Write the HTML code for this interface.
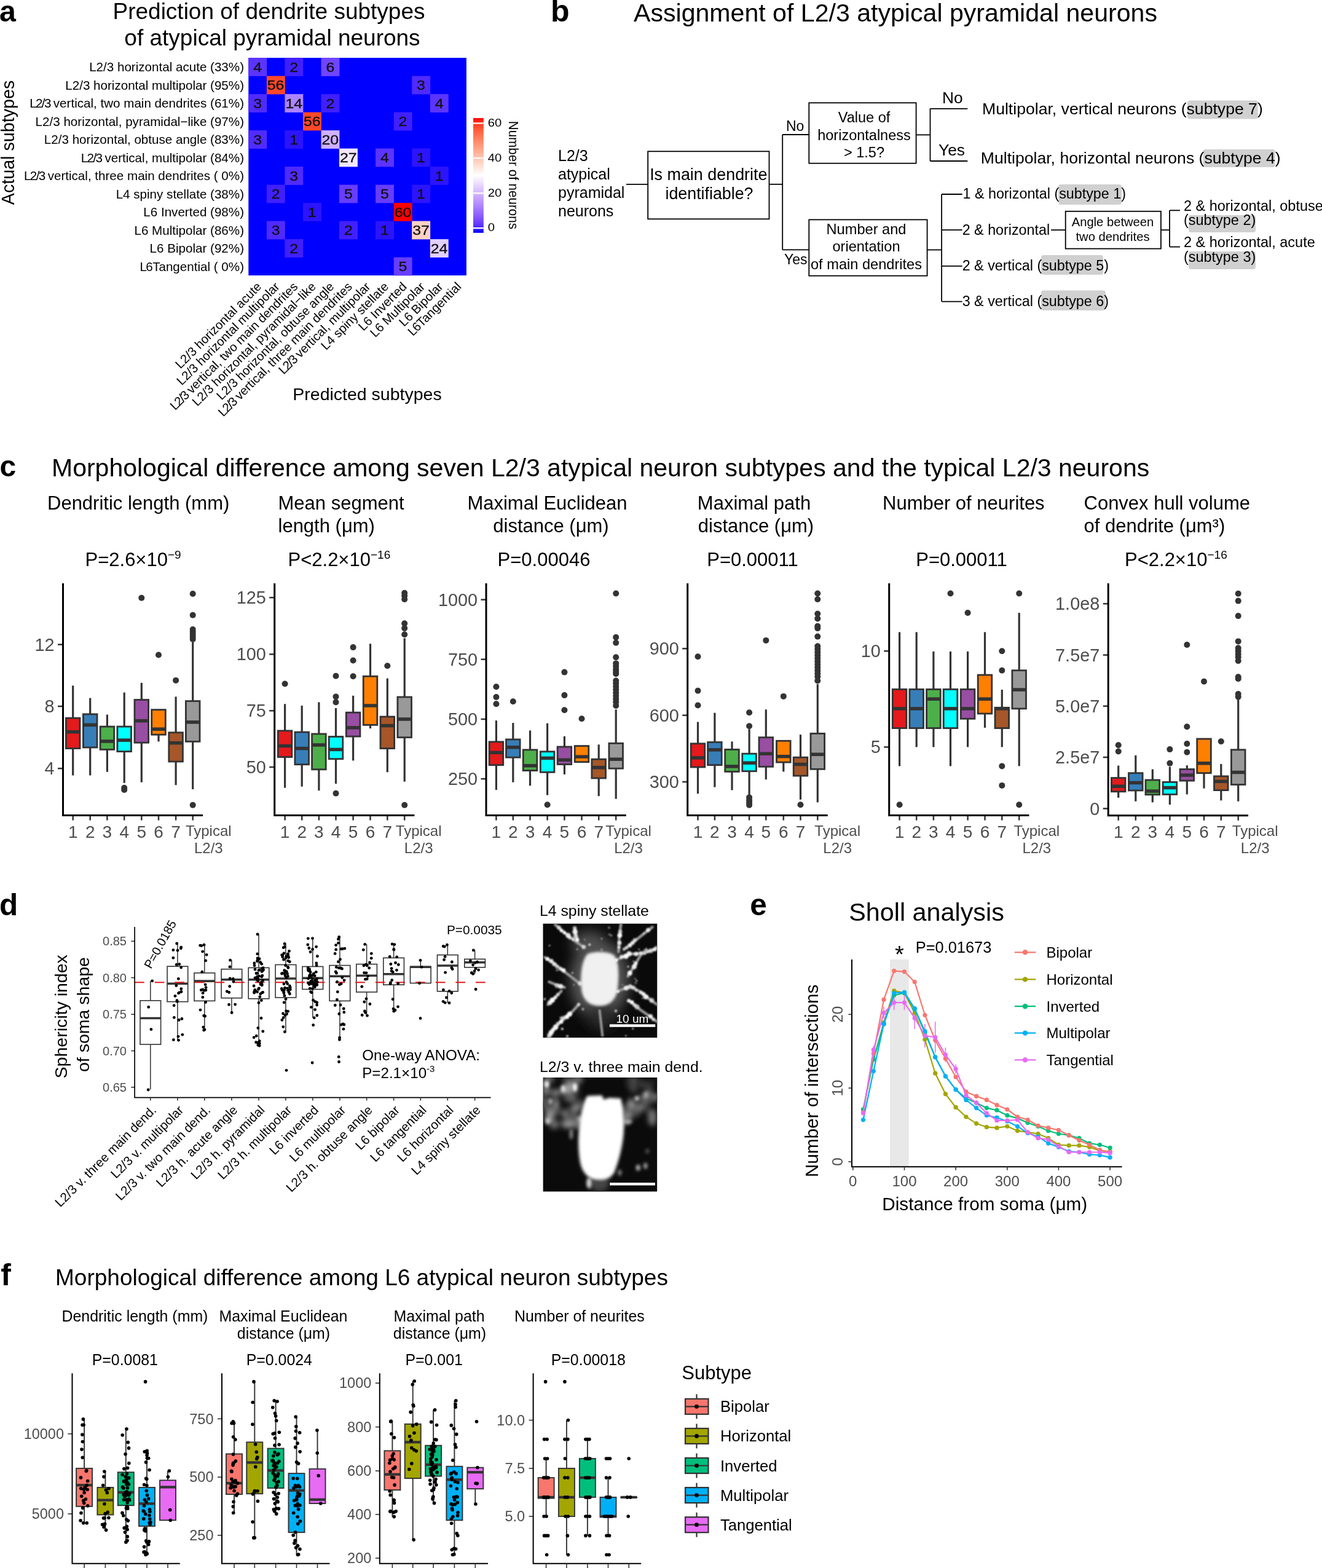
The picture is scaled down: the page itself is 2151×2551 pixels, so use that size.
<!DOCTYPE html>
<html><head><meta charset="utf-8"><title>Figure</title>
<style>html,body{margin:0;padding:0;background:#fff;} svg{display:block;}</style></head>
<body><svg width="2151" height="2551" viewBox="0 0 2151 2551" font-family="&quot;Liberation Sans&quot;, Arial, sans-serif">
<rect width="2151" height="2551" fill="#fff"/>
<text x="-0.9" y="35.0" font-size="48.3" font-weight="bold">a</text>
<text x="437.5" y="30.5" font-size="37" text-anchor="middle">Prediction of dendrite subtypes</text>
<text x="443.0" y="74.3" font-size="37" text-anchor="middle">of atypical pyramidal neurons</text>
<rect x="404.3" y="94.1" width="354.6" height="354.0" fill="#0000ff"/>
<rect x="404.3" y="94.1" width="29.9" height="29.8" fill="#5c34ff"/>
<rect x="463.4" y="94.1" width="29.9" height="29.8" fill="#4120ff"/>
<rect x="522.5" y="94.1" width="29.9" height="29.8" fill="#7145ff"/>
<rect x="433.9" y="123.6" width="29.9" height="29.8" fill="#ff482a"/>
<rect x="670.2" y="123.6" width="29.9" height="29.8" fill="#502bff"/>
<rect x="404.3" y="153.1" width="29.9" height="29.8" fill="#502bff"/>
<rect x="463.4" y="153.1" width="29.9" height="29.8" fill="#ad84ff"/>
<rect x="522.5" y="153.1" width="29.9" height="29.8" fill="#4120ff"/>
<rect x="699.8" y="153.1" width="29.9" height="29.8" fill="#5c34ff"/>
<rect x="493.0" y="182.6" width="29.9" height="29.8" fill="#ff482a"/>
<rect x="640.7" y="182.6" width="29.9" height="29.8" fill="#4120ff"/>
<rect x="404.3" y="212.1" width="29.9" height="29.8" fill="#502bff"/>
<rect x="463.4" y="212.1" width="29.9" height="29.8" fill="#2d14ff"/>
<rect x="522.5" y="212.1" width="29.9" height="29.8" fill="#cfb1ff"/>
<rect x="552.0" y="241.6" width="29.9" height="29.8" fill="#f2e7ff"/>
<rect x="611.1" y="241.6" width="29.9" height="29.8" fill="#5c34ff"/>
<rect x="670.2" y="241.6" width="29.9" height="29.8" fill="#2d14ff"/>
<rect x="463.4" y="271.1" width="29.9" height="29.8" fill="#502bff"/>
<rect x="699.8" y="271.1" width="29.9" height="29.8" fill="#2d14ff"/>
<rect x="433.9" y="300.6" width="29.9" height="29.8" fill="#4120ff"/>
<rect x="552.0" y="300.6" width="29.9" height="29.8" fill="#673dff"/>
<rect x="611.1" y="300.6" width="29.9" height="29.8" fill="#673dff"/>
<rect x="670.2" y="300.6" width="29.9" height="29.8" fill="#2d14ff"/>
<rect x="493.0" y="330.1" width="29.9" height="29.8" fill="#2d14ff"/>
<rect x="640.7" y="330.1" width="29.9" height="29.8" fill="#ff0000"/>
<rect x="433.9" y="359.6" width="29.9" height="29.8" fill="#502bff"/>
<rect x="552.0" y="359.6" width="29.9" height="29.8" fill="#4120ff"/>
<rect x="611.1" y="359.6" width="29.9" height="29.8" fill="#2d14ff"/>
<rect x="670.2" y="359.6" width="29.9" height="29.8" fill="#ffd2c3"/>
<rect x="463.4" y="389.1" width="29.9" height="29.8" fill="#4120ff"/>
<rect x="699.8" y="389.1" width="29.9" height="29.8" fill="#e3d0ff"/>
<rect x="640.7" y="418.6" width="29.9" height="29.8" fill="#673dff"/>
<text transform="translate(419.1 116.8) scale(1.1 1)" font-size="22.6" text-anchor="middle" fill="#111" stroke="#111" stroke-width="0.35">4</text>
<text transform="translate(478.2 116.8) scale(1.1 1)" font-size="22.6" text-anchor="middle" fill="#111" stroke="#111" stroke-width="0.35">2</text>
<text transform="translate(537.3 116.8) scale(1.1 1)" font-size="22.6" text-anchor="middle" fill="#111" stroke="#111" stroke-width="0.35">6</text>
<text transform="translate(448.6 146.2) scale(1.1 1)" font-size="22.6" text-anchor="middle" fill="#111" stroke="#111" stroke-width="0.35">56</text>
<text transform="translate(685.0 146.2) scale(1.1 1)" font-size="22.6" text-anchor="middle" fill="#111" stroke="#111" stroke-width="0.35">3</text>
<text transform="translate(419.1 175.8) scale(1.1 1)" font-size="22.6" text-anchor="middle" fill="#111" stroke="#111" stroke-width="0.35">3</text>
<text transform="translate(478.2 175.8) scale(1.1 1)" font-size="22.6" text-anchor="middle" fill="#111" stroke="#111" stroke-width="0.35">14</text>
<text transform="translate(537.3 175.8) scale(1.1 1)" font-size="22.6" text-anchor="middle" fill="#111" stroke="#111" stroke-width="0.35">2</text>
<text transform="translate(714.6 175.8) scale(1.1 1)" font-size="22.6" text-anchor="middle" fill="#111" stroke="#111" stroke-width="0.35">4</text>
<text transform="translate(507.7 205.2) scale(1.1 1)" font-size="22.6" text-anchor="middle" fill="#111" stroke="#111" stroke-width="0.35">56</text>
<text transform="translate(655.5 205.2) scale(1.1 1)" font-size="22.6" text-anchor="middle" fill="#111" stroke="#111" stroke-width="0.35">2</text>
<text transform="translate(419.1 234.8) scale(1.1 1)" font-size="22.6" text-anchor="middle" fill="#111" stroke="#111" stroke-width="0.35">3</text>
<text transform="translate(478.2 234.8) scale(1.1 1)" font-size="22.6" text-anchor="middle" fill="#111" stroke="#111" stroke-width="0.35">1</text>
<text transform="translate(537.3 234.8) scale(1.1 1)" font-size="22.6" text-anchor="middle" fill="#111" stroke="#111" stroke-width="0.35">20</text>
<text transform="translate(566.8 264.2) scale(1.1 1)" font-size="22.6" text-anchor="middle" fill="#111" stroke="#111" stroke-width="0.35">27</text>
<text transform="translate(625.9 264.2) scale(1.1 1)" font-size="22.6" text-anchor="middle" fill="#111" stroke="#111" stroke-width="0.35">4</text>
<text transform="translate(685.0 264.2) scale(1.1 1)" font-size="22.6" text-anchor="middle" fill="#111" stroke="#111" stroke-width="0.35">1</text>
<text transform="translate(478.2 293.8) scale(1.1 1)" font-size="22.6" text-anchor="middle" fill="#111" stroke="#111" stroke-width="0.35">3</text>
<text transform="translate(714.6 293.8) scale(1.1 1)" font-size="22.6" text-anchor="middle" fill="#111" stroke="#111" stroke-width="0.35">1</text>
<text transform="translate(448.6 323.2) scale(1.1 1)" font-size="22.6" text-anchor="middle" fill="#111" stroke="#111" stroke-width="0.35">2</text>
<text transform="translate(566.8 323.2) scale(1.1 1)" font-size="22.6" text-anchor="middle" fill="#111" stroke="#111" stroke-width="0.35">5</text>
<text transform="translate(625.9 323.2) scale(1.1 1)" font-size="22.6" text-anchor="middle" fill="#111" stroke="#111" stroke-width="0.35">5</text>
<text transform="translate(685.0 323.2) scale(1.1 1)" font-size="22.6" text-anchor="middle" fill="#111" stroke="#111" stroke-width="0.35">1</text>
<text transform="translate(507.7 352.8) scale(1.1 1)" font-size="22.6" text-anchor="middle" fill="#111" stroke="#111" stroke-width="0.35">1</text>
<text transform="translate(655.5 352.8) scale(1.1 1)" font-size="22.6" text-anchor="middle" fill="#111" stroke="#111" stroke-width="0.35">60</text>
<text transform="translate(448.6 382.2) scale(1.1 1)" font-size="22.6" text-anchor="middle" fill="#111" stroke="#111" stroke-width="0.35">3</text>
<text transform="translate(566.8 382.2) scale(1.1 1)" font-size="22.6" text-anchor="middle" fill="#111" stroke="#111" stroke-width="0.35">2</text>
<text transform="translate(625.9 382.2) scale(1.1 1)" font-size="22.6" text-anchor="middle" fill="#111" stroke="#111" stroke-width="0.35">1</text>
<text transform="translate(685.0 382.2) scale(1.1 1)" font-size="22.6" text-anchor="middle" fill="#111" stroke="#111" stroke-width="0.35">37</text>
<text transform="translate(478.2 411.8) scale(1.1 1)" font-size="22.6" text-anchor="middle" fill="#111" stroke="#111" stroke-width="0.35">2</text>
<text transform="translate(714.6 411.8) scale(1.1 1)" font-size="22.6" text-anchor="middle" fill="#111" stroke="#111" stroke-width="0.35">24</text>
<text transform="translate(655.5 441.2) scale(1.1 1)" font-size="22.6" text-anchor="middle" fill="#111" stroke="#111" stroke-width="0.35">5</text>
<text x="397.0" y="116.1" font-size="20.6" text-anchor="end">L2/3 horizontal acute (33%)</text>
<text x="397.0" y="145.7" font-size="20.6" text-anchor="end">L2/3 horizontal multipolar (95%)</text>
<text x="397.0" y="175.2" font-size="20.6" text-anchor="end"><tspan letter-spacing="-1.6">L2/3</tspan><tspan dx="5">vertical</tspan>, two main dendrites (61%)</text>
<text x="397.0" y="204.7" font-size="20.6" text-anchor="end">L2/3 horizontal, pyramidal−like (97%)</text>
<text x="397.0" y="234.2" font-size="20.6" text-anchor="end">L2/3 horizontal, obtuse angle (83%)</text>
<text x="397.0" y="263.7" font-size="20.6" text-anchor="end"><tspan letter-spacing="-1.6">L2/3</tspan><tspan dx="5">vertical</tspan>, multipolar (84%)</text>
<text x="397.0" y="293.2" font-size="20.6" text-anchor="end"><tspan letter-spacing="-1.6">L2/3</tspan><tspan dx="5">vertical</tspan>, three main dendrites ( 0%)</text>
<text x="397.0" y="322.7" font-size="20.6" text-anchor="end">L4 spiny stellate (38%)</text>
<text x="397.0" y="352.2" font-size="20.6" text-anchor="end">L6 Inverted (98%)</text>
<text x="397.0" y="381.7" font-size="20.6" text-anchor="end">L6 Multipolar (86%)</text>
<text x="397.0" y="411.2" font-size="20.6" text-anchor="end">L6 Bipolar (92%)</text>
<text x="397.0" y="440.7" font-size="20.6" text-anchor="end"><tspan letter-spacing="-1.6">L6</tspan><tspan dx="1">Tangential</tspan> ( 0%)</text>
<text x="426.6" y="467.6" font-size="20.3" text-anchor="end" transform="rotate(-45 426.6 467.6)">L2/3 horizontal acute</text>
<text x="456.1" y="467.6" font-size="20.3" text-anchor="end" transform="rotate(-45 456.1 467.6)">L2/3 horizontal multipolar</text>
<text x="485.7" y="467.6" font-size="20.3" text-anchor="end" transform="rotate(-45 485.7 467.6)"><tspan letter-spacing="-1.6">L2/3</tspan><tspan dx="5">vertical</tspan>, two main dendrites</text>
<text x="515.2" y="467.6" font-size="20.3" text-anchor="end" transform="rotate(-45 515.2 467.6)">L2/3 horizontal, pyramidal−like</text>
<text x="544.8" y="467.6" font-size="20.3" text-anchor="end" transform="rotate(-45 544.8 467.6)">L2/3 horizontal, obtuse angle</text>
<text x="574.3" y="467.6" font-size="20.3" text-anchor="end" transform="rotate(-45 574.3 467.6)"><tspan letter-spacing="-1.6">L2/3</tspan><tspan dx="5">vertical</tspan>, three main dendrites</text>
<text x="603.9" y="467.6" font-size="20.3" text-anchor="end" transform="rotate(-45 603.9 467.6)"><tspan letter-spacing="-1.6">L2/3</tspan><tspan dx="5">vertical</tspan>, multipolar</text>
<text x="633.4" y="467.6" font-size="20.3" text-anchor="end" transform="rotate(-45 633.4 467.6)">L4 spiny stellate</text>
<text x="663.0" y="467.6" font-size="20.3" text-anchor="end" transform="rotate(-45 663.0 467.6)">L6 Inverted</text>
<text x="692.5" y="467.6" font-size="20.3" text-anchor="end" transform="rotate(-45 692.5 467.6)">L6 Multipolar</text>
<text x="722.1" y="467.6" font-size="20.3" text-anchor="end" transform="rotate(-45 722.1 467.6)">L6 Bipolar</text>
<text x="751.6" y="467.6" font-size="20.3" text-anchor="end" transform="rotate(-45 751.6 467.6)"><tspan letter-spacing="-1.6">L6</tspan><tspan dx="1">Tangential</tspan></text>
<text x="597.5" y="651.4" font-size="28.5" text-anchor="middle">Predicted subtypes</text>
<text x="22.6" y="232.0" font-size="28.7" text-anchor="middle" transform="rotate(-90 22.6 232.0)">Actual subtypes</text>
<defs><linearGradient id="cb" x1="0" y1="1" x2="0" y2="0"><stop offset="0.000" stop-color="#0000ff"/><stop offset="0.050" stop-color="#502bff"/><stop offset="0.100" stop-color="#7145ff"/><stop offset="0.150" stop-color="#8a5dff"/><stop offset="0.200" stop-color="#a074ff"/><stop offset="0.250" stop-color="#b38bff"/><stop offset="0.300" stop-color="#c4a2ff"/><stop offset="0.350" stop-color="#d4b9ff"/><stop offset="0.400" stop-color="#e3d0ff"/><stop offset="0.450" stop-color="#f2e7ff"/><stop offset="0.500" stop-color="#ffffff"/><stop offset="0.550" stop-color="#ffece5"/><stop offset="0.600" stop-color="#ffd9cb"/><stop offset="0.650" stop-color="#ffc6b2"/><stop offset="0.700" stop-color="#ffb299"/><stop offset="0.750" stop-color="#ff9e81"/><stop offset="0.800" stop-color="#ff8969"/><stop offset="0.850" stop-color="#ff7352"/><stop offset="0.900" stop-color="#ff5b3a"/><stop offset="0.950" stop-color="#ff3e22"/><stop offset="1.000" stop-color="#ff0000"/></linearGradient></defs>
<rect x="770.0" y="192.1" width="16.8" height="186.7" fill="url(#cb)"/>
<line x1="770.0" y1="200.5" x2="786.8" y2="200.5" stroke="#fff" stroke-width="2.2"/>
<text transform="translate(793.7 205.8) scale(1.15 1)" font-size="17.6">60</text>
<line x1="770.0" y1="257.3" x2="786.8" y2="257.3" stroke="#fff" stroke-width="2.2"/>
<text transform="translate(793.7 262.6) scale(1.15 1)" font-size="17.6">40</text>
<line x1="770.0" y1="314.3" x2="786.8" y2="314.3" stroke="#fff" stroke-width="2.2"/>
<text transform="translate(793.7 319.6) scale(1.15 1)" font-size="17.6">20</text>
<line x1="770.0" y1="371.1" x2="786.8" y2="371.1" stroke="#fff" stroke-width="2.2"/>
<text transform="translate(793.7 376.4) scale(1.15 1)" font-size="17.6">0</text>
<text transform="translate(828 284.9) scale(1.1 1) rotate(90)" font-size="20.6" text-anchor="middle">Number of neurons</text>
<text x="895.9" y="35.3" font-size="50" font-weight="bold">b</text>
<text x="1031.0" y="35.0" font-size="41.1">Assignment of L2/3 atypical pyramidal neurons</text>
<text x="908.0" y="262.0" font-size="25">L2/3</text>
<text x="908.0" y="292.0" font-size="25">atypical</text>
<text x="908.0" y="322.0" font-size="25">pyramidal</text>
<text x="908.0" y="352.0" font-size="25">neurons</text>
<line x1="1019.0" y1="299.8" x2="1054.2" y2="299.8" stroke="#000" stroke-width="1.8"/>
<rect x="1054.2" y="246.3" width="197.3" height="110.0" fill="none" stroke="#000" stroke-width="1.8"/>
<text x="1152.8" y="292.7" font-size="26.9" text-anchor="middle">Is main dendrite</text>
<text x="1154.0" y="324.0" font-size="26.8" text-anchor="middle">identifiable?</text>
<line x1="1251.5" y1="299.8" x2="1273.2" y2="299.8" stroke="#000" stroke-width="1.8"/>
<line x1="1273.2" y1="219.0" x2="1273.2" y2="406.4" stroke="#000" stroke-width="1.8"/>
<line x1="1273.2" y1="219.0" x2="1316.3" y2="219.0" stroke="#000" stroke-width="1.8"/>
<line x1="1273.2" y1="406.4" x2="1316.3" y2="406.4" stroke="#000" stroke-width="1.8"/>
<text x="1279.0" y="213.0" font-size="23">No</text>
<text x="1276.0" y="430.0" font-size="23">Yes</text>
<rect x="1316.3" y="167.3" width="174.3" height="98.4" fill="none" stroke="#000" stroke-width="1.8"/>
<text x="1406.0" y="199.0" font-size="23.5" text-anchor="middle">Value of</text>
<text x="1406.0" y="227.5" font-size="23.5" text-anchor="middle">horizontalness</text>
<text x="1406.0" y="256.0" font-size="23.5" text-anchor="middle">&gt; 1.5?</text>
<rect x="1316.3" y="357.4" width="192.3" height="91.3" fill="none" stroke="#000" stroke-width="1.8"/>
<text x="1409.5" y="381.0" font-size="23.6" text-anchor="middle">Number and</text>
<text x="1409.5" y="409.3" font-size="23.6" text-anchor="middle">orientation</text>
<text x="1409.5" y="437.6" font-size="23.6" text-anchor="middle">of main dendrites</text>
<line x1="1490.6" y1="219.4" x2="1513.5" y2="219.4" stroke="#000" stroke-width="1.8"/>
<line x1="1513.5" y1="176.8" x2="1513.5" y2="262.0" stroke="#000" stroke-width="1.8"/>
<line x1="1513.5" y1="176.8" x2="1574.3" y2="176.8" stroke="#000" stroke-width="1.8"/>
<line x1="1513.5" y1="262.0" x2="1574.3" y2="262.0" stroke="#000" stroke-width="1.8"/>
<text x="1533.0" y="168.0" font-size="26.3">No</text>
<text x="1527.0" y="252.9" font-size="26.3">Yes</text>
<rect x="1932.0" y="163.5" width="114.8" height="30.0" rx="4" fill="#d0d0d0"/>
<rect x="1957.4" y="243.0" width="117.2" height="28.9" rx="4" fill="#d0d0d0"/>
<text x="1598.0" y="185.9" font-size="26.6">Multipolar, vertical neurons (subtype 7)</text>
<text x="1595.8" y="265.8" font-size="26.6">Multipolar, horizontal neurons (subtype 4)</text>
<line x1="1508.6" y1="406.5" x2="1532.1" y2="406.5" stroke="#000" stroke-width="1.8"/>
<line x1="1532.1" y1="316.0" x2="1532.1" y2="490.6" stroke="#000" stroke-width="1.8"/>
<line x1="1532.1" y1="316.0" x2="1565.6" y2="316.0" stroke="#000" stroke-width="1.8"/>
<line x1="1532.1" y1="374.2" x2="1565.6" y2="374.2" stroke="#000" stroke-width="1.8"/>
<line x1="1532.1" y1="432.8" x2="1565.6" y2="432.8" stroke="#000" stroke-width="1.8"/>
<line x1="1532.1" y1="490.6" x2="1565.6" y2="490.6" stroke="#000" stroke-width="1.8"/>
<rect x="1722.0" y="300.0" width="103.0" height="33.0" rx="4" fill="#d0d0d0"/>
<rect x="1694.0" y="415.0" width="101.0" height="32.0" rx="4" fill="#d0d0d0"/>
<rect x="1694.0" y="472.5" width="105.0" height="32.5" rx="4" fill="#d0d0d0"/>
<rect x="1934.0" y="350.0" width="109.0" height="28.0" rx="4" fill="#d0d0d0"/>
<rect x="1934.0" y="409.0" width="109.0" height="29.0" rx="4" fill="#d0d0d0"/>
<text x="1566.5" y="323.2" font-size="23.3">1 &amp; horizontal (subtype 1)</text>
<text x="1565.7" y="381.8" font-size="23.3">2 &amp; horizontal</text>
<text x="1565.7" y="440.0" font-size="23.3">2 &amp; vertical (subtype 5)</text>
<text x="1565.7" y="497.8" font-size="23.3">3 &amp; vertical (subtype 6)</text>
<line x1="1710.0" y1="374.2" x2="1733.7" y2="374.2" stroke="#000" stroke-width="1.8"/>
<rect x="1733.7" y="343.8" width="155.2" height="60.8" fill="none" stroke="#000" stroke-width="1.8"/>
<text x="1810.5" y="368.0" font-size="20.2" text-anchor="middle">Angle between</text>
<text x="1810.5" y="391.5" font-size="20.2" text-anchor="middle">two dendrites</text>
<line x1="1888.9" y1="374.2" x2="1903.0" y2="374.2" stroke="#000" stroke-width="1.8"/>
<line x1="1903.0" y1="342.3" x2="1903.0" y2="401.6" stroke="#000" stroke-width="1.8"/>
<line x1="1903.0" y1="342.3" x2="1920.0" y2="342.3" stroke="#000" stroke-width="1.8"/>
<line x1="1903.0" y1="401.6" x2="1920.0" y2="401.6" stroke="#000" stroke-width="1.8"/>
<text x="1926.0" y="343.0" font-size="23.45">2 &amp; horizontal, obtuse</text>
<text x="1926.0" y="365.8" font-size="23.45">(subtype 2)</text>
<text x="1926.0" y="402.0" font-size="23.45">2 &amp; horizontal, acute</text>
<text x="1926.0" y="425.6" font-size="23.45">(subtype 3)</text>
<text x="-0.5" y="775.4" font-size="48" font-weight="bold">c</text>
<text x="84.0" y="775.4" font-size="41">Morphological difference among seven L2/3 atypical neuron subtypes and the typical L2/3 neurons</text>
<text x="77.0" y="829.0" font-size="31">Dendritic length (mm)</text>
<text x="452.5" y="829.0" font-size="31">Mean segment</text>
<text x="452.5" y="865.7" font-size="31">length (μm)</text>
<text x="890.5" y="829.0" font-size="31" text-anchor="middle">Maximal Euclidean</text>
<text x="896.5" y="865.7" font-size="31" text-anchor="middle">distance (μm)</text>
<text x="1227.0" y="829.0" font-size="31" text-anchor="middle">Maximal path</text>
<text x="1230.0" y="865.7" font-size="31" text-anchor="middle">distance (μm)</text>
<text x="1436.0" y="829.0" font-size="31">Number of neurites</text>
<text x="1763.5" y="829.0" font-size="31">Convex hull volume</text>
<text x="1763.5" y="865.7" font-size="31">of dendrite (μm³)</text>
<text x="138.5" y="920.8" font-size="31">P=2.6×10<tspan font-size="19" dy="-12">−9</tspan></text>
<text x="468.5" y="920.8" font-size="31">P&lt;2.2×10<tspan font-size="19" dy="-12">−16</tspan></text>
<text x="885.0" y="920.8" font-size="31" text-anchor="middle">P=0.00046</text>
<text x="1224.5" y="920.8" font-size="31" text-anchor="middle">P=0.00011</text>
<text x="1564.5" y="920.8" font-size="31" text-anchor="middle">P=0.00011</text>
<text x="1830.0" y="920.8" font-size="31">P&lt;2.2×10<tspan font-size="19" dy="-12">−16</tspan></text>
<line x1="94.0" y1="1048.6" x2="102.5" y2="1048.6" stroke="#333333" stroke-width="2.5"/>
<text x="88.5" y="1058.6" font-size="28.8" text-anchor="end" fill="#4d4d4d">12</text>
<line x1="94.0" y1="1149.1" x2="102.5" y2="1149.1" stroke="#333333" stroke-width="2.5"/>
<text x="88.5" y="1159.1" font-size="28.8" text-anchor="end" fill="#4d4d4d">8</text>
<line x1="94.0" y1="1250.2" x2="102.5" y2="1250.2" stroke="#333333" stroke-width="2.5"/>
<text x="88.5" y="1260.2" font-size="28.8" text-anchor="end" fill="#4d4d4d">4</text>
<line x1="118.7" y1="1326.6" x2="118.7" y2="1334.6" stroke="#333333" stroke-width="2.5"/>
<text x="118.7" y="1362.5" font-size="28" text-anchor="middle" fill="#4d4d4d">1</text>
<line x1="146.7" y1="1326.6" x2="146.7" y2="1334.6" stroke="#333333" stroke-width="2.5"/>
<text x="146.7" y="1362.5" font-size="28" text-anchor="middle" fill="#4d4d4d">2</text>
<line x1="174.4" y1="1326.6" x2="174.4" y2="1334.6" stroke="#333333" stroke-width="2.5"/>
<text x="174.4" y="1362.5" font-size="28" text-anchor="middle" fill="#4d4d4d">3</text>
<line x1="202.2" y1="1326.6" x2="202.2" y2="1334.6" stroke="#333333" stroke-width="2.5"/>
<text x="202.2" y="1362.5" font-size="28" text-anchor="middle" fill="#4d4d4d">4</text>
<line x1="230.3" y1="1326.6" x2="230.3" y2="1334.6" stroke="#333333" stroke-width="2.5"/>
<text x="230.3" y="1362.5" font-size="28" text-anchor="middle" fill="#4d4d4d">5</text>
<line x1="258.0" y1="1326.6" x2="258.0" y2="1334.6" stroke="#333333" stroke-width="2.5"/>
<text x="258.0" y="1362.5" font-size="28" text-anchor="middle" fill="#4d4d4d">6</text>
<line x1="286.1" y1="1326.6" x2="286.1" y2="1334.6" stroke="#333333" stroke-width="2.5"/>
<text x="286.1" y="1362.5" font-size="28" text-anchor="middle" fill="#4d4d4d">7</text>
<line x1="313.7" y1="1326.6" x2="313.7" y2="1334.6" stroke="#333333" stroke-width="2.5"/>
<text x="339.3" y="1359.7" font-size="24" text-anchor="middle" fill="#4d4d4d">Typical</text>
<text x="339.3" y="1387.5" font-size="24" text-anchor="middle" fill="#4d4d4d">L2/3</text>
<line x1="118.7" y1="1115.4" x2="118.7" y2="1168.2" stroke="#333333" stroke-width="3.2"/>
<line x1="118.7" y1="1217.6" x2="118.7" y2="1261.5" stroke="#333333" stroke-width="3.2"/>
<rect x="107.4" y="1168.2" width="22.6" height="49.4" fill="#E41A1C" stroke="#333333" stroke-width="2.8"/>
<line x1="107.4" y1="1190.7" x2="130.0" y2="1190.7" stroke="#333333" stroke-width="5.5"/>
<line x1="146.7" y1="1135.6" x2="146.7" y2="1161.9" stroke="#333333" stroke-width="3.2"/>
<line x1="146.7" y1="1216.0" x2="146.7" y2="1261.5" stroke="#333333" stroke-width="3.2"/>
<rect x="135.4" y="1161.9" width="22.6" height="54.1" fill="#377EB8" stroke="#333333" stroke-width="2.8"/>
<line x1="135.4" y1="1179.4" x2="158.0" y2="1179.4" stroke="#333333" stroke-width="5.5"/>
<line x1="174.4" y1="1162.6" x2="174.4" y2="1182.1" stroke="#333333" stroke-width="3.2"/>
<line x1="174.4" y1="1219.4" x2="174.4" y2="1255.8" stroke="#333333" stroke-width="3.2"/>
<rect x="163.1" y="1182.1" width="22.6" height="37.3" fill="#4DAF4A" stroke="#333333" stroke-width="2.8"/>
<line x1="163.1" y1="1206.0" x2="185.7" y2="1206.0" stroke="#333333" stroke-width="5.5"/>
<line x1="202.2" y1="1126.6" x2="202.2" y2="1182.1" stroke="#333333" stroke-width="3.2"/>
<line x1="202.2" y1="1222.6" x2="202.2" y2="1273.8" stroke="#333333" stroke-width="3.2"/>
<rect x="190.9" y="1182.1" width="22.6" height="40.5" fill="#00FFFF" stroke="#333333" stroke-width="2.8"/>
<line x1="190.9" y1="1204.2" x2="213.5" y2="1204.2" stroke="#333333" stroke-width="5.5"/>
<circle cx="202.2" cy="1281.7" r="5" fill="#333333"/>
<circle cx="202.2" cy="1285.0" r="5" fill="#333333"/>
<line x1="230.3" y1="1110.9" x2="230.3" y2="1138.5" stroke="#333333" stroke-width="3.2"/>
<line x1="230.3" y1="1208.2" x2="230.3" y2="1272.7" stroke="#333333" stroke-width="3.2"/>
<rect x="219.0" y="1138.5" width="22.6" height="69.7" fill="#984EA3" stroke="#333333" stroke-width="2.8"/>
<line x1="219.0" y1="1172.7" x2="241.6" y2="1172.7" stroke="#333333" stroke-width="5.5"/>
<circle cx="230.3" cy="972.7" r="5" fill="#333333"/>
<line x1="258.0" y1="1195.2" x2="258.0" y2="1206.4" stroke="#333333" stroke-width="3.2"/>
<rect x="246.7" y="1154.7" width="22.6" height="40.5" fill="#FF7F00" stroke="#333333" stroke-width="2.8"/>
<line x1="246.7" y1="1186.2" x2="269.3" y2="1186.2" stroke="#333333" stroke-width="5.5"/>
<circle cx="258.0" cy="1065.5" r="5" fill="#333333"/>
<line x1="286.1" y1="1133.4" x2="286.1" y2="1191.8" stroke="#333333" stroke-width="3.2"/>
<line x1="286.1" y1="1239.0" x2="286.1" y2="1277.2" stroke="#333333" stroke-width="3.2"/>
<rect x="274.8" y="1191.8" width="22.6" height="47.2" fill="#A65628" stroke="#333333" stroke-width="2.8"/>
<line x1="274.8" y1="1208.7" x2="297.4" y2="1208.7" stroke="#333333" stroke-width="5.5"/>
<circle cx="286.1" cy="1106.9" r="5" fill="#333333"/>
<line x1="313.7" y1="1044.6" x2="313.7" y2="1140.6" stroke="#333333" stroke-width="3.2"/>
<line x1="313.7" y1="1206.4" x2="313.7" y2="1284.0" stroke="#333333" stroke-width="3.2"/>
<rect x="302.4" y="1140.6" width="22.6" height="65.8" fill="#999999" stroke="#333333" stroke-width="2.8"/>
<line x1="302.4" y1="1174.9" x2="325.0" y2="1174.9" stroke="#333333" stroke-width="5.5"/>
<circle cx="313.7" cy="966.0" r="5" fill="#333333"/>
<circle cx="313.7" cy="1000.8" r="5" fill="#333333"/>
<circle cx="313.7" cy="1024.0" r="5" fill="#333333"/>
<circle cx="313.7" cy="1028.0" r="5" fill="#333333"/>
<circle cx="313.7" cy="1032.0" r="5" fill="#333333"/>
<circle cx="313.7" cy="1036.0" r="5" fill="#333333"/>
<circle cx="313.7" cy="1040.0" r="5" fill="#333333"/>
<circle cx="313.7" cy="1309.8" r="5" fill="#333333"/>
<path d="M102.5 949.1 V1326.6 H330.0" fill="none" stroke="#000" stroke-width="3"/>
<line x1="438.2" y1="972.2" x2="446.7" y2="972.2" stroke="#333333" stroke-width="2.5"/>
<text x="432.7" y="982.2" font-size="28.8" text-anchor="end" fill="#4d4d4d">125</text>
<line x1="438.2" y1="1064.4" x2="446.7" y2="1064.4" stroke="#333333" stroke-width="2.5"/>
<text x="432.7" y="1074.4" font-size="28.8" text-anchor="end" fill="#4d4d4d">100</text>
<line x1="438.2" y1="1156.3" x2="446.7" y2="1156.3" stroke="#333333" stroke-width="2.5"/>
<text x="432.7" y="1166.3" font-size="28.8" text-anchor="end" fill="#4d4d4d">75</text>
<line x1="438.2" y1="1248.0" x2="446.7" y2="1248.0" stroke="#333333" stroke-width="2.5"/>
<text x="432.7" y="1258.0" font-size="28.8" text-anchor="end" fill="#4d4d4d">50</text>
<line x1="463.6" y1="1326.6" x2="463.6" y2="1334.6" stroke="#333333" stroke-width="2.5"/>
<text x="463.6" y="1362.5" font-size="28" text-anchor="middle" fill="#4d4d4d">1</text>
<line x1="491.2" y1="1326.6" x2="491.2" y2="1334.6" stroke="#333333" stroke-width="2.5"/>
<text x="491.2" y="1362.5" font-size="28" text-anchor="middle" fill="#4d4d4d">2</text>
<line x1="518.9" y1="1326.6" x2="518.9" y2="1334.6" stroke="#333333" stroke-width="2.5"/>
<text x="518.9" y="1362.5" font-size="28" text-anchor="middle" fill="#4d4d4d">3</text>
<line x1="546.5" y1="1326.6" x2="546.5" y2="1334.6" stroke="#333333" stroke-width="2.5"/>
<text x="546.5" y="1362.5" font-size="28" text-anchor="middle" fill="#4d4d4d">4</text>
<line x1="574.6" y1="1326.6" x2="574.6" y2="1334.6" stroke="#333333" stroke-width="2.5"/>
<text x="574.6" y="1362.5" font-size="28" text-anchor="middle" fill="#4d4d4d">5</text>
<line x1="602.5" y1="1326.6" x2="602.5" y2="1334.6" stroke="#333333" stroke-width="2.5"/>
<text x="602.5" y="1362.5" font-size="28" text-anchor="middle" fill="#4d4d4d">6</text>
<line x1="630.3" y1="1326.6" x2="630.3" y2="1334.6" stroke="#333333" stroke-width="2.5"/>
<text x="630.3" y="1362.5" font-size="28" text-anchor="middle" fill="#4d4d4d">7</text>
<line x1="658.2" y1="1326.6" x2="658.2" y2="1334.6" stroke="#333333" stroke-width="2.5"/>
<text x="681.2" y="1359.7" font-size="24" text-anchor="middle" fill="#4d4d4d">Typical</text>
<text x="681.2" y="1387.5" font-size="24" text-anchor="middle" fill="#4d4d4d">L2/3</text>
<line x1="463.6" y1="1145.3" x2="463.6" y2="1188.9" stroke="#333333" stroke-width="3.2"/>
<line x1="463.6" y1="1231.6" x2="463.6" y2="1281.7" stroke="#333333" stroke-width="3.2"/>
<rect x="452.3" y="1188.9" width="22.6" height="42.7" fill="#E41A1C" stroke="#333333" stroke-width="2.8"/>
<line x1="452.3" y1="1213.6" x2="474.9" y2="1213.6" stroke="#333333" stroke-width="5.5"/>
<circle cx="463.6" cy="1112.5" r="5" fill="#333333"/>
<line x1="491.2" y1="1148.0" x2="491.2" y2="1191.1" stroke="#333333" stroke-width="3.2"/>
<line x1="491.2" y1="1243.7" x2="491.2" y2="1279.7" stroke="#333333" stroke-width="3.2"/>
<rect x="479.9" y="1191.1" width="22.6" height="52.6" fill="#377EB8" stroke="#333333" stroke-width="2.8"/>
<line x1="479.9" y1="1217.6" x2="502.5" y2="1217.6" stroke="#333333" stroke-width="5.5"/>
<line x1="518.9" y1="1142.4" x2="518.9" y2="1194.0" stroke="#333333" stroke-width="3.2"/>
<line x1="518.9" y1="1251.8" x2="518.9" y2="1286.2" stroke="#333333" stroke-width="3.2"/>
<rect x="507.6" y="1194.0" width="22.6" height="57.8" fill="#4DAF4A" stroke="#333333" stroke-width="2.8"/>
<line x1="507.6" y1="1212.0" x2="530.2" y2="1212.0" stroke="#333333" stroke-width="5.5"/>
<line x1="546.5" y1="1152.0" x2="546.5" y2="1198.5" stroke="#333333" stroke-width="3.2"/>
<line x1="546.5" y1="1234.7" x2="546.5" y2="1275.0" stroke="#333333" stroke-width="3.2"/>
<rect x="535.2" y="1198.5" width="22.6" height="36.2" fill="#00FFFF" stroke="#333333" stroke-width="2.8"/>
<line x1="535.2" y1="1219.4" x2="557.8" y2="1219.4" stroke="#333333" stroke-width="5.5"/>
<circle cx="546.5" cy="1099.7" r="5" fill="#333333"/>
<circle cx="546.5" cy="1133.4" r="5" fill="#333333"/>
<circle cx="546.5" cy="1142.4" r="5" fill="#333333"/>
<circle cx="546.5" cy="1290.7" r="5" fill="#333333"/>
<line x1="574.6" y1="1131.8" x2="574.6" y2="1159.2" stroke="#333333" stroke-width="3.2"/>
<line x1="574.6" y1="1198.1" x2="574.6" y2="1237.4" stroke="#333333" stroke-width="3.2"/>
<rect x="563.3" y="1159.2" width="22.6" height="38.9" fill="#984EA3" stroke="#333333" stroke-width="2.8"/>
<line x1="563.3" y1="1183.9" x2="585.9" y2="1183.9" stroke="#333333" stroke-width="5.5"/>
<circle cx="574.6" cy="1053.1" r="5" fill="#333333"/>
<circle cx="574.6" cy="1074.5" r="5" fill="#333333"/>
<circle cx="574.6" cy="1100.3" r="5" fill="#333333"/>
<line x1="602.5" y1="1047.3" x2="602.5" y2="1100.3" stroke="#333333" stroke-width="3.2"/>
<line x1="602.5" y1="1179.4" x2="602.5" y2="1185.1" stroke="#333333" stroke-width="3.2"/>
<rect x="591.2" y="1100.3" width="22.6" height="79.1" fill="#FF7F00" stroke="#333333" stroke-width="2.8"/>
<line x1="591.2" y1="1148.0" x2="613.8" y2="1148.0" stroke="#333333" stroke-width="5.5"/>
<line x1="630.3" y1="1103.7" x2="630.3" y2="1166.0" stroke="#333333" stroke-width="3.2"/>
<line x1="630.3" y1="1217.6" x2="630.3" y2="1256.3" stroke="#333333" stroke-width="3.2"/>
<rect x="619.0" y="1166.0" width="22.6" height="51.6" fill="#A65628" stroke="#333333" stroke-width="2.8"/>
<line x1="619.0" y1="1180.6" x2="641.6" y2="1180.6" stroke="#333333" stroke-width="5.5"/>
<circle cx="630.3" cy="1083.3" r="5" fill="#333333"/>
<line x1="658.2" y1="1038.3" x2="658.2" y2="1134.0" stroke="#333333" stroke-width="3.2"/>
<line x1="658.2" y1="1199.7" x2="658.2" y2="1271.6" stroke="#333333" stroke-width="3.2"/>
<rect x="646.9" y="1134.0" width="22.6" height="65.7" fill="#999999" stroke="#333333" stroke-width="2.8"/>
<line x1="646.9" y1="1170.0" x2="669.5" y2="1170.0" stroke="#333333" stroke-width="5.5"/>
<circle cx="658.2" cy="964.8" r="5" fill="#333333"/>
<circle cx="658.2" cy="969.3" r="5" fill="#333333"/>
<circle cx="658.2" cy="975.0" r="5" fill="#333333"/>
<circle cx="658.2" cy="1014.3" r="5" fill="#333333"/>
<circle cx="658.2" cy="1022.1" r="5" fill="#333333"/>
<circle cx="658.2" cy="1032.2" r="5" fill="#333333"/>
<circle cx="658.2" cy="1309.8" r="5" fill="#333333"/>
<path d="M446.7 949.1 V1326.6 H674.4" fill="none" stroke="#000" stroke-width="3"/>
<line x1="782.5" y1="975.6" x2="791.0" y2="975.6" stroke="#333333" stroke-width="2.5"/>
<text x="777.0" y="985.6" font-size="28.8" text-anchor="end" fill="#4d4d4d">1000</text>
<line x1="782.5" y1="1072.7" x2="791.0" y2="1072.7" stroke="#333333" stroke-width="2.5"/>
<text x="777.0" y="1082.7" font-size="28.8" text-anchor="end" fill="#4d4d4d">750</text>
<line x1="782.5" y1="1170.0" x2="791.0" y2="1170.0" stroke="#333333" stroke-width="2.5"/>
<text x="777.0" y="1180.0" font-size="28.8" text-anchor="end" fill="#4d4d4d">500</text>
<line x1="782.5" y1="1267.1" x2="791.0" y2="1267.1" stroke="#333333" stroke-width="2.5"/>
<text x="777.0" y="1277.1" font-size="28.8" text-anchor="end" fill="#4d4d4d">250</text>
<line x1="807.4" y1="1326.6" x2="807.4" y2="1334.6" stroke="#333333" stroke-width="2.5"/>
<text x="807.4" y="1362.5" font-size="28" text-anchor="middle" fill="#4d4d4d">1</text>
<line x1="834.8" y1="1326.6" x2="834.8" y2="1334.6" stroke="#333333" stroke-width="2.5"/>
<text x="834.8" y="1362.5" font-size="28" text-anchor="middle" fill="#4d4d4d">2</text>
<line x1="862.5" y1="1326.6" x2="862.5" y2="1334.6" stroke="#333333" stroke-width="2.5"/>
<text x="862.5" y="1362.5" font-size="28" text-anchor="middle" fill="#4d4d4d">3</text>
<line x1="890.6" y1="1326.6" x2="890.6" y2="1334.6" stroke="#333333" stroke-width="2.5"/>
<text x="890.6" y="1362.5" font-size="28" text-anchor="middle" fill="#4d4d4d">4</text>
<line x1="918.4" y1="1326.6" x2="918.4" y2="1334.6" stroke="#333333" stroke-width="2.5"/>
<text x="918.4" y="1362.5" font-size="28" text-anchor="middle" fill="#4d4d4d">5</text>
<line x1="946.5" y1="1326.6" x2="946.5" y2="1334.6" stroke="#333333" stroke-width="2.5"/>
<text x="946.5" y="1362.5" font-size="28" text-anchor="middle" fill="#4d4d4d">6</text>
<line x1="974.2" y1="1326.6" x2="974.2" y2="1334.6" stroke="#333333" stroke-width="2.5"/>
<text x="974.2" y="1362.5" font-size="28" text-anchor="middle" fill="#4d4d4d">7</text>
<line x1="1002.2" y1="1326.6" x2="1002.2" y2="1334.6" stroke="#333333" stroke-width="2.5"/>
<text x="1022.5" y="1359.7" font-size="24" text-anchor="middle" fill="#4d4d4d">Typical</text>
<text x="1022.5" y="1387.5" font-size="24" text-anchor="middle" fill="#4d4d4d">L2/3</text>
<line x1="807.4" y1="1172.2" x2="807.4" y2="1206.9" stroke="#333333" stroke-width="3.2"/>
<line x1="807.4" y1="1244.6" x2="807.4" y2="1285.1" stroke="#333333" stroke-width="3.2"/>
<rect x="796.1" y="1206.9" width="22.6" height="37.7" fill="#E41A1C" stroke="#333333" stroke-width="2.8"/>
<line x1="796.1" y1="1224.4" x2="818.7" y2="1224.4" stroke="#333333" stroke-width="5.5"/>
<circle cx="807.4" cy="1117.2" r="5" fill="#333333"/>
<circle cx="807.4" cy="1134.0" r="5" fill="#333333"/>
<circle cx="807.4" cy="1145.3" r="5" fill="#333333"/>
<line x1="834.8" y1="1176.1" x2="834.8" y2="1203.0" stroke="#333333" stroke-width="3.2"/>
<line x1="834.8" y1="1232.2" x2="834.8" y2="1272.7" stroke="#333333" stroke-width="3.2"/>
<rect x="823.5" y="1203.0" width="22.6" height="29.2" fill="#377EB8" stroke="#333333" stroke-width="2.8"/>
<line x1="823.5" y1="1215.8" x2="846.1" y2="1215.8" stroke="#333333" stroke-width="5.5"/>
<circle cx="834.8" cy="1141.2" r="5" fill="#333333"/>
<line x1="862.5" y1="1188.4" x2="862.5" y2="1219.9" stroke="#333333" stroke-width="3.2"/>
<line x1="862.5" y1="1253.6" x2="862.5" y2="1278.3" stroke="#333333" stroke-width="3.2"/>
<rect x="851.2" y="1219.9" width="22.6" height="33.7" fill="#4DAF4A" stroke="#333333" stroke-width="2.8"/>
<line x1="851.2" y1="1245.7" x2="873.8" y2="1245.7" stroke="#333333" stroke-width="5.5"/>
<line x1="890.6" y1="1176.7" x2="890.6" y2="1222.8" stroke="#333333" stroke-width="3.2"/>
<line x1="890.6" y1="1256.3" x2="890.6" y2="1293.6" stroke="#333333" stroke-width="3.2"/>
<rect x="879.3" y="1222.8" width="22.6" height="33.5" fill="#00FFFF" stroke="#333333" stroke-width="2.8"/>
<line x1="879.3" y1="1233.4" x2="901.9" y2="1233.4" stroke="#333333" stroke-width="5.5"/>
<circle cx="890.6" cy="1309.3" r="5" fill="#333333"/>
<line x1="918.4" y1="1197.9" x2="918.4" y2="1215.0" stroke="#333333" stroke-width="3.2"/>
<line x1="918.4" y1="1243.5" x2="918.4" y2="1259.9" stroke="#333333" stroke-width="3.2"/>
<rect x="907.1" y="1215.0" width="22.6" height="28.5" fill="#984EA3" stroke="#333333" stroke-width="2.8"/>
<line x1="907.1" y1="1236.3" x2="929.7" y2="1236.3" stroke="#333333" stroke-width="5.5"/>
<circle cx="918.4" cy="1093.6" r="5" fill="#333333"/>
<circle cx="918.4" cy="1131.1" r="5" fill="#333333"/>
<circle cx="918.4" cy="1155.2" r="5" fill="#333333"/>
<line x1="946.5" y1="1239.7" x2="946.5" y2="1240.1" stroke="#333333" stroke-width="3.2"/>
<rect x="935.2" y="1213.6" width="22.6" height="26.1" fill="#FF7F00" stroke="#333333" stroke-width="2.8"/>
<line x1="935.2" y1="1231.1" x2="957.8" y2="1231.1" stroke="#333333" stroke-width="5.5"/>
<circle cx="946.5" cy="1169.3" r="5" fill="#333333"/>
<line x1="974.2" y1="1211.3" x2="974.2" y2="1235.2" stroke="#333333" stroke-width="3.2"/>
<line x1="974.2" y1="1266.0" x2="974.2" y2="1295.2" stroke="#333333" stroke-width="3.2"/>
<rect x="962.9" y="1235.2" width="22.6" height="30.8" fill="#A65628" stroke="#333333" stroke-width="2.8"/>
<line x1="962.9" y1="1248.7" x2="985.5" y2="1248.7" stroke="#333333" stroke-width="5.5"/>
<line x1="1002.2" y1="1154.3" x2="1002.2" y2="1209.3" stroke="#333333" stroke-width="3.2"/>
<line x1="1002.2" y1="1250.2" x2="1002.2" y2="1299.7" stroke="#333333" stroke-width="3.2"/>
<rect x="990.9" y="1209.3" width="22.6" height="40.9" fill="#999999" stroke="#333333" stroke-width="2.8"/>
<line x1="990.9" y1="1235.2" x2="1013.5" y2="1235.2" stroke="#333333" stroke-width="5.5"/>
<circle cx="1002.2" cy="965.5" r="5" fill="#333333"/>
<circle cx="1002.2" cy="1036.7" r="5" fill="#333333"/>
<circle cx="1002.2" cy="1045.7" r="5" fill="#333333"/>
<circle cx="1002.2" cy="1069.3" r="5" fill="#333333"/>
<circle cx="1002.2" cy="1079.4" r="5" fill="#333333"/>
<circle cx="1002.2" cy="1084.0" r="5" fill="#333333"/>
<circle cx="1002.2" cy="1089.0" r="5" fill="#333333"/>
<circle cx="1002.2" cy="1093.0" r="5" fill="#333333"/>
<circle cx="1002.2" cy="1096.3" r="5" fill="#333333"/>
<circle cx="1002.2" cy="1107.5" r="5" fill="#333333"/>
<circle cx="1002.2" cy="1112.0" r="5" fill="#333333"/>
<circle cx="1002.2" cy="1117.0" r="5" fill="#333333"/>
<circle cx="1002.2" cy="1122.0" r="5" fill="#333333"/>
<circle cx="1002.2" cy="1127.0" r="5" fill="#333333"/>
<circle cx="1002.2" cy="1132.0" r="5" fill="#333333"/>
<circle cx="1002.2" cy="1137.0" r="5" fill="#333333"/>
<circle cx="1002.2" cy="1142.0" r="5" fill="#333333"/>
<circle cx="1002.2" cy="1148.0" r="5" fill="#333333"/>
<path d="M791.0 949.1 V1326.6 H1018.7" fill="none" stroke="#000" stroke-width="3"/>
<line x1="1110.2" y1="1055.2" x2="1118.7" y2="1055.2" stroke="#333333" stroke-width="2.5"/>
<text x="1104.7" y="1065.2" font-size="28.8" text-anchor="end" fill="#4d4d4d">900</text>
<line x1="1110.2" y1="1163.7" x2="1118.7" y2="1163.7" stroke="#333333" stroke-width="2.5"/>
<text x="1104.7" y="1173.7" font-size="28.8" text-anchor="end" fill="#4d4d4d">600</text>
<line x1="1110.2" y1="1272.0" x2="1118.7" y2="1272.0" stroke="#333333" stroke-width="2.5"/>
<text x="1104.7" y="1282.0" font-size="28.8" text-anchor="end" fill="#4d4d4d">300</text>
<line x1="1135.5" y1="1326.6" x2="1135.5" y2="1334.6" stroke="#333333" stroke-width="2.5"/>
<text x="1135.5" y="1362.5" font-size="28" text-anchor="middle" fill="#4d4d4d">1</text>
<line x1="1162.9" y1="1326.6" x2="1162.9" y2="1334.6" stroke="#333333" stroke-width="2.5"/>
<text x="1162.9" y="1362.5" font-size="28" text-anchor="middle" fill="#4d4d4d">2</text>
<line x1="1191.0" y1="1326.6" x2="1191.0" y2="1334.6" stroke="#333333" stroke-width="2.5"/>
<text x="1191.0" y="1362.5" font-size="28" text-anchor="middle" fill="#4d4d4d">3</text>
<line x1="1219.1" y1="1326.6" x2="1219.1" y2="1334.6" stroke="#333333" stroke-width="2.5"/>
<text x="1219.1" y="1362.5" font-size="28" text-anchor="middle" fill="#4d4d4d">4</text>
<line x1="1246.3" y1="1326.6" x2="1246.3" y2="1334.6" stroke="#333333" stroke-width="2.5"/>
<text x="1246.3" y="1362.5" font-size="28" text-anchor="middle" fill="#4d4d4d">5</text>
<line x1="1274.8" y1="1326.6" x2="1274.8" y2="1334.6" stroke="#333333" stroke-width="2.5"/>
<text x="1274.8" y="1362.5" font-size="28" text-anchor="middle" fill="#4d4d4d">6</text>
<line x1="1302.5" y1="1326.6" x2="1302.5" y2="1334.6" stroke="#333333" stroke-width="2.5"/>
<text x="1302.5" y="1362.5" font-size="28" text-anchor="middle" fill="#4d4d4d">7</text>
<line x1="1330.3" y1="1326.6" x2="1330.3" y2="1334.6" stroke="#333333" stroke-width="2.5"/>
<text x="1362.7" y="1359.7" font-size="24" text-anchor="middle" fill="#4d4d4d">Typical</text>
<text x="1362.7" y="1387.5" font-size="24" text-anchor="middle" fill="#4d4d4d">L2/3</text>
<line x1="1135.5" y1="1174.5" x2="1135.5" y2="1209.8" stroke="#333333" stroke-width="3.2"/>
<line x1="1135.5" y1="1248.0" x2="1135.5" y2="1291.3" stroke="#333333" stroke-width="3.2"/>
<rect x="1124.2" y="1209.8" width="22.6" height="38.2" fill="#E41A1C" stroke="#333333" stroke-width="2.8"/>
<line x1="1124.2" y1="1232.9" x2="1146.8" y2="1232.9" stroke="#333333" stroke-width="5.5"/>
<circle cx="1135.5" cy="1068.2" r="5" fill="#333333"/>
<circle cx="1135.5" cy="1123.7" r="5" fill="#333333"/>
<circle cx="1135.5" cy="1147.5" r="5" fill="#333333"/>
<line x1="1162.9" y1="1159.7" x2="1162.9" y2="1207.5" stroke="#333333" stroke-width="3.2"/>
<line x1="1162.9" y1="1244.6" x2="1162.9" y2="1280.6" stroke="#333333" stroke-width="3.2"/>
<rect x="1151.6" y="1207.5" width="22.6" height="37.1" fill="#377EB8" stroke="#333333" stroke-width="2.8"/>
<line x1="1151.6" y1="1219.9" x2="1174.2" y2="1219.9" stroke="#333333" stroke-width="5.5"/>
<line x1="1191.0" y1="1206.4" x2="1191.0" y2="1219.4" stroke="#333333" stroke-width="3.2"/>
<line x1="1191.0" y1="1255.4" x2="1191.0" y2="1285.5" stroke="#333333" stroke-width="3.2"/>
<rect x="1179.7" y="1219.4" width="22.6" height="36.0" fill="#4DAF4A" stroke="#333333" stroke-width="2.8"/>
<line x1="1179.7" y1="1246.9" x2="1202.3" y2="1246.9" stroke="#333333" stroke-width="5.5"/>
<line x1="1219.1" y1="1186.2" x2="1219.1" y2="1226.2" stroke="#333333" stroke-width="3.2"/>
<line x1="1219.1" y1="1254.7" x2="1219.1" y2="1298.5" stroke="#333333" stroke-width="3.2"/>
<rect x="1207.8" y="1226.2" width="22.6" height="28.5" fill="#00FFFF" stroke="#333333" stroke-width="2.8"/>
<line x1="1207.8" y1="1241.2" x2="1230.4" y2="1241.2" stroke="#333333" stroke-width="5.5"/>
<circle cx="1219.1" cy="1159.2" r="5" fill="#333333"/>
<circle cx="1219.1" cy="1181.2" r="5" fill="#333333"/>
<circle cx="1219.1" cy="1297.4" r="5" fill="#333333"/>
<circle cx="1219.1" cy="1302.0" r="5" fill="#333333"/>
<circle cx="1219.1" cy="1306.0" r="5" fill="#333333"/>
<circle cx="1219.1" cy="1309.8" r="5" fill="#333333"/>
<line x1="1246.3" y1="1154.3" x2="1246.3" y2="1199.7" stroke="#333333" stroke-width="3.2"/>
<line x1="1246.3" y1="1247.3" x2="1246.3" y2="1268.2" stroke="#333333" stroke-width="3.2"/>
<rect x="1235.0" y="1199.7" width="22.6" height="47.6" fill="#984EA3" stroke="#333333" stroke-width="2.8"/>
<line x1="1235.0" y1="1226.2" x2="1257.6" y2="1226.2" stroke="#333333" stroke-width="5.5"/>
<circle cx="1246.3" cy="1041.9" r="5" fill="#333333"/>
<line x1="1274.8" y1="1240.1" x2="1274.8" y2="1255.4" stroke="#333333" stroke-width="3.2"/>
<rect x="1263.5" y="1205.3" width="22.6" height="34.8" fill="#FF7F00" stroke="#333333" stroke-width="2.8"/>
<line x1="1263.5" y1="1230.7" x2="1286.1" y2="1230.7" stroke="#333333" stroke-width="5.5"/>
<circle cx="1274.8" cy="1132.9" r="5" fill="#333333"/>
<line x1="1302.5" y1="1195.2" x2="1302.5" y2="1232.2" stroke="#333333" stroke-width="3.2"/>
<line x1="1302.5" y1="1262.1" x2="1302.5" y2="1300.8" stroke="#333333" stroke-width="3.2"/>
<rect x="1291.2" y="1232.2" width="22.6" height="29.9" fill="#A65628" stroke="#333333" stroke-width="2.8"/>
<line x1="1291.2" y1="1243.5" x2="1313.8" y2="1243.5" stroke="#333333" stroke-width="5.5"/>
<circle cx="1302.5" cy="1309.3" r="5" fill="#333333"/>
<line x1="1330.3" y1="1113.1" x2="1330.3" y2="1193.4" stroke="#333333" stroke-width="3.2"/>
<line x1="1330.3" y1="1251.3" x2="1330.3" y2="1305.3" stroke="#333333" stroke-width="3.2"/>
<rect x="1319.0" y="1193.4" width="22.6" height="57.9" fill="#999999" stroke="#333333" stroke-width="2.8"/>
<line x1="1319.0" y1="1227.3" x2="1341.6" y2="1227.3" stroke="#333333" stroke-width="5.5"/>
<circle cx="1330.3" cy="965.5" r="5" fill="#333333"/>
<circle cx="1330.3" cy="975.0" r="5" fill="#333333"/>
<circle cx="1330.3" cy="998.5" r="5" fill="#333333"/>
<circle cx="1330.3" cy="1006.4" r="5" fill="#333333"/>
<circle cx="1330.3" cy="1018.8" r="5" fill="#333333"/>
<circle cx="1330.3" cy="1022.1" r="5" fill="#333333"/>
<circle cx="1330.3" cy="1035.6" r="5" fill="#333333"/>
<circle cx="1330.3" cy="1051.3" r="5" fill="#333333"/>
<circle cx="1330.3" cy="1056.0" r="5" fill="#333333"/>
<circle cx="1330.3" cy="1061.0" r="5" fill="#333333"/>
<circle cx="1330.3" cy="1066.0" r="5" fill="#333333"/>
<circle cx="1330.3" cy="1071.0" r="5" fill="#333333"/>
<circle cx="1330.3" cy="1076.0" r="5" fill="#333333"/>
<circle cx="1330.3" cy="1081.0" r="5" fill="#333333"/>
<circle cx="1330.3" cy="1086.0" r="5" fill="#333333"/>
<circle cx="1330.3" cy="1091.0" r="5" fill="#333333"/>
<circle cx="1330.3" cy="1096.0" r="5" fill="#333333"/>
<circle cx="1330.3" cy="1101.0" r="5" fill="#333333"/>
<circle cx="1330.3" cy="1107.5" r="5" fill="#333333"/>
<path d="M1118.7 949.1 V1326.6 H1346.7" fill="none" stroke="#000" stroke-width="3"/>
<line x1="1438.2" y1="1059.2" x2="1446.7" y2="1059.2" stroke="#333333" stroke-width="2.5"/>
<text x="1432.7" y="1069.2" font-size="28.8" text-anchor="end" fill="#4d4d4d">10</text>
<line x1="1438.2" y1="1215.4" x2="1446.7" y2="1215.4" stroke="#333333" stroke-width="2.5"/>
<text x="1432.7" y="1225.4" font-size="28.8" text-anchor="end" fill="#4d4d4d">5</text>
<line x1="1463.6" y1="1326.6" x2="1463.6" y2="1334.6" stroke="#333333" stroke-width="2.5"/>
<text x="1463.6" y="1362.5" font-size="28" text-anchor="middle" fill="#4d4d4d">1</text>
<line x1="1491.2" y1="1326.6" x2="1491.2" y2="1334.6" stroke="#333333" stroke-width="2.5"/>
<text x="1491.2" y="1362.5" font-size="28" text-anchor="middle" fill="#4d4d4d">2</text>
<line x1="1518.9" y1="1326.6" x2="1518.9" y2="1334.6" stroke="#333333" stroke-width="2.5"/>
<text x="1518.9" y="1362.5" font-size="28" text-anchor="middle" fill="#4d4d4d">3</text>
<line x1="1546.5" y1="1326.6" x2="1546.5" y2="1334.6" stroke="#333333" stroke-width="2.5"/>
<text x="1546.5" y="1362.5" font-size="28" text-anchor="middle" fill="#4d4d4d">4</text>
<line x1="1574.6" y1="1326.6" x2="1574.6" y2="1334.6" stroke="#333333" stroke-width="2.5"/>
<text x="1574.6" y="1362.5" font-size="28" text-anchor="middle" fill="#4d4d4d">5</text>
<line x1="1602.5" y1="1326.6" x2="1602.5" y2="1334.6" stroke="#333333" stroke-width="2.5"/>
<text x="1602.5" y="1362.5" font-size="28" text-anchor="middle" fill="#4d4d4d">6</text>
<line x1="1630.3" y1="1326.6" x2="1630.3" y2="1334.6" stroke="#333333" stroke-width="2.5"/>
<text x="1630.3" y="1362.5" font-size="28" text-anchor="middle" fill="#4d4d4d">7</text>
<line x1="1658.2" y1="1326.6" x2="1658.2" y2="1334.6" stroke="#333333" stroke-width="2.5"/>
<text x="1686.8" y="1359.7" font-size="24" text-anchor="middle" fill="#4d4d4d">Typical</text>
<text x="1686.8" y="1387.5" font-size="24" text-anchor="middle" fill="#4d4d4d">L2/3</text>
<line x1="1463.6" y1="1028.4" x2="1463.6" y2="1121.5" stroke="#333333" stroke-width="3.2"/>
<line x1="1463.6" y1="1184.6" x2="1463.6" y2="1246.4" stroke="#333333" stroke-width="3.2"/>
<rect x="1452.3" y="1121.5" width="22.6" height="63.1" fill="#E41A1C" stroke="#333333" stroke-width="2.8"/>
<line x1="1452.3" y1="1152.9" x2="1474.9" y2="1152.9" stroke="#333333" stroke-width="5.5"/>
<circle cx="1463.6" cy="1309.3" r="5" fill="#333333"/>
<line x1="1491.2" y1="1028.4" x2="1491.2" y2="1121.5" stroke="#333333" stroke-width="3.2"/>
<line x1="1491.2" y1="1184.6" x2="1491.2" y2="1215.4" stroke="#333333" stroke-width="3.2"/>
<rect x="1479.9" y="1121.5" width="22.6" height="63.1" fill="#377EB8" stroke="#333333" stroke-width="2.8"/>
<line x1="1479.9" y1="1152.9" x2="1502.5" y2="1152.9" stroke="#333333" stroke-width="5.5"/>
<line x1="1518.9" y1="1059.9" x2="1518.9" y2="1121.5" stroke="#333333" stroke-width="3.2"/>
<line x1="1518.9" y1="1184.6" x2="1518.9" y2="1215.4" stroke="#333333" stroke-width="3.2"/>
<rect x="1507.6" y="1121.5" width="22.6" height="63.1" fill="#4DAF4A" stroke="#333333" stroke-width="2.8"/>
<line x1="1507.6" y1="1137.2" x2="1530.2" y2="1137.2" stroke="#333333" stroke-width="5.5"/>
<line x1="1546.5" y1="1059.9" x2="1546.5" y2="1121.5" stroke="#333333" stroke-width="3.2"/>
<line x1="1546.5" y1="1184.6" x2="1546.5" y2="1246.4" stroke="#333333" stroke-width="3.2"/>
<rect x="1535.2" y="1121.5" width="22.6" height="63.1" fill="#00FFFF" stroke="#333333" stroke-width="2.8"/>
<line x1="1535.2" y1="1152.9" x2="1557.8" y2="1152.9" stroke="#333333" stroke-width="5.5"/>
<circle cx="1546.5" cy="965.5" r="5" fill="#333333"/>
<line x1="1574.6" y1="1059.9" x2="1574.6" y2="1121.5" stroke="#333333" stroke-width="3.2"/>
<line x1="1574.6" y1="1169.3" x2="1574.6" y2="1215.4" stroke="#333333" stroke-width="3.2"/>
<rect x="1563.3" y="1121.5" width="22.6" height="47.8" fill="#984EA3" stroke="#333333" stroke-width="2.8"/>
<line x1="1563.3" y1="1152.9" x2="1585.9" y2="1152.9" stroke="#333333" stroke-width="5.5"/>
<circle cx="1574.6" cy="997.0" r="5" fill="#333333"/>
<line x1="1602.5" y1="1028.4" x2="1602.5" y2="1098.1" stroke="#333333" stroke-width="3.2"/>
<line x1="1602.5" y1="1161.0" x2="1602.5" y2="1183.9" stroke="#333333" stroke-width="3.2"/>
<rect x="1591.2" y="1098.1" width="22.6" height="62.9" fill="#FF7F00" stroke="#333333" stroke-width="2.8"/>
<line x1="1591.2" y1="1137.2" x2="1613.8" y2="1137.2" stroke="#333333" stroke-width="5.5"/>
<line x1="1630.3" y1="1122.1" x2="1630.3" y2="1151.3" stroke="#333333" stroke-width="3.2"/>
<line x1="1630.3" y1="1184.6" x2="1630.3" y2="1215.4" stroke="#333333" stroke-width="3.2"/>
<rect x="1619.0" y="1151.3" width="22.6" height="33.3" fill="#A65628" stroke="#333333" stroke-width="2.8"/>
<line x1="1619.0" y1="1152.9" x2="1641.6" y2="1152.9" stroke="#333333" stroke-width="5.5"/>
<circle cx="1630.3" cy="1059.2" r="5" fill="#333333"/>
<circle cx="1630.3" cy="1090.7" r="5" fill="#333333"/>
<circle cx="1630.3" cy="1246.4" r="5" fill="#333333"/>
<circle cx="1630.3" cy="1277.9" r="5" fill="#333333"/>
<line x1="1658.2" y1="997.0" x2="1658.2" y2="1090.7" stroke="#333333" stroke-width="3.2"/>
<line x1="1658.2" y1="1152.9" x2="1658.2" y2="1246.4" stroke="#333333" stroke-width="3.2"/>
<rect x="1646.9" y="1090.7" width="22.6" height="62.2" fill="#999999" stroke="#333333" stroke-width="2.8"/>
<line x1="1646.9" y1="1122.1" x2="1669.5" y2="1122.1" stroke="#333333" stroke-width="5.5"/>
<circle cx="1658.2" cy="965.5" r="5" fill="#333333"/>
<circle cx="1658.2" cy="1309.3" r="5" fill="#333333"/>
<path d="M1446.7 949.1 V1326.6 H1674.4" fill="none" stroke="#000" stroke-width="3"/>
<line x1="1794.7" y1="982.2" x2="1803.2" y2="982.2" stroke="#333333" stroke-width="2.5"/>
<text x="1789.2" y="992.2" font-size="28.8" text-anchor="end" fill="#4d4d4d">1.0e8</text>
<line x1="1794.7" y1="1065.6" x2="1803.2" y2="1065.6" stroke="#333333" stroke-width="2.5"/>
<text x="1789.2" y="1075.6" font-size="28.8" text-anchor="end" fill="#4d4d4d">7.5e7</text>
<line x1="1794.7" y1="1148.8" x2="1803.2" y2="1148.8" stroke="#333333" stroke-width="2.5"/>
<text x="1789.2" y="1158.8" font-size="28.8" text-anchor="end" fill="#4d4d4d">5.0e7</text>
<line x1="1794.7" y1="1232.0" x2="1803.2" y2="1232.0" stroke="#333333" stroke-width="2.5"/>
<text x="1789.2" y="1242.0" font-size="28.8" text-anchor="end" fill="#4d4d4d">2.5e7</text>
<line x1="1794.7" y1="1315.5" x2="1803.2" y2="1315.5" stroke="#333333" stroke-width="2.5"/>
<text x="1789.2" y="1325.5" font-size="28.8" text-anchor="end" fill="#4d4d4d">0</text>
<line x1="1819.7" y1="1326.8" x2="1819.7" y2="1334.8" stroke="#333333" stroke-width="2.5"/>
<text x="1819.7" y="1362.5" font-size="28" text-anchor="middle" fill="#4d4d4d">1</text>
<line x1="1847.8" y1="1326.8" x2="1847.8" y2="1334.8" stroke="#333333" stroke-width="2.5"/>
<text x="1847.8" y="1362.5" font-size="28" text-anchor="middle" fill="#4d4d4d">2</text>
<line x1="1875.3" y1="1326.8" x2="1875.3" y2="1334.8" stroke="#333333" stroke-width="2.5"/>
<text x="1875.3" y="1362.5" font-size="28" text-anchor="middle" fill="#4d4d4d">3</text>
<line x1="1903.4" y1="1326.8" x2="1903.4" y2="1334.8" stroke="#333333" stroke-width="2.5"/>
<text x="1903.4" y="1362.5" font-size="28" text-anchor="middle" fill="#4d4d4d">4</text>
<line x1="1931.3" y1="1326.8" x2="1931.3" y2="1334.8" stroke="#333333" stroke-width="2.5"/>
<text x="1931.3" y="1362.5" font-size="28" text-anchor="middle" fill="#4d4d4d">5</text>
<line x1="1959.0" y1="1326.8" x2="1959.0" y2="1334.8" stroke="#333333" stroke-width="2.5"/>
<text x="1959.0" y="1362.5" font-size="28" text-anchor="middle" fill="#4d4d4d">6</text>
<line x1="1986.8" y1="1326.8" x2="1986.8" y2="1334.8" stroke="#333333" stroke-width="2.5"/>
<text x="1986.8" y="1362.5" font-size="28" text-anchor="middle" fill="#4d4d4d">7</text>
<line x1="2014.7" y1="1326.8" x2="2014.7" y2="1334.8" stroke="#333333" stroke-width="2.5"/>
<text x="2042.2" y="1359.7" font-size="24" text-anchor="middle" fill="#4d4d4d">Typical</text>
<text x="2042.2" y="1387.5" font-size="24" text-anchor="middle" fill="#4d4d4d">L2/3</text>
<line x1="1819.7" y1="1245.6" x2="1819.7" y2="1265.6" stroke="#333333" stroke-width="3.2"/>
<line x1="1819.7" y1="1287.8" x2="1819.7" y2="1297.8" stroke="#333333" stroke-width="3.2"/>
<rect x="1808.4" y="1265.6" width="22.6" height="22.2" fill="#E41A1C" stroke="#333333" stroke-width="2.8"/>
<line x1="1808.4" y1="1279.2" x2="1831.0" y2="1279.2" stroke="#333333" stroke-width="5.5"/>
<circle cx="1819.7" cy="1212.3" r="5" fill="#333333"/>
<circle cx="1819.7" cy="1222.5" r="5" fill="#333333"/>
<line x1="1847.8" y1="1228.9" x2="1847.8" y2="1257.7" stroke="#333333" stroke-width="3.2"/>
<line x1="1847.8" y1="1286.0" x2="1847.8" y2="1303.7" stroke="#333333" stroke-width="3.2"/>
<rect x="1836.5" y="1257.7" width="22.6" height="28.3" fill="#377EB8" stroke="#333333" stroke-width="2.8"/>
<line x1="1836.5" y1="1273.5" x2="1859.1" y2="1273.5" stroke="#333333" stroke-width="5.5"/>
<line x1="1875.3" y1="1251.5" x2="1875.3" y2="1269.0" stroke="#333333" stroke-width="3.2"/>
<line x1="1875.3" y1="1292.8" x2="1875.3" y2="1305.3" stroke="#333333" stroke-width="3.2"/>
<rect x="1864.0" y="1269.0" width="22.6" height="23.8" fill="#4DAF4A" stroke="#333333" stroke-width="2.8"/>
<line x1="1864.0" y1="1287.1" x2="1886.6" y2="1287.1" stroke="#333333" stroke-width="5.5"/>
<line x1="1903.4" y1="1247.5" x2="1903.4" y2="1272.4" stroke="#333333" stroke-width="3.2"/>
<line x1="1903.4" y1="1292.4" x2="1903.4" y2="1309.1" stroke="#333333" stroke-width="3.2"/>
<rect x="1892.1" y="1272.4" width="22.6" height="20.0" fill="#00FFFF" stroke="#333333" stroke-width="2.8"/>
<line x1="1892.1" y1="1281.5" x2="1914.7" y2="1281.5" stroke="#333333" stroke-width="5.5"/>
<circle cx="1903.4" cy="1219.1" r="5" fill="#333333"/>
<circle cx="1903.4" cy="1241.8" r="5" fill="#333333"/>
<line x1="1931.3" y1="1245.2" x2="1931.3" y2="1251.5" stroke="#333333" stroke-width="3.2"/>
<line x1="1931.3" y1="1270.1" x2="1931.3" y2="1292.4" stroke="#333333" stroke-width="3.2"/>
<rect x="1920.0" y="1251.5" width="22.6" height="18.6" fill="#984EA3" stroke="#333333" stroke-width="2.8"/>
<line x1="1920.0" y1="1261.1" x2="1942.6" y2="1261.1" stroke="#333333" stroke-width="5.5"/>
<circle cx="1931.3" cy="1049.0" r="5" fill="#333333"/>
<circle cx="1931.3" cy="1182.2" r="5" fill="#333333"/>
<circle cx="1931.3" cy="1210.0" r="5" fill="#333333"/>
<circle cx="1931.3" cy="1223.7" r="5" fill="#333333"/>
<line x1="1959.0" y1="1257.7" x2="1959.0" y2="1282.6" stroke="#333333" stroke-width="3.2"/>
<rect x="1947.7" y="1202.1" width="22.6" height="55.6" fill="#FF7F00" stroke="#333333" stroke-width="2.8"/>
<line x1="1947.7" y1="1241.8" x2="1970.3" y2="1241.8" stroke="#333333" stroke-width="5.5"/>
<circle cx="1959.0" cy="1108.7" r="5" fill="#333333"/>
<line x1="1986.8" y1="1242.9" x2="1986.8" y2="1262.9" stroke="#333333" stroke-width="3.2"/>
<line x1="1986.8" y1="1285.6" x2="1986.8" y2="1302.3" stroke="#333333" stroke-width="3.2"/>
<rect x="1975.5" y="1262.9" width="22.6" height="22.7" fill="#A65628" stroke="#333333" stroke-width="2.8"/>
<line x1="1975.5" y1="1271.3" x2="1998.1" y2="1271.3" stroke="#333333" stroke-width="5.5"/>
<circle cx="1986.8" cy="1206.2" r="5" fill="#333333"/>
<line x1="2014.7" y1="1137.5" x2="2014.7" y2="1219.8" stroke="#333333" stroke-width="3.2"/>
<line x1="2014.7" y1="1276.5" x2="2014.7" y2="1303.7" stroke="#333333" stroke-width="3.2"/>
<rect x="2003.4" y="1219.8" width="22.6" height="56.7" fill="#999999" stroke="#333333" stroke-width="2.8"/>
<line x1="2003.4" y1="1256.5" x2="2026.0" y2="1256.5" stroke="#333333" stroke-width="5.5"/>
<circle cx="2014.7" cy="965.8" r="5" fill="#333333"/>
<circle cx="2014.7" cy="977.6" r="5" fill="#333333"/>
<circle cx="2014.7" cy="1002.1" r="5" fill="#333333"/>
<circle cx="2014.7" cy="1043.4" r="5" fill="#333333"/>
<circle cx="2014.7" cy="1054.3" r="5" fill="#333333"/>
<circle cx="2014.7" cy="1059.0" r="5" fill="#333333"/>
<circle cx="2014.7" cy="1064.0" r="5" fill="#333333"/>
<circle cx="2014.7" cy="1069.0" r="5" fill="#333333"/>
<circle cx="2014.7" cy="1075.1" r="5" fill="#333333"/>
<circle cx="2014.7" cy="1101.2" r="5" fill="#333333"/>
<circle cx="2014.7" cy="1104.2" r="5" fill="#333333"/>
<circle cx="2014.7" cy="1129.1" r="5" fill="#333333"/>
<circle cx="2014.7" cy="1133.6" r="5" fill="#333333"/>
<path d="M1803.2 949.1 V1326.8 H2031.0" fill="none" stroke="#000" stroke-width="3"/>
<text x="-1.0" y="1488.5" font-size="49.5" font-weight="bold">d</text>
<line x1="213.4" y1="1531.3" x2="219.1" y2="1531.3" stroke="#333" stroke-width="1.6"/>
<text x="206.0" y="1538.3" font-size="20" text-anchor="end" fill="#4d4d4d">0.85</text>
<line x1="213.4" y1="1590.6" x2="219.1" y2="1590.6" stroke="#333" stroke-width="1.6"/>
<text x="206.0" y="1597.6" font-size="20" text-anchor="end" fill="#4d4d4d">0.80</text>
<line x1="213.4" y1="1650.3" x2="219.1" y2="1650.3" stroke="#333" stroke-width="1.6"/>
<text x="206.0" y="1657.3" font-size="20" text-anchor="end" fill="#4d4d4d">0.75</text>
<line x1="213.4" y1="1709.6" x2="219.1" y2="1709.6" stroke="#333" stroke-width="1.6"/>
<text x="206.0" y="1716.6" font-size="20" text-anchor="end" fill="#4d4d4d">0.70</text>
<line x1="213.4" y1="1768.8" x2="219.1" y2="1768.8" stroke="#333" stroke-width="1.6"/>
<text x="206.0" y="1775.8" font-size="20" text-anchor="end" fill="#4d4d4d">0.65</text>
<text x="109.4" y="1653.8" font-size="28.5" text-anchor="middle" transform="rotate(-90 109.4 1653.8)">Sphericity index</text>
<text x="144.6" y="1650.5" font-size="28.5" text-anchor="middle" transform="rotate(-90 144.6 1650.5)">of soma shape</text>
<line x1="244.8" y1="1596.1" x2="244.8" y2="1627.9" stroke="#333" stroke-width="1.5"/>
<line x1="244.8" y1="1699.2" x2="244.8" y2="1772.6" stroke="#333" stroke-width="1.5"/>
<rect x="228.0" y="1627.9" width="33.6" height="71.3" fill="none" stroke="#333" stroke-width="1.6"/>
<line x1="228.0" y1="1656.5" x2="261.6" y2="1656.5" stroke="#333" stroke-width="3.6"/>
<line x1="288.9" y1="1535.0" x2="288.9" y2="1572.2" stroke="#333" stroke-width="1.5"/>
<line x1="288.9" y1="1629.7" x2="288.9" y2="1692.3" stroke="#333" stroke-width="1.5"/>
<rect x="272.1" y="1572.2" width="33.6" height="57.5" fill="none" stroke="#333" stroke-width="1.6"/>
<line x1="272.1" y1="1600.3" x2="305.7" y2="1600.3" stroke="#333" stroke-width="3.6"/>
<line x1="332.8" y1="1537.2" x2="332.8" y2="1582.9" stroke="#333" stroke-width="1.5"/>
<line x1="332.8" y1="1628.4" x2="332.8" y2="1676.0" stroke="#333" stroke-width="1.5"/>
<rect x="316.0" y="1582.9" width="33.6" height="45.5" fill="none" stroke="#333" stroke-width="1.6"/>
<line x1="316.0" y1="1596.1" x2="349.6" y2="1596.1" stroke="#333" stroke-width="3.6"/>
<line x1="376.9" y1="1562.2" x2="376.9" y2="1576.7" stroke="#333" stroke-width="1.5"/>
<line x1="376.9" y1="1623.7" x2="376.9" y2="1647.5" stroke="#333" stroke-width="1.5"/>
<rect x="360.1" y="1576.7" width="33.6" height="47.0" fill="none" stroke="#333" stroke-width="1.6"/>
<line x1="360.1" y1="1593.8" x2="393.7" y2="1593.8" stroke="#333" stroke-width="3.6"/>
<line x1="421.0" y1="1519.9" x2="421.0" y2="1574.4" stroke="#333" stroke-width="1.5"/>
<line x1="421.0" y1="1624.8" x2="421.0" y2="1701.3" stroke="#333" stroke-width="1.5"/>
<rect x="404.2" y="1574.4" width="33.6" height="50.4" fill="none" stroke="#333" stroke-width="1.6"/>
<line x1="404.2" y1="1593.8" x2="437.8" y2="1593.8" stroke="#333" stroke-width="3.6"/>
<line x1="464.9" y1="1535.4" x2="464.9" y2="1569.5" stroke="#333" stroke-width="1.5"/>
<line x1="464.9" y1="1623.0" x2="464.9" y2="1678.7" stroke="#333" stroke-width="1.5"/>
<rect x="448.1" y="1569.5" width="33.6" height="53.5" fill="none" stroke="#333" stroke-width="1.6"/>
<line x1="448.1" y1="1592.0" x2="481.7" y2="1592.0" stroke="#333" stroke-width="3.6"/>
<line x1="508.8" y1="1526.6" x2="508.8" y2="1572.5" stroke="#333" stroke-width="1.5"/>
<line x1="508.8" y1="1609.5" x2="508.8" y2="1655.8" stroke="#333" stroke-width="1.5"/>
<rect x="492.0" y="1572.5" width="33.6" height="37.0" fill="none" stroke="#333" stroke-width="1.6"/>
<line x1="492.0" y1="1591.2" x2="525.6" y2="1591.2" stroke="#333" stroke-width="3.6"/>
<line x1="552.9" y1="1524.3" x2="552.9" y2="1570.6" stroke="#333" stroke-width="1.5"/>
<line x1="552.9" y1="1628.4" x2="552.9" y2="1691.4" stroke="#333" stroke-width="1.5"/>
<rect x="536.1" y="1570.6" width="33.6" height="57.8" fill="none" stroke="#333" stroke-width="1.6"/>
<line x1="536.1" y1="1588.3" x2="569.7" y2="1588.3" stroke="#333" stroke-width="3.6"/>
<line x1="596.6" y1="1536.3" x2="596.6" y2="1568.6" stroke="#333" stroke-width="1.5"/>
<line x1="596.6" y1="1614.0" x2="596.6" y2="1652.3" stroke="#333" stroke-width="1.5"/>
<rect x="579.8" y="1568.6" width="33.6" height="45.4" fill="none" stroke="#333" stroke-width="1.6"/>
<line x1="579.8" y1="1587.3" x2="613.4" y2="1587.3" stroke="#333" stroke-width="3.6"/>
<line x1="640.6" y1="1535.9" x2="640.6" y2="1558.4" stroke="#333" stroke-width="1.5"/>
<line x1="640.6" y1="1602.2" x2="640.6" y2="1645.2" stroke="#333" stroke-width="1.5"/>
<rect x="623.8" y="1558.4" width="33.6" height="43.8" fill="none" stroke="#333" stroke-width="1.6"/>
<line x1="623.8" y1="1584.8" x2="657.4" y2="1584.8" stroke="#333" stroke-width="3.6"/>
<line x1="684.3" y1="1562.3" x2="684.3" y2="1572.5" stroke="#333" stroke-width="1.5"/>
<rect x="667.5" y="1572.5" width="33.6" height="27.0" fill="none" stroke="#333" stroke-width="1.6"/>
<line x1="667.5" y1="1573.3" x2="701.1" y2="1573.3" stroke="#333" stroke-width="3.6"/>
<line x1="728.3" y1="1537.2" x2="728.3" y2="1553.6" stroke="#333" stroke-width="1.5"/>
<line x1="728.3" y1="1612.8" x2="728.3" y2="1631.7" stroke="#333" stroke-width="1.5"/>
<rect x="711.5" y="1553.6" width="33.6" height="59.2" fill="none" stroke="#333" stroke-width="1.6"/>
<line x1="711.5" y1="1571.0" x2="745.1" y2="1571.0" stroke="#333" stroke-width="3.6"/>
<line x1="772.6" y1="1545.9" x2="772.6" y2="1560.4" stroke="#333" stroke-width="1.5"/>
<line x1="772.6" y1="1573.8" x2="772.6" y2="1584.4" stroke="#333" stroke-width="1.5"/>
<rect x="755.8" y="1560.4" width="33.6" height="13.4" fill="none" stroke="#333" stroke-width="1.6"/>
<line x1="755.8" y1="1565.8" x2="789.4" y2="1565.8" stroke="#333" stroke-width="3.6"/>
<line x1="219.1" y1="1598.2" x2="798.5" y2="1598.2" stroke="#e41a1c" stroke-width="2" stroke-dasharray="15.6 17.04"/>
<circle cx="241.7" cy="1638.4" r="2.4" fill="#000"/>
<circle cx="245.9" cy="1674.7" r="2.4" fill="#000"/>
<circle cx="247.7" cy="1595.8" r="2.4" fill="#000"/>
<circle cx="241.2" cy="1773.0" r="2.4" fill="#000"/>
<circle cx="286.8" cy="1603.5" r="2.4" fill="#000"/>
<circle cx="281.9" cy="1558.3" r="2.4" fill="#000"/>
<circle cx="285.0" cy="1620.4" r="2.4" fill="#000"/>
<circle cx="288.4" cy="1629.4" r="2.4" fill="#000"/>
<circle cx="291.1" cy="1659.5" r="2.4" fill="#000"/>
<circle cx="294.8" cy="1608.7" r="2.4" fill="#000"/>
<circle cx="291.6" cy="1614.8" r="2.4" fill="#000"/>
<circle cx="290.4" cy="1615.8" r="2.4" fill="#000"/>
<circle cx="294.7" cy="1574.0" r="2.4" fill="#000"/>
<circle cx="295.0" cy="1613.5" r="2.4" fill="#000"/>
<circle cx="287.2" cy="1569.3" r="2.4" fill="#000"/>
<circle cx="295.9" cy="1657.5" r="2.4" fill="#000"/>
<circle cx="283.1" cy="1635.8" r="2.4" fill="#000"/>
<circle cx="287.9" cy="1627.7" r="2.4" fill="#000"/>
<circle cx="289.0" cy="1546.2" r="2.4" fill="#000"/>
<circle cx="290.3" cy="1592.4" r="2.4" fill="#000"/>
<circle cx="291.8" cy="1568.6" r="2.4" fill="#000"/>
<circle cx="296.8" cy="1683.3" r="2.4" fill="#000"/>
<circle cx="294.7" cy="1541.1" r="2.4" fill="#000"/>
<circle cx="290.0" cy="1686.3" r="2.4" fill="#000"/>
<circle cx="294.2" cy="1542.9" r="2.4" fill="#000"/>
<circle cx="281.9" cy="1545.6" r="2.4" fill="#000"/>
<circle cx="282.3" cy="1691.7" r="2.4" fill="#000"/>
<circle cx="283.3" cy="1655.4" r="2.4" fill="#000"/>
<circle cx="287.7" cy="1535.0" r="2.4" fill="#000"/>
<circle cx="290.5" cy="1692.3" r="2.4" fill="#000"/>
<circle cx="334.6" cy="1630.5" r="2.4" fill="#000"/>
<circle cx="330.1" cy="1615.6" r="2.4" fill="#000"/>
<circle cx="332.9" cy="1675.1" r="2.4" fill="#000"/>
<circle cx="326.0" cy="1643.1" r="2.4" fill="#000"/>
<circle cx="328.0" cy="1538.6" r="2.4" fill="#000"/>
<circle cx="327.3" cy="1610.7" r="2.4" fill="#000"/>
<circle cx="329.8" cy="1622.4" r="2.4" fill="#000"/>
<circle cx="330.8" cy="1671.1" r="2.4" fill="#000"/>
<circle cx="335.1" cy="1606.6" r="2.4" fill="#000"/>
<circle cx="334.7" cy="1562.8" r="2.4" fill="#000"/>
<circle cx="331.7" cy="1652.5" r="2.4" fill="#000"/>
<circle cx="329.6" cy="1548.1" r="2.4" fill="#000"/>
<circle cx="333.6" cy="1653.2" r="2.4" fill="#000"/>
<circle cx="334.1" cy="1601.8" r="2.4" fill="#000"/>
<circle cx="334.9" cy="1610.9" r="2.4" fill="#000"/>
<circle cx="332.3" cy="1611.4" r="2.4" fill="#000"/>
<circle cx="336.1" cy="1553.3" r="2.4" fill="#000"/>
<circle cx="325.8" cy="1538.2" r="2.4" fill="#000"/>
<circle cx="328.8" cy="1581.2" r="2.4" fill="#000"/>
<circle cx="329.9" cy="1609.9" r="2.4" fill="#000"/>
<circle cx="332.0" cy="1537.2" r="2.4" fill="#000"/>
<circle cx="331.7" cy="1676.0" r="2.4" fill="#000"/>
<circle cx="373.7" cy="1604.7" r="2.4" fill="#000"/>
<circle cx="369.3" cy="1613.0" r="2.4" fill="#000"/>
<circle cx="373.9" cy="1572.9" r="2.4" fill="#000"/>
<circle cx="372.7" cy="1614.5" r="2.4" fill="#000"/>
<circle cx="380.1" cy="1597.2" r="2.4" fill="#000"/>
<circle cx="374.2" cy="1591.8" r="2.4" fill="#000"/>
<circle cx="382.6" cy="1634.1" r="2.4" fill="#000"/>
<circle cx="379.3" cy="1592.5" r="2.4" fill="#000"/>
<circle cx="372.5" cy="1634.4" r="2.4" fill="#000"/>
<circle cx="374.6" cy="1562.2" r="2.4" fill="#000"/>
<circle cx="377.1" cy="1647.5" r="2.4" fill="#000"/>
<circle cx="426.4" cy="1615.1" r="2.4" fill="#000"/>
<circle cx="425.9" cy="1588.4" r="2.4" fill="#000"/>
<circle cx="418.5" cy="1563.8" r="2.4" fill="#000"/>
<circle cx="425.7" cy="1589.1" r="2.4" fill="#000"/>
<circle cx="419.7" cy="1591.9" r="2.4" fill="#000"/>
<circle cx="427.7" cy="1595.0" r="2.4" fill="#000"/>
<circle cx="428.1" cy="1574.6" r="2.4" fill="#000"/>
<circle cx="419.9" cy="1700.3" r="2.4" fill="#000"/>
<circle cx="416.6" cy="1695.7" r="2.4" fill="#000"/>
<circle cx="423.6" cy="1565.5" r="2.4" fill="#000"/>
<circle cx="418.5" cy="1589.0" r="2.4" fill="#000"/>
<circle cx="422.4" cy="1577.8" r="2.4" fill="#000"/>
<circle cx="413.7" cy="1615.2" r="2.4" fill="#000"/>
<circle cx="427.8" cy="1677.9" r="2.4" fill="#000"/>
<circle cx="422.2" cy="1693.6" r="2.4" fill="#000"/>
<circle cx="415.7" cy="1612.0" r="2.4" fill="#000"/>
<circle cx="421.4" cy="1607.8" r="2.4" fill="#000"/>
<circle cx="422.8" cy="1621.7" r="2.4" fill="#000"/>
<circle cx="426.8" cy="1587.1" r="2.4" fill="#000"/>
<circle cx="418.6" cy="1613.8" r="2.4" fill="#000"/>
<circle cx="426.1" cy="1601.3" r="2.4" fill="#000"/>
<circle cx="427.7" cy="1614.3" r="2.4" fill="#000"/>
<circle cx="413.1" cy="1687.8" r="2.4" fill="#000"/>
<circle cx="413.8" cy="1566.9" r="2.4" fill="#000"/>
<circle cx="421.4" cy="1587.9" r="2.4" fill="#000"/>
<circle cx="425.4" cy="1598.2" r="2.4" fill="#000"/>
<circle cx="415.0" cy="1577.2" r="2.4" fill="#000"/>
<circle cx="428.6" cy="1577.8" r="2.4" fill="#000"/>
<circle cx="421.0" cy="1631.4" r="2.4" fill="#000"/>
<circle cx="418.6" cy="1590.3" r="2.4" fill="#000"/>
<circle cx="418.8" cy="1551.9" r="2.4" fill="#000"/>
<circle cx="415.0" cy="1591.0" r="2.4" fill="#000"/>
<circle cx="419.1" cy="1558.9" r="2.4" fill="#000"/>
<circle cx="419.0" cy="1583.4" r="2.4" fill="#000"/>
<circle cx="419.1" cy="1562.6" r="2.4" fill="#000"/>
<circle cx="419.9" cy="1672.5" r="2.4" fill="#000"/>
<circle cx="424.2" cy="1599.4" r="2.4" fill="#000"/>
<circle cx="420.4" cy="1609.4" r="2.4" fill="#000"/>
<circle cx="424.1" cy="1601.4" r="2.4" fill="#000"/>
<circle cx="419.8" cy="1595.8" r="2.4" fill="#000"/>
<circle cx="419.0" cy="1696.4" r="2.4" fill="#000"/>
<circle cx="417.2" cy="1685.3" r="2.4" fill="#000"/>
<circle cx="426.0" cy="1580.6" r="2.4" fill="#000"/>
<circle cx="425.7" cy="1568.3" r="2.4" fill="#000"/>
<circle cx="422.0" cy="1559.9" r="2.4" fill="#000"/>
<circle cx="413.1" cy="1604.0" r="2.4" fill="#000"/>
<circle cx="413.7" cy="1613.4" r="2.4" fill="#000"/>
<circle cx="427.1" cy="1579.4" r="2.4" fill="#000"/>
<circle cx="426.5" cy="1575.6" r="2.4" fill="#000"/>
<circle cx="423.8" cy="1616.9" r="2.4" fill="#000"/>
<circle cx="422.3" cy="1697.7" r="2.4" fill="#000"/>
<circle cx="425.3" cy="1627.6" r="2.4" fill="#000"/>
<circle cx="414.7" cy="1610.4" r="2.4" fill="#000"/>
<circle cx="414.0" cy="1570.8" r="2.4" fill="#000"/>
<circle cx="426.2" cy="1602.8" r="2.4" fill="#000"/>
<circle cx="417.0" cy="1583.5" r="2.4" fill="#000"/>
<circle cx="419.3" cy="1561.0" r="2.4" fill="#000"/>
<circle cx="418.6" cy="1594.4" r="2.4" fill="#000"/>
<circle cx="421.0" cy="1578.6" r="2.4" fill="#000"/>
<circle cx="425.0" cy="1656.4" r="2.4" fill="#000"/>
<circle cx="419.0" cy="1519.9" r="2.4" fill="#000"/>
<circle cx="422.1" cy="1701.3" r="2.4" fill="#000"/>
<circle cx="465.2" cy="1558.4" r="2.4" fill="#000"/>
<circle cx="471.3" cy="1603.9" r="2.4" fill="#000"/>
<circle cx="468.9" cy="1574.6" r="2.4" fill="#000"/>
<circle cx="464.0" cy="1651.8" r="2.4" fill="#000"/>
<circle cx="461.2" cy="1541.7" r="2.4" fill="#000"/>
<circle cx="461.9" cy="1600.8" r="2.4" fill="#000"/>
<circle cx="472.2" cy="1606.5" r="2.4" fill="#000"/>
<circle cx="463.5" cy="1607.2" r="2.4" fill="#000"/>
<circle cx="461.2" cy="1655.6" r="2.4" fill="#000"/>
<circle cx="464.6" cy="1570.7" r="2.4" fill="#000"/>
<circle cx="462.7" cy="1578.7" r="2.4" fill="#000"/>
<circle cx="459.2" cy="1610.9" r="2.4" fill="#000"/>
<circle cx="466.5" cy="1649.7" r="2.4" fill="#000"/>
<circle cx="470.0" cy="1614.2" r="2.4" fill="#000"/>
<circle cx="468.4" cy="1551.8" r="2.4" fill="#000"/>
<circle cx="468.6" cy="1645.3" r="2.4" fill="#000"/>
<circle cx="460.6" cy="1649.0" r="2.4" fill="#000"/>
<circle cx="467.7" cy="1607.9" r="2.4" fill="#000"/>
<circle cx="460.8" cy="1670.6" r="2.4" fill="#000"/>
<circle cx="459.9" cy="1583.3" r="2.4" fill="#000"/>
<circle cx="471.3" cy="1564.7" r="2.4" fill="#000"/>
<circle cx="461.9" cy="1615.8" r="2.4" fill="#000"/>
<circle cx="458.3" cy="1608.5" r="2.4" fill="#000"/>
<circle cx="461.6" cy="1614.1" r="2.4" fill="#000"/>
<circle cx="467.7" cy="1600.5" r="2.4" fill="#000"/>
<circle cx="463.9" cy="1587.4" r="2.4" fill="#000"/>
<circle cx="466.3" cy="1580.7" r="2.4" fill="#000"/>
<circle cx="465.6" cy="1644.8" r="2.4" fill="#000"/>
<circle cx="467.5" cy="1584.2" r="2.4" fill="#000"/>
<circle cx="471.4" cy="1617.0" r="2.4" fill="#000"/>
<circle cx="462.9" cy="1619.9" r="2.4" fill="#000"/>
<circle cx="461.6" cy="1561.2" r="2.4" fill="#000"/>
<circle cx="469.8" cy="1557.7" r="2.4" fill="#000"/>
<circle cx="472.3" cy="1609.8" r="2.4" fill="#000"/>
<circle cx="458.7" cy="1553.7" r="2.4" fill="#000"/>
<circle cx="468.4" cy="1588.3" r="2.4" fill="#000"/>
<circle cx="459.8" cy="1554.7" r="2.4" fill="#000"/>
<circle cx="459.8" cy="1556.9" r="2.4" fill="#000"/>
<circle cx="458.9" cy="1659.5" r="2.4" fill="#000"/>
<circle cx="462.2" cy="1630.9" r="2.4" fill="#000"/>
<circle cx="465.8" cy="1555.8" r="2.4" fill="#000"/>
<circle cx="461.9" cy="1551.0" r="2.4" fill="#000"/>
<circle cx="468.4" cy="1573.2" r="2.4" fill="#000"/>
<circle cx="468.7" cy="1553.9" r="2.4" fill="#000"/>
<circle cx="463.0" cy="1583.7" r="2.4" fill="#000"/>
<circle cx="465.0" cy="1625.3" r="2.4" fill="#000"/>
<circle cx="462.6" cy="1610.6" r="2.4" fill="#000"/>
<circle cx="465.6" cy="1591.1" r="2.4" fill="#000"/>
<circle cx="470.5" cy="1547.4" r="2.4" fill="#000"/>
<circle cx="458.5" cy="1584.0" r="2.4" fill="#000"/>
<circle cx="468.5" cy="1611.2" r="2.4" fill="#000"/>
<circle cx="463.6" cy="1579.6" r="2.4" fill="#000"/>
<circle cx="468.9" cy="1563.2" r="2.4" fill="#000"/>
<circle cx="463.3" cy="1540.4" r="2.4" fill="#000"/>
<circle cx="466.0" cy="1597.7" r="2.4" fill="#000"/>
<circle cx="463.1" cy="1535.4" r="2.4" fill="#000"/>
<circle cx="463.4" cy="1678.7" r="2.4" fill="#000"/>
<circle cx="466.0" cy="1741.3" r="2.4" fill="#000"/>
<circle cx="515.1" cy="1602.2" r="2.4" fill="#000"/>
<circle cx="509.6" cy="1627.2" r="2.4" fill="#000"/>
<circle cx="516.4" cy="1555.7" r="2.4" fill="#000"/>
<circle cx="514.6" cy="1540.3" r="2.4" fill="#000"/>
<circle cx="512.4" cy="1594.8" r="2.4" fill="#000"/>
<circle cx="511.4" cy="1601.0" r="2.4" fill="#000"/>
<circle cx="508.2" cy="1591.9" r="2.4" fill="#000"/>
<circle cx="501.4" cy="1592.1" r="2.4" fill="#000"/>
<circle cx="507.9" cy="1596.4" r="2.4" fill="#000"/>
<circle cx="515.1" cy="1570.6" r="2.4" fill="#000"/>
<circle cx="510.8" cy="1601.8" r="2.4" fill="#000"/>
<circle cx="504.5" cy="1585.8" r="2.4" fill="#000"/>
<circle cx="515.7" cy="1592.4" r="2.4" fill="#000"/>
<circle cx="511.9" cy="1604.7" r="2.4" fill="#000"/>
<circle cx="510.4" cy="1604.3" r="2.4" fill="#000"/>
<circle cx="512.6" cy="1642.6" r="2.4" fill="#000"/>
<circle cx="515.7" cy="1602.3" r="2.4" fill="#000"/>
<circle cx="512.9" cy="1629.7" r="2.4" fill="#000"/>
<circle cx="501.5" cy="1576.5" r="2.4" fill="#000"/>
<circle cx="503.4" cy="1579.9" r="2.4" fill="#000"/>
<circle cx="509.4" cy="1598.4" r="2.4" fill="#000"/>
<circle cx="505.7" cy="1596.5" r="2.4" fill="#000"/>
<circle cx="507.2" cy="1600.5" r="2.4" fill="#000"/>
<circle cx="512.3" cy="1605.8" r="2.4" fill="#000"/>
<circle cx="509.3" cy="1586.2" r="2.4" fill="#000"/>
<circle cx="500.8" cy="1536.9" r="2.4" fill="#000"/>
<circle cx="503.1" cy="1601.5" r="2.4" fill="#000"/>
<circle cx="504.1" cy="1579.7" r="2.4" fill="#000"/>
<circle cx="503.5" cy="1587.4" r="2.4" fill="#000"/>
<circle cx="503.5" cy="1576.6" r="2.4" fill="#000"/>
<circle cx="501.2" cy="1574.7" r="2.4" fill="#000"/>
<circle cx="512.1" cy="1587.6" r="2.4" fill="#000"/>
<circle cx="507.1" cy="1587.4" r="2.4" fill="#000"/>
<circle cx="504.3" cy="1608.2" r="2.4" fill="#000"/>
<circle cx="503.4" cy="1590.1" r="2.4" fill="#000"/>
<circle cx="502.8" cy="1542.5" r="2.4" fill="#000"/>
<circle cx="505.2" cy="1599.4" r="2.4" fill="#000"/>
<circle cx="515.7" cy="1631.0" r="2.4" fill="#000"/>
<circle cx="505.1" cy="1581.7" r="2.4" fill="#000"/>
<circle cx="506.3" cy="1638.6" r="2.4" fill="#000"/>
<circle cx="516.3" cy="1597.7" r="2.4" fill="#000"/>
<circle cx="501.3" cy="1526.8" r="2.4" fill="#000"/>
<circle cx="501.4" cy="1578.8" r="2.4" fill="#000"/>
<circle cx="515.2" cy="1596.7" r="2.4" fill="#000"/>
<circle cx="508.4" cy="1608.5" r="2.4" fill="#000"/>
<circle cx="515.8" cy="1652.0" r="2.4" fill="#000"/>
<circle cx="510.5" cy="1583.8" r="2.4" fill="#000"/>
<circle cx="505.5" cy="1613.6" r="2.4" fill="#000"/>
<circle cx="507.0" cy="1614.8" r="2.4" fill="#000"/>
<circle cx="515.7" cy="1597.7" r="2.4" fill="#000"/>
<circle cx="512.5" cy="1599.9" r="2.4" fill="#000"/>
<circle cx="515.6" cy="1635.1" r="2.4" fill="#000"/>
<circle cx="504.5" cy="1587.8" r="2.4" fill="#000"/>
<circle cx="505.1" cy="1548.7" r="2.4" fill="#000"/>
<circle cx="510.5" cy="1599.2" r="2.4" fill="#000"/>
<circle cx="508.6" cy="1544.4" r="2.4" fill="#000"/>
<circle cx="501.2" cy="1598.8" r="2.4" fill="#000"/>
<circle cx="511.6" cy="1600.6" r="2.4" fill="#000"/>
<circle cx="514.3" cy="1581.3" r="2.4" fill="#000"/>
<circle cx="514.8" cy="1566.9" r="2.4" fill="#000"/>
<circle cx="508.5" cy="1526.6" r="2.4" fill="#000"/>
<circle cx="511.2" cy="1655.8" r="2.4" fill="#000"/>
<circle cx="509.7" cy="1667.7" r="2.4" fill="#000"/>
<circle cx="508.1" cy="1729.0" r="2.4" fill="#000"/>
<circle cx="551.3" cy="1574.8" r="2.4" fill="#000"/>
<circle cx="554.0" cy="1635.0" r="2.4" fill="#000"/>
<circle cx="555.3" cy="1575.3" r="2.4" fill="#000"/>
<circle cx="547.3" cy="1573.4" r="2.4" fill="#000"/>
<circle cx="545.1" cy="1551.4" r="2.4" fill="#000"/>
<circle cx="548.4" cy="1626.5" r="2.4" fill="#000"/>
<circle cx="557.4" cy="1543.7" r="2.4" fill="#000"/>
<circle cx="553.5" cy="1560.8" r="2.4" fill="#000"/>
<circle cx="546.2" cy="1580.9" r="2.4" fill="#000"/>
<circle cx="545.3" cy="1635.5" r="2.4" fill="#000"/>
<circle cx="559.2" cy="1641.0" r="2.4" fill="#000"/>
<circle cx="548.5" cy="1597.5" r="2.4" fill="#000"/>
<circle cx="555.2" cy="1667.2" r="2.4" fill="#000"/>
<circle cx="550.4" cy="1564.7" r="2.4" fill="#000"/>
<circle cx="546.7" cy="1544.9" r="2.4" fill="#000"/>
<circle cx="557.9" cy="1665.8" r="2.4" fill="#000"/>
<circle cx="552.3" cy="1601.8" r="2.4" fill="#000"/>
<circle cx="550.4" cy="1527.9" r="2.4" fill="#000"/>
<circle cx="553.7" cy="1574.7" r="2.4" fill="#000"/>
<circle cx="555.3" cy="1543.9" r="2.4" fill="#000"/>
<circle cx="550.5" cy="1534.2" r="2.4" fill="#000"/>
<circle cx="551.8" cy="1649.5" r="2.4" fill="#000"/>
<circle cx="547.5" cy="1583.2" r="2.4" fill="#000"/>
<circle cx="558.9" cy="1674.2" r="2.4" fill="#000"/>
<circle cx="559.8" cy="1667.0" r="2.4" fill="#000"/>
<circle cx="560.1" cy="1594.8" r="2.4" fill="#000"/>
<circle cx="552.6" cy="1688.2" r="2.4" fill="#000"/>
<circle cx="560.9" cy="1543.1" r="2.4" fill="#000"/>
<circle cx="559.8" cy="1646.8" r="2.4" fill="#000"/>
<circle cx="556.5" cy="1576.1" r="2.4" fill="#000"/>
<circle cx="555.1" cy="1600.6" r="2.4" fill="#000"/>
<circle cx="549.3" cy="1613.7" r="2.4" fill="#000"/>
<circle cx="556.8" cy="1590.5" r="2.4" fill="#000"/>
<circle cx="546.6" cy="1537.6" r="2.4" fill="#000"/>
<circle cx="551.7" cy="1524.3" r="2.4" fill="#000"/>
<circle cx="552.4" cy="1691.4" r="2.4" fill="#000"/>
<circle cx="551.2" cy="1719.4" r="2.4" fill="#000"/>
<circle cx="551.5" cy="1727.5" r="2.4" fill="#000"/>
<circle cx="604.2" cy="1558.9" r="2.4" fill="#000"/>
<circle cx="594.6" cy="1647.6" r="2.4" fill="#000"/>
<circle cx="596.0" cy="1582.8" r="2.4" fill="#000"/>
<circle cx="594.4" cy="1593.2" r="2.4" fill="#000"/>
<circle cx="596.0" cy="1624.9" r="2.4" fill="#000"/>
<circle cx="593.4" cy="1644.9" r="2.4" fill="#000"/>
<circle cx="588.8" cy="1605.2" r="2.4" fill="#000"/>
<circle cx="597.2" cy="1592.7" r="2.4" fill="#000"/>
<circle cx="591.9" cy="1570.9" r="2.4" fill="#000"/>
<circle cx="604.3" cy="1551.3" r="2.4" fill="#000"/>
<circle cx="589.2" cy="1651.5" r="2.4" fill="#000"/>
<circle cx="595.5" cy="1569.2" r="2.4" fill="#000"/>
<circle cx="597.3" cy="1570.9" r="2.4" fill="#000"/>
<circle cx="592.6" cy="1582.7" r="2.4" fill="#000"/>
<circle cx="592.8" cy="1630.0" r="2.4" fill="#000"/>
<circle cx="598.6" cy="1588.1" r="2.4" fill="#000"/>
<circle cx="601.5" cy="1565.8" r="2.4" fill="#000"/>
<circle cx="600.7" cy="1574.8" r="2.4" fill="#000"/>
<circle cx="601.9" cy="1633.5" r="2.4" fill="#000"/>
<circle cx="591.3" cy="1545.3" r="2.4" fill="#000"/>
<circle cx="593.7" cy="1536.3" r="2.4" fill="#000"/>
<circle cx="597.5" cy="1652.3" r="2.4" fill="#000"/>
<circle cx="640.1" cy="1641.2" r="2.4" fill="#000"/>
<circle cx="645.6" cy="1556.8" r="2.4" fill="#000"/>
<circle cx="640.9" cy="1545.2" r="2.4" fill="#000"/>
<circle cx="643.5" cy="1566.4" r="2.4" fill="#000"/>
<circle cx="639.1" cy="1625.7" r="2.4" fill="#000"/>
<circle cx="645.4" cy="1578.3" r="2.4" fill="#000"/>
<circle cx="635.1" cy="1600.4" r="2.4" fill="#000"/>
<circle cx="639.2" cy="1581.3" r="2.4" fill="#000"/>
<circle cx="647.5" cy="1637.8" r="2.4" fill="#000"/>
<circle cx="641.8" cy="1536.6" r="2.4" fill="#000"/>
<circle cx="637.1" cy="1579.8" r="2.4" fill="#000"/>
<circle cx="634.2" cy="1556.4" r="2.4" fill="#000"/>
<circle cx="640.8" cy="1544.3" r="2.4" fill="#000"/>
<circle cx="642.9" cy="1643.5" r="2.4" fill="#000"/>
<circle cx="635.5" cy="1598.7" r="2.4" fill="#000"/>
<circle cx="637.7" cy="1594.7" r="2.4" fill="#000"/>
<circle cx="647.7" cy="1600.0" r="2.4" fill="#000"/>
<circle cx="637.1" cy="1575.6" r="2.4" fill="#000"/>
<circle cx="648.3" cy="1569.4" r="2.4" fill="#000"/>
<circle cx="635.8" cy="1568.5" r="2.4" fill="#000"/>
<circle cx="638.1" cy="1535.9" r="2.4" fill="#000"/>
<circle cx="640.8" cy="1645.2" r="2.4" fill="#000"/>
<circle cx="684.0" cy="1562.3" r="2.4" fill="#000"/>
<circle cx="686.0" cy="1573.3" r="2.4" fill="#000"/>
<circle cx="682.5" cy="1599.5" r="2.4" fill="#000"/>
<circle cx="684.0" cy="1656.7" r="2.4" fill="#000"/>
<circle cx="721.4" cy="1610.5" r="2.4" fill="#000"/>
<circle cx="724.6" cy="1582.2" r="2.4" fill="#000"/>
<circle cx="724.1" cy="1556.4" r="2.4" fill="#000"/>
<circle cx="734.8" cy="1615.5" r="2.4" fill="#000"/>
<circle cx="731.1" cy="1612.4" r="2.4" fill="#000"/>
<circle cx="721.2" cy="1539.5" r="2.4" fill="#000"/>
<circle cx="723.3" cy="1540.1" r="2.4" fill="#000"/>
<circle cx="721.1" cy="1629.3" r="2.4" fill="#000"/>
<circle cx="726.4" cy="1622.9" r="2.4" fill="#000"/>
<circle cx="736.1" cy="1576.7" r="2.4" fill="#000"/>
<circle cx="722.6" cy="1561.4" r="2.4" fill="#000"/>
<circle cx="734.9" cy="1574.5" r="2.4" fill="#000"/>
<circle cx="735.3" cy="1565.0" r="2.4" fill="#000"/>
<circle cx="724.2" cy="1631.3" r="2.4" fill="#000"/>
<circle cx="727.4" cy="1537.2" r="2.4" fill="#000"/>
<circle cx="731.0" cy="1631.7" r="2.4" fill="#000"/>
<circle cx="769.6" cy="1569.8" r="2.4" fill="#000"/>
<circle cx="776.6" cy="1565.0" r="2.4" fill="#000"/>
<circle cx="772.0" cy="1579.8" r="2.4" fill="#000"/>
<circle cx="773.2" cy="1566.3" r="2.4" fill="#000"/>
<circle cx="774.1" cy="1575.9" r="2.4" fill="#000"/>
<circle cx="767.5" cy="1582.8" r="2.4" fill="#000"/>
<circle cx="767.3" cy="1582.7" r="2.4" fill="#000"/>
<circle cx="765.4" cy="1563.1" r="2.4" fill="#000"/>
<circle cx="778.6" cy="1578.1" r="2.4" fill="#000"/>
<circle cx="770.3" cy="1545.9" r="2.4" fill="#000"/>
<circle cx="769.7" cy="1584.4" r="2.4" fill="#000"/>
<circle cx="774.1" cy="1609.5" r="2.4" fill="#000"/>
<path d="M219.1 1508.0 V1785.6 H798.5" fill="none" stroke="#000" stroke-width="1.7"/>
<line x1="244.8" y1="1785.6" x2="244.8" y2="1790.6" stroke="#333" stroke-width="1.6"/>
<line x1="288.9" y1="1785.6" x2="288.9" y2="1790.6" stroke="#333" stroke-width="1.6"/>
<line x1="332.8" y1="1785.6" x2="332.8" y2="1790.6" stroke="#333" stroke-width="1.6"/>
<line x1="376.9" y1="1785.6" x2="376.9" y2="1790.6" stroke="#333" stroke-width="1.6"/>
<line x1="421.0" y1="1785.6" x2="421.0" y2="1790.6" stroke="#333" stroke-width="1.6"/>
<line x1="464.9" y1="1785.6" x2="464.9" y2="1790.6" stroke="#333" stroke-width="1.6"/>
<line x1="508.8" y1="1785.6" x2="508.8" y2="1790.6" stroke="#333" stroke-width="1.6"/>
<line x1="552.9" y1="1785.6" x2="552.9" y2="1790.6" stroke="#333" stroke-width="1.6"/>
<line x1="596.6" y1="1785.6" x2="596.6" y2="1790.6" stroke="#333" stroke-width="1.6"/>
<line x1="640.6" y1="1785.6" x2="640.6" y2="1790.6" stroke="#333" stroke-width="1.6"/>
<line x1="684.3" y1="1785.6" x2="684.3" y2="1790.6" stroke="#333" stroke-width="1.6"/>
<line x1="728.3" y1="1785.6" x2="728.3" y2="1790.6" stroke="#333" stroke-width="1.6"/>
<line x1="772.6" y1="1785.6" x2="772.6" y2="1790.6" stroke="#333" stroke-width="1.6"/>
<text x="255.5" y="1807.3" font-size="20.8" text-anchor="end" transform="rotate(-45 255.5 1807.3)">L2/3 v. three main dend.</text>
<text x="299.6" y="1807.3" font-size="20.8" text-anchor="end" transform="rotate(-45 299.6 1807.3)">L2/3 v. multipolar</text>
<text x="343.5" y="1807.3" font-size="20.8" text-anchor="end" transform="rotate(-45 343.5 1807.3)">L2/3 v. two main dend.</text>
<text x="387.6" y="1807.3" font-size="20.8" text-anchor="end" transform="rotate(-45 387.6 1807.3)">L2/3 h. acute angle</text>
<text x="431.7" y="1807.3" font-size="20.8" text-anchor="end" transform="rotate(-45 431.7 1807.3)">L2/3 h. pyramidal</text>
<text x="475.6" y="1807.3" font-size="20.8" text-anchor="end" transform="rotate(-45 475.6 1807.3)">L2/3 h. multipolar</text>
<text x="519.5" y="1807.3" font-size="20.8" text-anchor="end" transform="rotate(-45 519.5 1807.3)">L6 inverted</text>
<text x="563.6" y="1807.3" font-size="20.8" text-anchor="end" transform="rotate(-45 563.6 1807.3)">L6 multipolar</text>
<text x="607.3" y="1807.3" font-size="20.8" text-anchor="end" transform="rotate(-45 607.3 1807.3)">L2/3 h. obtuse angle</text>
<text x="651.3" y="1807.3" font-size="20.8" text-anchor="end" transform="rotate(-45 651.3 1807.3)">L6 bipolar</text>
<text x="695.0" y="1807.3" font-size="20.8" text-anchor="end" transform="rotate(-45 695.0 1807.3)">L6 tangential</text>
<text x="739.0" y="1807.3" font-size="20.8" text-anchor="end" transform="rotate(-45 739.0 1807.3)">L6 horizontal</text>
<text x="783.3" y="1807.3" font-size="20.8" text-anchor="end" transform="rotate(-45 783.3 1807.3)">L4 spiny stellate</text>
<text x="245.8" y="1577.3" font-size="20" transform="rotate(-61 245.8 1577.3)">P=0.0185</text>
<text x="727.0" y="1519.9" font-size="20.8">P=0.0035</text>
<text x="589.2" y="1724.8" font-size="24.2">One-way ANOVA:</text>
<text x="589.2" y="1754.1" font-size="24.2">P=2.1×10<tspan font-size="15" dy="-10">-3</tspan></text>
<text x="878.0" y="1490.2" font-size="24.8">L4 spiny stellate</text>
<text x="878.0" y="1743.7" font-size="24.8">L2/3 v. three main dend.</text>
<svg x="883.2" y="1502.4" width="186.4" height="186" viewBox="0 0 186 186">
<defs><filter id="bl1" x="-10%" y="-10%" width="120%" height="120%"><feGaussianBlur stdDeviation="1.3"/></filter><filter id="bl1b" x="-50%" y="-50%" width="200%" height="200%"><feGaussianBlur stdDeviation="10"/></filter><filter id="bl1c" x="-10%" y="-10%" width="120%" height="120%"><feGaussianBlur stdDeviation="2"/></filter></defs>
<rect width="186" height="186" fill="#0a0a0a"/>
<g filter="url(#bl1b)"><ellipse cx="92" cy="92" rx="48" ry="64" fill="#555"/><ellipse cx="75" cy="32" rx="28" ry="20" fill="#505050"/><ellipse cx="95" cy="150" rx="25" ry="22" fill="#2a2a2a"/></g>
<g filter="url(#bl1)">
<polyline points="66,38 54,30 40,19 26,7 20,2" fill="none" stroke="#9a9a9a" stroke-width="4.5" stroke-linecap="round"/>
<circle cx="66.4" cy="38.3" r="3.5" fill="#fff" opacity="0.65"/><circle cx="49.3" cy="25.8" r="2.6" fill="#fff" opacity="0.72"/><circle cx="43.8" cy="23.3" r="3.0" fill="#fff" opacity="0.65"/><circle cx="41.0" cy="19.5" r="4.2" fill="#fff" opacity="0.83"/><circle cx="35.0" cy="15.0" r="2.8" fill="#fff" opacity="0.98"/><circle cx="30.0" cy="11.6" r="2.8" fill="#fff" opacity="0.97"/><circle cx="26.1" cy="6.7" r="3.5" fill="#fff" opacity="0.63"/>
<polyline points="60,98 45,86 33,77 18,65 3,55" fill="none" stroke="#9a9a9a" stroke-width="4.5" stroke-linecap="round"/>
<circle cx="60.7" cy="97.5" r="4.0" fill="#fff" opacity="0.64"/><circle cx="33.5" cy="76.2" r="3.5" fill="#fff" opacity="0.92"/><circle cx="28.8" cy="73.8" r="3.3" fill="#fff" opacity="0.71"/><circle cx="22.8" cy="70.0" r="3.3" fill="#fff" opacity="0.56"/><circle cx="18.4" cy="66.0" r="3.5" fill="#fff" opacity="0.77"/><circle cx="13.5" cy="61.1" r="3.7" fill="#fff" opacity="0.80"/><circle cx="7.4" cy="57.7" r="3.2" fill="#fff" opacity="0.97"/>
<polyline points="58,132 48,143 33,155 17,172 8,186" fill="none" stroke="#9a9a9a" stroke-width="4.5" stroke-linecap="round"/>
<circle cx="58.2" cy="131.6" r="2.8" fill="#fff" opacity="0.58"/><circle cx="43.4" cy="147.4" r="4.2" fill="#fff" opacity="0.98"/><circle cx="39.0" cy="151.9" r="3.7" fill="#fff" opacity="0.95"/><circle cx="32.8" cy="154.5" r="4.2" fill="#fff" opacity="0.62"/><circle cx="29.6" cy="159.8" r="3.5" fill="#fff" opacity="0.93"/><circle cx="24.5" cy="163.1" r="3.4" fill="#fff" opacity="0.63"/><circle cx="20.7" cy="168.5" r="4.4" fill="#fff" opacity="0.89"/><circle cx="16.5" cy="172.9" r="3.5" fill="#fff" opacity="0.88"/><circle cx="13.4" cy="177.3" r="4.0" fill="#fff" opacity="0.95"/><circle cx="10.9" cy="181.5" r="4.1" fill="#fff" opacity="0.69"/>
<polyline points="122,110 142,102 160,112 177,126 186,132" fill="none" stroke="#9a9a9a" stroke-width="4.5" stroke-linecap="round"/>
<circle cx="121.6" cy="110.5" r="2.6" fill="#fff" opacity="0.86"/><circle cx="135.5" cy="105.0" r="4.1" fill="#fff" opacity="0.81"/><circle cx="141.8" cy="102.9" r="4.2" fill="#fff" opacity="0.61"/><circle cx="147.2" cy="104.4" r="3.4" fill="#fff" opacity="0.61"/><circle cx="159.3" cy="112.1" r="3.2" fill="#fff" opacity="0.77"/><circle cx="163.6" cy="114.9" r="3.3" fill="#fff" opacity="0.87"/><circle cx="167.6" cy="119.4" r="4.2" fill="#fff" opacity="0.90"/><circle cx="176.9" cy="125.1" r="4.0" fill="#fff" opacity="0.63"/>
<polyline points="123,46 124,25 126,8 127,0" fill="none" stroke="#9a9a9a" stroke-width="4.5" stroke-linecap="round"/>
<circle cx="123.7" cy="38.6" r="2.7" fill="#fff" opacity="0.72"/><circle cx="124.5" cy="31.6" r="3.5" fill="#fff" opacity="0.80"/><circle cx="124.9" cy="19.3" r="3.9" fill="#fff" opacity="0.99"/><circle cx="125.7" cy="13.7" r="3.6" fill="#fff" opacity="0.58"/>
<polyline points="132,42 150,28 165,16 178,6" fill="none" stroke="#9a9a9a" stroke-width="4.5" stroke-linecap="round"/>
<circle cx="136.1" cy="39.5" r="2.8" fill="#fff" opacity="0.58"/><circle cx="141.6" cy="35.5" r="3.4" fill="#fff" opacity="0.83"/><circle cx="145.8" cy="31.4" r="3.5" fill="#fff" opacity="0.73"/><circle cx="149.5" cy="27.1" r="3.4" fill="#fff" opacity="0.66"/><circle cx="171.0" cy="10.8" r="3.5" fill="#fff" opacity="0.83"/>
<polyline points="138,86 148,70 158,53 168,42" fill="none" stroke="#9a9a9a" stroke-width="4.5" stroke-linecap="round"/>
<circle cx="141.3" cy="80.7" r="3.9" fill="#fff" opacity="0.95"/><circle cx="148.5" cy="70.3" r="4.1" fill="#fff" opacity="0.86"/><circle cx="150.8" cy="65.2" r="3.3" fill="#fff" opacity="0.83"/>
<polyline points="52,8 54,20 57,32" fill="none" stroke="#9a9a9a" stroke-width="4.5" stroke-linecap="round"/>
<circle cx="51.6" cy="7.6" r="3.3" fill="#fff" opacity="0.62"/><circle cx="52.2" cy="13.6" r="4.3" fill="#fff" opacity="0.88"/><circle cx="53.2" cy="20.9" r="3.9" fill="#fff" opacity="0.64"/><circle cx="55.8" cy="26.4" r="3.1" fill="#fff" opacity="0.98"/>
<polyline points="140,125 158,140 175,152 186,160" fill="none" stroke="#9a9a9a" stroke-width="4.5" stroke-linecap="round"/>
<circle cx="139.5" cy="125.7" r="2.9" fill="#fff" opacity="0.86"/><circle cx="144.7" cy="128.3" r="3.3" fill="#fff" opacity="0.97"/><circle cx="148.9" cy="132.7" r="3.1" fill="#fff" opacity="0.63"/><circle cx="153.0" cy="135.6" r="4.3" fill="#fff" opacity="0.57"/><circle cx="175.0" cy="151.1" r="3.7" fill="#fff" opacity="0.87"/><circle cx="179.5" cy="156.1" r="2.8" fill="#fff" opacity="0.69"/>
<polyline points="118,60 140,50 165,48 186,40" fill="none" stroke="#9a9a9a" stroke-width="4.5" stroke-linecap="round"/>
<circle cx="118.8" cy="59.7" r="2.8" fill="#fff" opacity="0.91"/><circle cx="128.1" cy="54.4" r="3.3" fill="#fff" opacity="0.80"/><circle cx="135.1" cy="53.2" r="4.3" fill="#fff" opacity="0.95"/><circle cx="140.2" cy="49.2" r="4.2" fill="#fff" opacity="0.89"/><circle cx="151.6" cy="49.6" r="3.7" fill="#fff" opacity="0.83"/><circle cx="159.4" cy="48.2" r="3.1" fill="#fff" opacity="0.71"/><circle cx="165.3" cy="48.8" r="2.7" fill="#fff" opacity="0.58"/><circle cx="170.6" cy="45.4" r="3.1" fill="#fff" opacity="0.58"/><circle cx="175.5" cy="44.4" r="3.8" fill="#fff" opacity="0.62"/><circle cx="181.6" cy="42.1" r="3.3" fill="#fff" opacity="0.86"/>
<polyline points="30,110 20,120 8,132" fill="none" stroke="#9a9a9a" stroke-width="4.5" stroke-linecap="round"/>
<circle cx="24.2" cy="115.7" r="3.0" fill="#fff" opacity="0.57"/><circle cx="20.1" cy="120.3" r="2.9" fill="#fff" opacity="0.87"/><circle cx="15.3" cy="124.7" r="4.1" fill="#fff" opacity="0.96"/><circle cx="11.4" cy="128.6" r="4.2" fill="#fff" opacity="0.79"/>
<polyline points="10,95 22,100 35,104" fill="none" stroke="#9a9a9a" stroke-width="4.5" stroke-linecap="round"/>
<circle cx="22.9" cy="100.9" r="4.0" fill="#fff" opacity="0.56"/><circle cx="28.7" cy="102.2" r="4.0" fill="#fff" opacity="0.84"/>
<circle cx="31.4" cy="171.4" r="2.0" fill="#fff" opacity="0.83"/>
<circle cx="39.6" cy="183.6" r="2.0" fill="#fff" opacity="0.77"/>
<circle cx="136.7" cy="162.7" r="1.7" fill="#fff" opacity="0.35"/>
<circle cx="75.8" cy="34.4" r="2.0" fill="#fff" opacity="0.79"/>
<circle cx="67.9" cy="25.9" r="1.2" fill="#fff" opacity="0.55"/>
<circle cx="107.6" cy="6.8" r="2.1" fill="#fff" opacity="0.43"/>
<circle cx="21.5" cy="170.8" r="1.9" fill="#fff" opacity="0.84"/>
<circle cx="95.5" cy="24.4" r="1.5" fill="#fff" opacity="0.55"/>
<circle cx="118.6" cy="142.3" r="2.3" fill="#fff" opacity="0.69"/>
<circle cx="48.0" cy="80.3" r="1.7" fill="#fff" opacity="0.59"/>
<circle cx="50.3" cy="99.9" r="1.8" fill="#fff" opacity="0.32"/>
<circle cx="151.8" cy="108.7" r="2.3" fill="#fff" opacity="0.74"/>
<circle cx="135.0" cy="182.8" r="1.7" fill="#fff" opacity="0.54"/>
<circle cx="2.7" cy="122.9" r="2.0" fill="#fff" opacity="0.65"/>
<circle cx="183.6" cy="37.8" r="1.5" fill="#fff" opacity="0.74"/>
<circle cx="149.9" cy="89.9" r="1.3" fill="#fff" opacity="0.52"/>
<circle cx="152.4" cy="93.0" r="1.8" fill="#fff" opacity="0.53"/>
<circle cx="116.4" cy="110.9" r="2.2" fill="#fff" opacity="0.82"/>
<circle cx="138.7" cy="70.2" r="1.6" fill="#fff" opacity="0.77"/>
<circle cx="146.3" cy="170.9" r="1.5" fill="#fff" opacity="0.81"/>
<circle cx="164.1" cy="16.1" r="1.6" fill="#fff" opacity="0.68"/>
<circle cx="28.6" cy="153.3" r="1.6" fill="#fff" opacity="0.71"/>
<circle cx="55.8" cy="41.7" r="1.5" fill="#fff" opacity="0.60"/>
<circle cx="131.8" cy="41.7" r="2.2" fill="#fff" opacity="0.50"/>
<circle cx="120.2" cy="69.0" r="1.5" fill="#fff" opacity="0.38"/>
<circle cx="12.5" cy="128.7" r="1.8" fill="#fff" opacity="0.37"/>
<circle cx="162.3" cy="121.2" r="1.2" fill="#fff" opacity="0.73"/>
<circle cx="110.2" cy="82.8" r="1.9" fill="#fff" opacity="0.88"/>
<circle cx="70.0" cy="117.8" r="2.1" fill="#fff" opacity="0.52"/>
<circle cx="65.0" cy="139.4" r="2.1" fill="#fff" opacity="0.57"/>
<circle cx="95.5" cy="42.7" r="2.3" fill="#fff" opacity="0.31"/>
<circle cx="119.1" cy="84.8" r="1.5" fill="#fff" opacity="0.65"/>
<circle cx="108.1" cy="17.8" r="1.9" fill="#fff" opacity="0.40"/>
<circle cx="147.4" cy="61.5" r="1.7" fill="#fff" opacity="0.43"/>
<circle cx="10.8" cy="36.0" r="1.4" fill="#fff" opacity="0.67"/>
<circle cx="156.2" cy="42.2" r="1.4" fill="#fff" opacity="0.62"/>
<circle cx="23.0" cy="75.8" r="2.3" fill="#fff" opacity="0.42"/>
<circle cx="129.3" cy="100.0" r="1.3" fill="#fff" opacity="0.45"/>
<circle cx="111.1" cy="19.5" r="1.5" fill="#fff" opacity="0.65"/>
<circle cx="150.9" cy="96.7" r="2.1" fill="#fff" opacity="0.31"/>
<path d="M92 140 L97 184" stroke="#9a9a9a" stroke-width="4"/>
</g>
<g filter="url(#bl1c)"><path d="M72 50 C82 45 106 45 116 52 C124 62 124 88 121 110 C117 127 106 134 92 134 C77 134 66 126 63 110 C60 90 62 62 72 50 Z" fill="#f0f0f0"/></g>
<rect x="108.4" y="164" width="74.4" height="4.4" fill="#fff"/>
<text x="145.5" y="161.8" font-size="19" fill="#fff" text-anchor="middle">10 um</text>
</svg>
<svg x="883.2" y="1753" width="186.4" height="185.7" viewBox="0 0 186 186">
<defs><filter id="bl2" x="-30%" y="-30%" width="160%" height="160%"><feGaussianBlur stdDeviation="2.6"/></filter><filter id="bl2b" x="-30%" y="-30%" width="160%" height="160%"><feGaussianBlur stdDeviation="4"/></filter></defs>
<rect width="186" height="186" fill="#0b0b0b"/>
<g filter="url(#bl2b)">
<ellipse cx="38.6" cy="57.9" rx="8.7" ry="7.4" fill="rgb(145,145,145)"/>
<ellipse cx="57.2" cy="2.3" rx="8.7" ry="6.9" fill="rgb(105,105,105)"/>
<ellipse cx="55.9" cy="8.8" rx="4.5" ry="6.3" fill="rgb(106,106,106)"/>
<ellipse cx="35.6" cy="1.0" rx="4.7" ry="8.5" fill="rgb(76,76,76)"/>
<ellipse cx="47.5" cy="12.4" rx="3.8" ry="6.7" fill="rgb(145,145,145)"/>
<ellipse cx="7.9" cy="0.1" rx="4.3" ry="4.3" fill="rgb(154,154,154)"/>
<ellipse cx="60.9" cy="68.0" rx="8.8" ry="6.2" fill="rgb(84,84,84)"/>
<ellipse cx="42.0" cy="16.0" rx="7.1" ry="8.8" fill="rgb(162,162,162)"/>
<ellipse cx="55.4" cy="23.3" rx="4.0" ry="3.9" fill="rgb(93,93,93)"/>
<ellipse cx="4.0" cy="23.5" rx="3.0" ry="7.1" fill="rgb(122,122,122)"/>
<ellipse cx="20.9" cy="24.2" rx="5.9" ry="4.9" fill="rgb(148,148,148)"/>
<ellipse cx="29.8" cy="55.0" rx="8.9" ry="3.1" fill="rgb(56,56,56)"/>
<ellipse cx="46.5" cy="65.9" rx="7.7" ry="5.2" fill="rgb(52,52,52)"/>
<ellipse cx="35.9" cy="0.7" rx="4.1" ry="8.7" fill="rgb(55,55,55)"/>
<ellipse cx="12.2" cy="58.9" rx="8.7" ry="5.1" fill="rgb(161,161,161)"/>
<ellipse cx="22.0" cy="40.9" rx="3.6" ry="7.5" fill="rgb(143,143,143)"/>
<ellipse cx="49.4" cy="67.1" rx="8.7" ry="3.5" fill="rgb(54,54,54)"/>
<ellipse cx="21.1" cy="47.6" rx="5.0" ry="8.5" fill="rgb(160,160,160)"/>
<ellipse cx="33.8" cy="24.4" rx="4.1" ry="3.5" fill="rgb(88,88,88)"/>
<ellipse cx="9.2" cy="53.8" rx="4.0" ry="3.3" fill="rgb(169,169,169)"/>
<ellipse cx="61.2" cy="41.6" rx="4.4" ry="6.6" fill="rgb(98,98,98)"/>
<ellipse cx="51.2" cy="35.5" rx="3.3" ry="8.5" fill="rgb(100,100,100)"/>
<ellipse cx="2.0" cy="38.5" rx="3.8" ry="7.4" fill="rgb(150,150,150)"/>
<ellipse cx="58.9" cy="49.2" rx="3.6" ry="5.6" fill="rgb(144,144,144)"/>
<ellipse cx="9.3" cy="65.9" rx="5.7" ry="9.0" fill="rgb(85,85,85)"/>
<ellipse cx="52.8" cy="76.1" rx="5.9" ry="7.4" fill="rgb(104,104,104)"/>
<ellipse cx="29.7" cy="22.7" rx="3.9" ry="5.3" fill="rgb(98,98,98)"/>
<ellipse cx="61.3" cy="74.9" rx="6.0" ry="5.0" fill="rgb(125,125,125)"/>
<ellipse cx="5.5" cy="21.2" rx="8.2" ry="5.2" fill="rgb(143,143,143)"/>
<ellipse cx="48.7" cy="60.4" rx="7.0" ry="7.6" fill="rgb(133,133,133)"/>
<ellipse cx="22.5" cy="54.9" rx="5.9" ry="7.6" fill="rgb(83,83,83)"/>
<ellipse cx="42.8" cy="22.9" rx="6.9" ry="6.5" fill="rgb(163,163,163)"/>
<ellipse cx="0.7" cy="42.7" rx="7.0" ry="5.8" fill="rgb(80,80,80)"/>
<ellipse cx="50.6" cy="50.5" rx="5.1" ry="6.9" fill="rgb(145,145,145)"/>
<ellipse cx="45.7" cy="64.6" rx="8.1" ry="8.2" fill="rgb(92,92,92)"/>
<ellipse cx="42.7" cy="76.1" rx="6.1" ry="6.2" fill="rgb(164,164,164)"/>
<ellipse cx="10.3" cy="65.3" rx="5.9" ry="7.1" fill="rgb(162,162,162)"/>
<ellipse cx="44.6" cy="57.0" rx="7.7" ry="6.5" fill="rgb(70,70,70)"/>
<ellipse cx="41.3" cy="32.8" rx="7.6" ry="6.8" fill="rgb(124,124,124)"/>
<ellipse cx="44.7" cy="2.2" rx="5.6" ry="6.9" fill="rgb(69,69,69)"/>
<ellipse cx="13.6" cy="53.5" rx="3.3" ry="5.8" fill="rgb(125,125,125)"/>
<ellipse cx="14.0" cy="4.2" rx="4.9" ry="4.1" fill="rgb(66,66,66)"/>
<ellipse cx="12.0" cy="2.8" rx="5.3" ry="6.7" fill="rgb(105,105,105)"/>
<ellipse cx="36.6" cy="18.6" rx="3.0" ry="5.4" fill="rgb(158,158,158)"/>
<ellipse cx="17.3" cy="32.0" rx="8.0" ry="5.2" fill="rgb(63,63,63)"/>
<ellipse cx="2.2" cy="47.9" rx="6.3" ry="5.0" fill="rgb(61,61,61)"/>
<ellipse cx="36.0" cy="74.7" rx="5.5" ry="7.9" fill="rgb(148,148,148)"/>
<ellipse cx="39.8" cy="28.8" rx="6.6" ry="6.4" fill="rgb(67,67,67)"/>
<ellipse cx="59.3" cy="75.5" rx="5.1" ry="8.4" fill="rgb(123,123,123)"/>
<ellipse cx="0.1" cy="8.4" rx="6.7" ry="3.8" fill="rgb(117,117,117)"/>
<ellipse cx="39.0" cy="69.5" rx="5.6" ry="4.4" fill="rgb(95,95,95)"/>
<ellipse cx="18.1" cy="75.9" rx="8.8" ry="8.5" fill="rgb(95,95,95)"/>
<ellipse cx="36.9" cy="20.3" rx="6.0" ry="5.5" fill="rgb(167,167,167)"/>
<ellipse cx="19.8" cy="76.8" rx="4.7" ry="5.9" fill="rgb(109,109,109)"/>
<ellipse cx="7.6" cy="48.5" rx="4.8" ry="7.7" fill="rgb(103,103,103)"/>
<ellipse cx="170.1" cy="36.7" rx="7.7" ry="6.9" fill="rgb(80,80,80)"/>
<ellipse cx="139.5" cy="47.4" rx="4.5" ry="6.0" fill="rgb(158,158,158)"/>
<ellipse cx="157.3" cy="50.4" rx="3.6" ry="6.8" fill="rgb(131,131,131)"/>
<ellipse cx="145.8" cy="49.8" rx="5.6" ry="5.3" fill="rgb(82,82,82)"/>
<ellipse cx="151.9" cy="53.9" rx="4.3" ry="5.3" fill="rgb(54,54,54)"/>
<ellipse cx="185.8" cy="33.9" rx="6.9" ry="5.1" fill="rgb(51,51,51)"/>
<ellipse cx="163.9" cy="47.6" rx="7.6" ry="4.9" fill="rgb(103,103,103)"/>
<ellipse cx="155.0" cy="43.4" rx="7.2" ry="3.3" fill="rgb(82,82,82)"/>
<ellipse cx="178.8" cy="34.0" rx="6.9" ry="7.6" fill="rgb(81,81,81)"/>
<ellipse cx="136.0" cy="60.3" rx="4.7" ry="3.8" fill="rgb(104,104,104)"/>
<ellipse cx="165.7" cy="33.7" rx="7.1" ry="7.0" fill="rgb(75,75,75)"/>
<ellipse cx="160.8" cy="46.8" rx="8.0" ry="6.5" fill="rgb(157,157,157)"/>
<ellipse cx="134.9" cy="55.6" rx="7.8" ry="6.6" fill="rgb(121,121,121)"/>
<ellipse cx="133.3" cy="69.5" rx="6.1" ry="5.1" fill="rgb(66,66,66)"/>
<ellipse cx="138.8" cy="47.6" rx="4.9" ry="3.4" fill="rgb(61,61,61)"/>
<ellipse cx="132.2" cy="67.9" rx="3.7" ry="5.2" fill="rgb(146,146,146)"/>
<ellipse cx="147.4" cy="53.1" rx="4.9" ry="3.3" fill="rgb(153,153,153)"/>
<ellipse cx="164.3" cy="43.4" rx="7.6" ry="5.8" fill="rgb(105,105,105)"/>
<ellipse cx="161.2" cy="44.1" rx="6.8" ry="5.6" fill="rgb(77,77,77)"/>
<ellipse cx="132.6" cy="56.4" rx="3.9" ry="6.6" fill="rgb(131,131,131)"/>
<ellipse cx="161.0" cy="45.8" rx="3.6" ry="6.0" fill="rgb(60,60,60)"/>
<ellipse cx="146.4" cy="55.4" rx="7.0" ry="3.1" fill="rgb(85,85,85)"/>
<ellipse cx="164.7" cy="31.0" rx="6.4" ry="4.1" fill="rgb(154,154,154)"/>
<ellipse cx="140.4" cy="64.0" rx="3.7" ry="6.1" fill="rgb(140,140,140)"/>
<ellipse cx="145.4" cy="48.0" rx="4.7" ry="4.9" fill="rgb(117,117,117)"/>
<ellipse cx="139.9" cy="62.9" rx="5.2" ry="7.3" fill="rgb(138,138,138)"/>
<ellipse cx="159.1" cy="48.2" rx="5.0" ry="3.5" fill="rgb(131,131,131)"/>
<ellipse cx="126.4" cy="51.8" rx="5.4" ry="6.8" fill="rgb(147,147,147)"/>
<ellipse cx="127.7" cy="73.3" rx="5.1" ry="5.3" fill="rgb(118,118,118)"/>
<ellipse cx="129.6" cy="52.4" rx="4.9" ry="7.4" fill="rgb(91,91,91)"/>
<ellipse cx="133.9" cy="53.5" rx="4.4" ry="4.2" fill="rgb(67,67,67)"/>
<ellipse cx="150.3" cy="57.8" rx="7.7" ry="6.4" fill="rgb(90,90,90)"/>
<ellipse cx="166.7" cy="51.8" rx="6.3" ry="4.5" fill="rgb(62,62,62)"/>
<ellipse cx="169.9" cy="33.0" rx="3.1" ry="4.2" fill="rgb(72,72,72)"/>
<ellipse cx="131.3" cy="72.7" rx="4.6" ry="5.3" fill="rgb(90,90,90)"/>
<ellipse cx="147.2" cy="59.6" rx="4.2" ry="6.4" fill="rgb(67,67,67)"/>
<ellipse cx="184.3" cy="30.4" rx="3.0" ry="3.3" fill="rgb(157,157,157)"/>
<ellipse cx="172.1" cy="26.6" rx="7.9" ry="5.6" fill="rgb(110,110,110)"/>
<ellipse cx="143.4" cy="41.8" rx="5.5" ry="7.7" fill="rgb(148,148,148)"/>
<ellipse cx="128.0" cy="51.4" rx="3.3" ry="4.3" fill="rgb(93,93,93)"/>
<ellipse cx="152.8" cy="7.6" rx="3.2" ry="7.9" fill="rgb(33,33,33)"/>
<ellipse cx="140.0" cy="12.7" rx="5.7" ry="3.4" fill="rgb(54,54,54)"/>
<ellipse cx="147.6" cy="2.7" rx="7.6" ry="6.0" fill="rgb(62,62,62)"/>
<ellipse cx="178.0" cy="5.4" rx="5.7" ry="5.4" fill="rgb(31,31,31)"/>
<ellipse cx="162.0" cy="9.4" rx="6.6" ry="7.6" fill="rgb(67,67,67)"/>
<ellipse cx="147.2" cy="11.2" rx="4.1" ry="3.6" fill="rgb(79,79,79)"/>
<ellipse cx="147.5" cy="2.2" rx="7.1" ry="4.6" fill="rgb(76,76,76)"/>
<ellipse cx="137.3" cy="2.0" rx="3.4" ry="5.1" fill="rgb(44,44,44)"/>
<ellipse cx="162.3" cy="6.1" rx="6.5" ry="3.2" fill="rgb(33,33,33)"/>
<ellipse cx="141.2" cy="7.2" rx="3.5" ry="5.1" fill="rgb(52,52,52)"/>
<ellipse cx="147.6" cy="18.8" rx="7.5" ry="6.3" fill="rgb(63,63,63)"/>
<ellipse cx="172.5" cy="14.4" rx="7.1" ry="6.3" fill="rgb(56,56,56)"/>
<ellipse cx="178" cy="65" rx="7" ry="14" fill="#777"/><ellipse cx="92" cy="172" rx="16" ry="14" fill="#444"/>
</g>
<g filter="url(#bl2)">
<ellipse cx="6" cy="11" rx="4" ry="6" fill="#fff"/>
<ellipse cx="33" cy="18" rx="3.5" ry="6" fill="#eee"/>
<ellipse cx="52" cy="16" rx="4" ry="7" fill="#fff"/>
<ellipse cx="8" cy="71" rx="4" ry="5" fill="#ccc"/>
<ellipse cx="12" cy="39" rx="4" ry="5" fill="#aaa"/>
<ellipse cx="153" cy="34" rx="4" ry="4" fill="#ccc"/>
<ellipse cx="168" cy="28" rx="3" ry="5" fill="#aaa"/>
<ellipse cx="155" cy="147" rx="3.5" ry="5" fill="#bbb"/>
<ellipse cx="167" cy="144" rx="3" ry="5" fill="#aaa"/>
<ellipse cx="125" cy="155" rx="3" ry="5" fill="#888"/>
<ellipse cx="46" cy="92" rx="3" ry="9" fill="#888"/>
<ellipse cx="138" cy="72" rx="7" ry="4" fill="#aaa"/>
<ellipse cx="75" cy="172" rx="4" ry="9" fill="#ddd"/>
<ellipse cx="60" cy="68" rx="5" ry="5" fill="#999"/>
<ellipse cx="170" cy="120" rx="3" ry="4" fill="#555"/>
</g>
<path d="M72 30 L96 29 L99 36 L108 33 L127 34 C131 55 133 75 131 95 C128 120 122 140 116 155 C110 165 100 168 85 166 C70 164 62 150 60 135 C57 115 57 95 60 75 C62 55 66 40 72 30 Z" fill="#ffffff" filter="url(#bl2)"/>
<rect x="108.9" y="171.4" width="73.7" height="4.4" fill="#fff"/>
</svg>
<text x="1220.2" y="1488.6" font-size="49.5" font-weight="bold">e</text>
<text x="1381.3" y="1498.0" font-size="41.3">Sholl analysis</text>
<rect x="1448.0" y="1560.9" width="30.7" height="337.4" fill="#e8e8e8"/>
<line x1="1438.0" y1="1638.3" x2="1438.0" y2="1657.5" stroke="#E76BF3" stroke-width="1.5"/>
<line x1="1454.7" y1="1619.1" x2="1454.7" y2="1643.1" stroke="#E76BF3" stroke-width="1.5"/>
<line x1="1471.5" y1="1619.1" x2="1471.5" y2="1643.1" stroke="#E76BF3" stroke-width="1.5"/>
<line x1="1488.2" y1="1638.3" x2="1488.2" y2="1674.3" stroke="#E76BF3" stroke-width="1.5"/>
<line x1="1504.9" y1="1665.9" x2="1504.9" y2="1704.3" stroke="#E76BF3" stroke-width="1.5"/>
<line x1="1521.7" y1="1662.3" x2="1521.7" y2="1712.6" stroke="#E76BF3" stroke-width="1.5"/>
<line x1="1538.4" y1="1704.3" x2="1538.4" y2="1728.2" stroke="#E76BF3" stroke-width="1.5"/>
<line x1="1555.1" y1="1731.8" x2="1555.1" y2="1746.2" stroke="#E76BF3" stroke-width="1.5"/>
<line x1="1421.3" y1="1701.9" x2="1421.3" y2="1713.8" stroke="#E76BF3" stroke-width="1.5"/>
<polyline points="1404.5,1805.0 1421.3,1723.4 1438.0,1663.5 1454.7,1611.9 1471.5,1615.5 1488.2,1647.9 1504.9,1691.1 1521.7,1746.2 1538.4,1779.8 1555.1,1801.4 1571.9,1817.0 1588.6,1827.8 1605.3,1833.7 1622.0,1834.9 1638.8,1832.5 1655.5,1839.7 1672.2,1842.1 1689.0,1844.5 1705.7,1851.7 1722.4,1862.5 1739.2,1863.7 1755.9,1863.7 1772.6,1866.1 1789.4,1872.1 1806.1,1873.3" fill="none" stroke="#A3A500" stroke-width="2.2"/>
<circle cx="1404.5" cy="1805.0" r="3.6" fill="#A3A500"/>
<circle cx="1421.3" cy="1723.4" r="3.6" fill="#A3A500"/>
<circle cx="1438.0" cy="1663.5" r="3.6" fill="#A3A500"/>
<circle cx="1454.7" cy="1611.9" r="3.6" fill="#A3A500"/>
<circle cx="1471.5" cy="1615.5" r="3.6" fill="#A3A500"/>
<circle cx="1488.2" cy="1647.9" r="3.6" fill="#A3A500"/>
<circle cx="1504.9" cy="1691.1" r="3.6" fill="#A3A500"/>
<circle cx="1521.7" cy="1746.2" r="3.6" fill="#A3A500"/>
<circle cx="1538.4" cy="1779.8" r="3.6" fill="#A3A500"/>
<circle cx="1555.1" cy="1801.4" r="3.6" fill="#A3A500"/>
<circle cx="1571.9" cy="1817.0" r="3.6" fill="#A3A500"/>
<circle cx="1588.6" cy="1827.8" r="3.6" fill="#A3A500"/>
<circle cx="1605.3" cy="1833.7" r="3.6" fill="#A3A500"/>
<circle cx="1622.0" cy="1834.9" r="3.6" fill="#A3A500"/>
<circle cx="1638.8" cy="1832.5" r="3.6" fill="#A3A500"/>
<circle cx="1655.5" cy="1839.7" r="3.6" fill="#A3A500"/>
<circle cx="1672.2" cy="1842.1" r="3.6" fill="#A3A500"/>
<circle cx="1689.0" cy="1844.5" r="3.6" fill="#A3A500"/>
<circle cx="1705.7" cy="1851.7" r="3.6" fill="#A3A500"/>
<circle cx="1722.4" cy="1862.5" r="3.6" fill="#A3A500"/>
<circle cx="1739.2" cy="1863.7" r="3.6" fill="#A3A500"/>
<circle cx="1755.9" cy="1863.7" r="3.6" fill="#A3A500"/>
<circle cx="1772.6" cy="1866.1" r="3.6" fill="#A3A500"/>
<circle cx="1789.4" cy="1872.1" r="3.6" fill="#A3A500"/>
<circle cx="1806.1" cy="1873.3" r="3.6" fill="#A3A500"/>
<polyline points="1404.5,1805.0 1421.3,1723.4 1438.0,1665.9 1454.7,1619.1 1471.5,1615.5 1488.2,1641.9 1504.9,1680.3 1521.7,1719.8 1538.4,1751.0 1555.1,1772.6 1571.9,1787.0 1588.6,1794.2 1605.3,1802.6 1622.0,1806.2 1638.8,1814.6 1655.5,1819.4 1672.2,1826.6 1689.0,1832.5 1705.7,1839.7 1722.4,1844.5 1739.2,1846.9 1755.9,1851.7 1772.6,1860.1 1789.4,1862.5 1806.1,1867.3" fill="none" stroke="#00BF7D" stroke-width="2.2"/>
<circle cx="1404.5" cy="1805.0" r="3.6" fill="#00BF7D"/>
<circle cx="1421.3" cy="1723.4" r="3.6" fill="#00BF7D"/>
<circle cx="1438.0" cy="1665.9" r="3.6" fill="#00BF7D"/>
<circle cx="1454.7" cy="1619.1" r="3.6" fill="#00BF7D"/>
<circle cx="1471.5" cy="1615.5" r="3.6" fill="#00BF7D"/>
<circle cx="1488.2" cy="1641.9" r="3.6" fill="#00BF7D"/>
<circle cx="1504.9" cy="1680.3" r="3.6" fill="#00BF7D"/>
<circle cx="1521.7" cy="1719.8" r="3.6" fill="#00BF7D"/>
<circle cx="1538.4" cy="1751.0" r="3.6" fill="#00BF7D"/>
<circle cx="1555.1" cy="1772.6" r="3.6" fill="#00BF7D"/>
<circle cx="1571.9" cy="1787.0" r="3.6" fill="#00BF7D"/>
<circle cx="1588.6" cy="1794.2" r="3.6" fill="#00BF7D"/>
<circle cx="1605.3" cy="1802.6" r="3.6" fill="#00BF7D"/>
<circle cx="1622.0" cy="1806.2" r="3.6" fill="#00BF7D"/>
<circle cx="1638.8" cy="1814.6" r="3.6" fill="#00BF7D"/>
<circle cx="1655.5" cy="1819.4" r="3.6" fill="#00BF7D"/>
<circle cx="1672.2" cy="1826.6" r="3.6" fill="#00BF7D"/>
<circle cx="1689.0" cy="1832.5" r="3.6" fill="#00BF7D"/>
<circle cx="1705.7" cy="1839.7" r="3.6" fill="#00BF7D"/>
<circle cx="1722.4" cy="1844.5" r="3.6" fill="#00BF7D"/>
<circle cx="1739.2" cy="1846.9" r="3.6" fill="#00BF7D"/>
<circle cx="1755.9" cy="1851.7" r="3.6" fill="#00BF7D"/>
<circle cx="1772.6" cy="1860.1" r="3.6" fill="#00BF7D"/>
<circle cx="1789.4" cy="1862.5" r="3.6" fill="#00BF7D"/>
<circle cx="1806.1" cy="1867.3" r="3.6" fill="#00BF7D"/>
<polyline points="1404.5,1821.8 1421.3,1742.6 1438.0,1665.9 1454.7,1615.5 1471.5,1614.3 1488.2,1640.7 1504.9,1677.9 1521.7,1719.8 1538.4,1751.0 1555.1,1772.6 1571.9,1789.4 1588.6,1802.6 1605.3,1814.6 1622.0,1818.2 1638.8,1824.2 1655.5,1832.5 1672.2,1843.3 1689.0,1849.3 1705.7,1860.1 1722.4,1866.1 1739.2,1873.3 1755.9,1874.5 1772.6,1878.1 1789.4,1879.3 1806.1,1882.9" fill="none" stroke="#00B0F6" stroke-width="2.2"/>
<circle cx="1404.5" cy="1821.8" r="3.6" fill="#00B0F6"/>
<circle cx="1421.3" cy="1742.6" r="3.6" fill="#00B0F6"/>
<circle cx="1438.0" cy="1665.9" r="3.6" fill="#00B0F6"/>
<circle cx="1454.7" cy="1615.5" r="3.6" fill="#00B0F6"/>
<circle cx="1471.5" cy="1614.3" r="3.6" fill="#00B0F6"/>
<circle cx="1488.2" cy="1640.7" r="3.6" fill="#00B0F6"/>
<circle cx="1504.9" cy="1677.9" r="3.6" fill="#00B0F6"/>
<circle cx="1521.7" cy="1719.8" r="3.6" fill="#00B0F6"/>
<circle cx="1538.4" cy="1751.0" r="3.6" fill="#00B0F6"/>
<circle cx="1555.1" cy="1772.6" r="3.6" fill="#00B0F6"/>
<circle cx="1571.9" cy="1789.4" r="3.6" fill="#00B0F6"/>
<circle cx="1588.6" cy="1802.6" r="3.6" fill="#00B0F6"/>
<circle cx="1605.3" cy="1814.6" r="3.6" fill="#00B0F6"/>
<circle cx="1622.0" cy="1818.2" r="3.6" fill="#00B0F6"/>
<circle cx="1638.8" cy="1824.2" r="3.6" fill="#00B0F6"/>
<circle cx="1655.5" cy="1832.5" r="3.6" fill="#00B0F6"/>
<circle cx="1672.2" cy="1843.3" r="3.6" fill="#00B0F6"/>
<circle cx="1689.0" cy="1849.3" r="3.6" fill="#00B0F6"/>
<circle cx="1705.7" cy="1860.1" r="3.6" fill="#00B0F6"/>
<circle cx="1722.4" cy="1866.1" r="3.6" fill="#00B0F6"/>
<circle cx="1739.2" cy="1873.3" r="3.6" fill="#00B0F6"/>
<circle cx="1755.9" cy="1874.5" r="3.6" fill="#00B0F6"/>
<circle cx="1772.6" cy="1878.1" r="3.6" fill="#00B0F6"/>
<circle cx="1789.4" cy="1879.3" r="3.6" fill="#00B0F6"/>
<circle cx="1806.1" cy="1882.9" r="3.6" fill="#00B0F6"/>
<polyline points="1404.5,1809.8 1421.3,1713.8 1438.0,1626.3 1454.7,1579.6 1471.5,1580.8 1488.2,1597.5 1504.9,1651.5 1521.7,1692.3 1538.4,1722.2 1555.1,1752.2 1571.9,1776.2 1588.6,1783.4 1605.3,1789.4 1622.0,1797.8 1638.8,1805.0 1655.5,1817.0 1672.2,1821.8 1689.0,1831.3 1705.7,1834.9 1722.4,1838.5 1739.2,1846.9 1755.9,1855.3 1772.6,1862.5 1789.4,1870.9 1806.1,1874.5" fill="none" stroke="#F8766D" stroke-width="2.2"/>
<circle cx="1404.5" cy="1809.8" r="3.6" fill="#F8766D"/>
<circle cx="1421.3" cy="1713.8" r="3.6" fill="#F8766D"/>
<circle cx="1438.0" cy="1626.3" r="3.6" fill="#F8766D"/>
<circle cx="1454.7" cy="1579.6" r="3.6" fill="#F8766D"/>
<circle cx="1471.5" cy="1580.8" r="3.6" fill="#F8766D"/>
<circle cx="1488.2" cy="1597.5" r="3.6" fill="#F8766D"/>
<circle cx="1504.9" cy="1651.5" r="3.6" fill="#F8766D"/>
<circle cx="1521.7" cy="1692.3" r="3.6" fill="#F8766D"/>
<circle cx="1538.4" cy="1722.2" r="3.6" fill="#F8766D"/>
<circle cx="1555.1" cy="1752.2" r="3.6" fill="#F8766D"/>
<circle cx="1571.9" cy="1776.2" r="3.6" fill="#F8766D"/>
<circle cx="1588.6" cy="1783.4" r="3.6" fill="#F8766D"/>
<circle cx="1605.3" cy="1789.4" r="3.6" fill="#F8766D"/>
<circle cx="1622.0" cy="1797.8" r="3.6" fill="#F8766D"/>
<circle cx="1638.8" cy="1805.0" r="3.6" fill="#F8766D"/>
<circle cx="1655.5" cy="1817.0" r="3.6" fill="#F8766D"/>
<circle cx="1672.2" cy="1821.8" r="3.6" fill="#F8766D"/>
<circle cx="1689.0" cy="1831.3" r="3.6" fill="#F8766D"/>
<circle cx="1705.7" cy="1834.9" r="3.6" fill="#F8766D"/>
<circle cx="1722.4" cy="1838.5" r="3.6" fill="#F8766D"/>
<circle cx="1739.2" cy="1846.9" r="3.6" fill="#F8766D"/>
<circle cx="1755.9" cy="1855.3" r="3.6" fill="#F8766D"/>
<circle cx="1772.6" cy="1862.5" r="3.6" fill="#F8766D"/>
<circle cx="1789.4" cy="1870.9" r="3.6" fill="#F8766D"/>
<circle cx="1806.1" cy="1874.5" r="3.6" fill="#F8766D"/>
<polyline points="1404.5,1811.0 1421.3,1707.9 1438.0,1647.9 1454.7,1631.1 1471.5,1631.1 1488.2,1656.3 1504.9,1685.1 1521.7,1687.5 1538.4,1716.2 1555.1,1739.0 1571.9,1782.2 1588.6,1794.2 1605.3,1811.0 1622.0,1823.0 1638.8,1823.0 1655.5,1821.8 1672.2,1842.1 1689.0,1851.7 1705.7,1854.1 1722.4,1864.9 1739.2,1874.5 1755.9,1874.5 1772.6,1874.5 1789.4,1874.5 1806.1,1875.7" fill="none" stroke="#E76BF3" stroke-width="2.2"/>
<circle cx="1404.5" cy="1811.0" r="3.6" fill="#E76BF3"/>
<circle cx="1421.3" cy="1707.9" r="3.6" fill="#E76BF3"/>
<circle cx="1438.0" cy="1647.9" r="3.6" fill="#E76BF3"/>
<circle cx="1454.7" cy="1631.1" r="3.6" fill="#E76BF3"/>
<circle cx="1471.5" cy="1631.1" r="3.6" fill="#E76BF3"/>
<circle cx="1488.2" cy="1656.3" r="3.6" fill="#E76BF3"/>
<circle cx="1504.9" cy="1685.1" r="3.6" fill="#E76BF3"/>
<circle cx="1521.7" cy="1687.5" r="3.6" fill="#E76BF3"/>
<circle cx="1538.4" cy="1716.2" r="3.6" fill="#E76BF3"/>
<circle cx="1555.1" cy="1739.0" r="3.6" fill="#E76BF3"/>
<circle cx="1571.9" cy="1782.2" r="3.6" fill="#E76BF3"/>
<circle cx="1588.6" cy="1794.2" r="3.6" fill="#E76BF3"/>
<circle cx="1605.3" cy="1811.0" r="3.6" fill="#E76BF3"/>
<circle cx="1622.0" cy="1823.0" r="3.6" fill="#E76BF3"/>
<circle cx="1638.8" cy="1823.0" r="3.6" fill="#E76BF3"/>
<circle cx="1655.5" cy="1821.8" r="3.6" fill="#E76BF3"/>
<circle cx="1672.2" cy="1842.1" r="3.6" fill="#E76BF3"/>
<circle cx="1689.0" cy="1851.7" r="3.6" fill="#E76BF3"/>
<circle cx="1705.7" cy="1854.1" r="3.6" fill="#E76BF3"/>
<circle cx="1722.4" cy="1864.9" r="3.6" fill="#E76BF3"/>
<circle cx="1739.2" cy="1874.5" r="3.6" fill="#E76BF3"/>
<circle cx="1755.9" cy="1874.5" r="3.6" fill="#E76BF3"/>
<circle cx="1772.6" cy="1874.5" r="3.6" fill="#E76BF3"/>
<circle cx="1789.4" cy="1874.5" r="3.6" fill="#E76BF3"/>
<circle cx="1806.1" cy="1875.7" r="3.6" fill="#E76BF3"/>
<path d="M1386 1560.9 V1898.3 H1825.6" fill="none" stroke="#000" stroke-width="2"/>
<line x1="1380.5" y1="1890.1" x2="1386.0" y2="1890.1" stroke="#333" stroke-width="1.6"/>
<text x="1371.0" y="1890.1" font-size="24" text-anchor="middle" fill="#4d4d4d" transform="rotate(-90 1371.0 1890.1)">0</text>
<line x1="1380.5" y1="1770.2" x2="1386.0" y2="1770.2" stroke="#333" stroke-width="1.6"/>
<text x="1371.0" y="1770.2" font-size="24" text-anchor="middle" fill="#4d4d4d" transform="rotate(-90 1371.0 1770.2)">10</text>
<line x1="1380.5" y1="1650.3" x2="1386.0" y2="1650.3" stroke="#333" stroke-width="1.6"/>
<text x="1371.0" y="1650.3" font-size="24" text-anchor="middle" fill="#4d4d4d" transform="rotate(-90 1371.0 1650.3)">20</text>
<line x1="1387.8" y1="1898.3" x2="1387.8" y2="1903.8" stroke="#333" stroke-width="1.6"/>
<text x="1387.8" y="1930.0" font-size="24" text-anchor="middle" fill="#4d4d4d">0</text>
<line x1="1471.5" y1="1898.3" x2="1471.5" y2="1903.8" stroke="#333" stroke-width="1.6"/>
<text x="1471.5" y="1930.0" font-size="24" text-anchor="middle" fill="#4d4d4d">100</text>
<line x1="1555.1" y1="1898.3" x2="1555.1" y2="1903.8" stroke="#333" stroke-width="1.6"/>
<text x="1555.1" y="1930.0" font-size="24" text-anchor="middle" fill="#4d4d4d">200</text>
<line x1="1638.8" y1="1898.3" x2="1638.8" y2="1903.8" stroke="#333" stroke-width="1.6"/>
<text x="1638.8" y="1930.0" font-size="24" text-anchor="middle" fill="#4d4d4d">300</text>
<line x1="1722.4" y1="1898.3" x2="1722.4" y2="1903.8" stroke="#333" stroke-width="1.6"/>
<text x="1722.4" y="1930.0" font-size="24" text-anchor="middle" fill="#4d4d4d">400</text>
<line x1="1806.1" y1="1898.3" x2="1806.1" y2="1903.8" stroke="#333" stroke-width="1.6"/>
<text x="1806.1" y="1930.0" font-size="24" text-anchor="middle" fill="#4d4d4d">500</text>
<text x="1331.0" y="1758.4" font-size="29.7" text-anchor="middle" transform="rotate(-90 1331.0 1758.4)">Number of intersections</text>
<text x="1435.3" y="1969.4" font-size="29.7">Distance from soma (μm)</text>
<text x="1463.5" y="1566.0" font-size="38" text-anchor="middle">*</text>
<text x="1489.8" y="1550.4" font-size="25.4">P=0.01673</text>
<line x1="1650.9" y1="1549.3" x2="1685.3" y2="1549.3" stroke="#F8766D" stroke-width="2.2"/>
<circle cx="1668.0" cy="1549.3" r="4.2" fill="#F8766D"/>
<text x="1702.5" y="1557.8" font-size="24">Bipolar</text>
<line x1="1650.9" y1="1593.4" x2="1685.3" y2="1593.4" stroke="#A3A500" stroke-width="2.2"/>
<circle cx="1668.0" cy="1593.4" r="4.2" fill="#A3A500"/>
<text x="1702.5" y="1601.9" font-size="24">Horizontal</text>
<line x1="1650.9" y1="1637.2" x2="1685.3" y2="1637.2" stroke="#00BF7D" stroke-width="2.2"/>
<circle cx="1668.0" cy="1637.2" r="4.2" fill="#00BF7D"/>
<text x="1702.5" y="1645.7" font-size="24">Inverted</text>
<line x1="1650.9" y1="1680.6" x2="1685.3" y2="1680.6" stroke="#00B0F6" stroke-width="2.2"/>
<circle cx="1668.0" cy="1680.6" r="4.2" fill="#00B0F6"/>
<text x="1702.5" y="1689.1" font-size="24">Multipolar</text>
<line x1="1650.9" y1="1724.4" x2="1685.3" y2="1724.4" stroke="#E76BF3" stroke-width="2.2"/>
<circle cx="1668.0" cy="1724.4" r="4.2" fill="#E76BF3"/>
<text x="1702.5" y="1732.9" font-size="24">Tangential</text>
<text x="1.2" y="2091.2" font-size="50" font-weight="bold">f</text>
<text x="90.0" y="2091.1" font-size="37">Morphological difference among L6 atypical neuron subtypes</text>
<text x="100.5" y="2150.4" font-size="24.9">Dendritic length (mm)</text>
<text x="461.0" y="2150.4" font-size="24.9" text-anchor="middle">Maximal Euclidean</text>
<text x="461.5" y="2178.4" font-size="24.9" text-anchor="middle">distance (μm)</text>
<text x="714.5" y="2150.4" font-size="24.9" text-anchor="middle">Maximal path</text>
<text x="715.5" y="2178.4" font-size="24.9" text-anchor="middle">distance (μm)</text>
<text x="837.0" y="2150.4" font-size="24.9">Number of neurites</text>
<text x="203.3" y="2220.8" font-size="24.9" text-anchor="middle">P=0.0081</text>
<text x="454.3" y="2220.8" font-size="24.9" text-anchor="middle">P=0.0024</text>
<text x="706.2" y="2220.8" font-size="24.9" text-anchor="middle">P=0.001</text>
<text x="957.3" y="2220.8" font-size="24.9" text-anchor="middle">P=0.00018</text>
<line x1="110.5" y1="2332.7" x2="117.5" y2="2332.7" stroke="#333" stroke-width="1.6"/>
<text x="104.0" y="2340.9" font-size="23.5" text-anchor="end" fill="#4d4d4d">10000</text>
<line x1="110.5" y1="2462.9" x2="117.5" y2="2462.9" stroke="#333" stroke-width="1.6"/>
<text x="104.0" y="2471.1" font-size="23.5" text-anchor="end" fill="#4d4d4d">5000</text>
<line x1="137.1" y1="2308.9" x2="137.1" y2="2388.9" stroke="#333" stroke-width="1.9"/>
<line x1="137.1" y1="2450.8" x2="137.1" y2="2477.8" stroke="#333" stroke-width="1.9"/>
<rect x="124.1" y="2388.9" width="26.0" height="61.9" fill="#F8766D" stroke="#333" stroke-width="1.9"/>
<line x1="124.1" y1="2416.2" x2="150.1" y2="2416.2" stroke="#333" stroke-width="4.2"/>
<line x1="171.4" y1="2394.0" x2="171.4" y2="2420.0" stroke="#333" stroke-width="1.9"/>
<line x1="171.4" y1="2464.4" x2="171.4" y2="2489.2" stroke="#333" stroke-width="1.9"/>
<rect x="158.4" y="2420.0" width="26.0" height="44.4" fill="#A3A500" stroke="#333" stroke-width="1.9"/>
<line x1="158.4" y1="2440.6" x2="184.4" y2="2440.6" stroke="#333" stroke-width="4.2"/>
<line x1="204.8" y1="2324.8" x2="204.8" y2="2395.2" stroke="#333" stroke-width="1.9"/>
<line x1="204.8" y1="2449.2" x2="204.8" y2="2508.9" stroke="#333" stroke-width="1.9"/>
<rect x="191.8" y="2395.2" width="26.0" height="54.0" fill="#00BF7D" stroke="#333" stroke-width="1.9"/>
<line x1="191.8" y1="2427.9" x2="217.8" y2="2427.9" stroke="#333" stroke-width="4.2"/>
<line x1="239.0" y1="2360.3" x2="239.0" y2="2420.0" stroke="#333" stroke-width="1.9"/>
<line x1="239.0" y1="2482.9" x2="239.0" y2="2529.5" stroke="#333" stroke-width="1.9"/>
<rect x="226.0" y="2420.0" width="26.0" height="62.9" fill="#00B0F6" stroke="#333" stroke-width="1.9"/>
<line x1="226.0" y1="2446.3" x2="252.0" y2="2446.3" stroke="#333" stroke-width="4.2"/>
<line x1="273.0" y1="2393.0" x2="273.0" y2="2408.3" stroke="#333" stroke-width="1.9"/>
<rect x="260.0" y="2408.3" width="26.0" height="65.0" fill="#E76BF3" stroke="#333" stroke-width="1.9"/>
<line x1="260.0" y1="2419.4" x2="286.0" y2="2419.4" stroke="#333" stroke-width="4.2"/>
<circle cx="142.2" cy="2423.5" r="2.8" fill="#000"/>
<circle cx="138.1" cy="2420.3" r="2.8" fill="#000"/>
<circle cx="138.7" cy="2420.6" r="2.8" fill="#000"/>
<circle cx="134.7" cy="2453.3" r="2.8" fill="#000"/>
<circle cx="139.4" cy="2439.0" r="2.8" fill="#000"/>
<circle cx="142.7" cy="2449.7" r="2.8" fill="#000"/>
<circle cx="133.0" cy="2358.1" r="2.8" fill="#000"/>
<circle cx="131.8" cy="2421.6" r="2.8" fill="#000"/>
<circle cx="131.5" cy="2403.9" r="2.8" fill="#000"/>
<circle cx="141.2" cy="2416.2" r="2.8" fill="#000"/>
<circle cx="137.1" cy="2428.5" r="2.8" fill="#000"/>
<circle cx="134.4" cy="2345.5" r="2.8" fill="#000"/>
<circle cx="141.2" cy="2477.7" r="2.8" fill="#000"/>
<circle cx="133.9" cy="2334.1" r="2.8" fill="#000"/>
<circle cx="140.3" cy="2393.2" r="2.8" fill="#000"/>
<circle cx="135.7" cy="2441.3" r="2.8" fill="#000"/>
<circle cx="131.1" cy="2473.7" r="2.8" fill="#000"/>
<circle cx="136.7" cy="2445.2" r="2.8" fill="#000"/>
<circle cx="132.0" cy="2461.5" r="2.8" fill="#000"/>
<circle cx="134.3" cy="2371.2" r="2.8" fill="#000"/>
<circle cx="142.7" cy="2409.5" r="2.8" fill="#000"/>
<circle cx="134.1" cy="2318.3" r="2.8" fill="#000"/>
<circle cx="140.7" cy="2392.6" r="2.8" fill="#000"/>
<circle cx="136.5" cy="2423.5" r="2.8" fill="#000"/>
<circle cx="132.7" cy="2434.2" r="2.8" fill="#000"/>
<circle cx="136.1" cy="2318.2" r="2.8" fill="#000"/>
<circle cx="135.4" cy="2308.9" r="2.8" fill="#000"/>
<circle cx="135.7" cy="2477.8" r="2.8" fill="#000"/>
<circle cx="169.0" cy="2484.3" r="2.8" fill="#000"/>
<circle cx="170.1" cy="2469.6" r="2.8" fill="#000"/>
<circle cx="166.6" cy="2480.3" r="2.8" fill="#000"/>
<circle cx="168.5" cy="2469.7" r="2.8" fill="#000"/>
<circle cx="169.0" cy="2402.6" r="2.8" fill="#000"/>
<circle cx="172.4" cy="2424.0" r="2.8" fill="#000"/>
<circle cx="169.9" cy="2446.7" r="2.8" fill="#000"/>
<circle cx="171.2" cy="2462.6" r="2.8" fill="#000"/>
<circle cx="167.6" cy="2416.5" r="2.8" fill="#000"/>
<circle cx="175.2" cy="2460.3" r="2.8" fill="#000"/>
<circle cx="174.3" cy="2428.4" r="2.8" fill="#000"/>
<circle cx="176.8" cy="2469.3" r="2.8" fill="#000"/>
<circle cx="170.5" cy="2479.4" r="2.8" fill="#000"/>
<circle cx="177.0" cy="2421.7" r="2.8" fill="#000"/>
<circle cx="169.8" cy="2394.0" r="2.8" fill="#000"/>
<circle cx="172.6" cy="2489.2" r="2.8" fill="#000"/>
<circle cx="206.0" cy="2439.7" r="2.8" fill="#000"/>
<circle cx="207.4" cy="2404.7" r="2.8" fill="#000"/>
<circle cx="205.5" cy="2407.5" r="2.8" fill="#000"/>
<circle cx="202.2" cy="2485.9" r="2.8" fill="#000"/>
<circle cx="199.0" cy="2461.4" r="2.8" fill="#000"/>
<circle cx="199.5" cy="2419.3" r="2.8" fill="#000"/>
<circle cx="205.7" cy="2415.1" r="2.8" fill="#000"/>
<circle cx="209.5" cy="2414.8" r="2.8" fill="#000"/>
<circle cx="207.1" cy="2488.4" r="2.8" fill="#000"/>
<circle cx="199.2" cy="2334.7" r="2.8" fill="#000"/>
<circle cx="207.2" cy="2444.4" r="2.8" fill="#000"/>
<circle cx="206.4" cy="2450.5" r="2.8" fill="#000"/>
<circle cx="202.6" cy="2434.6" r="2.8" fill="#000"/>
<circle cx="205.4" cy="2453.7" r="2.8" fill="#000"/>
<circle cx="207.6" cy="2388.2" r="2.8" fill="#000"/>
<circle cx="209.8" cy="2380.6" r="2.8" fill="#000"/>
<circle cx="209.6" cy="2432.2" r="2.8" fill="#000"/>
<circle cx="208.3" cy="2474.1" r="2.8" fill="#000"/>
<circle cx="206.3" cy="2483.4" r="2.8" fill="#000"/>
<circle cx="206.1" cy="2426.7" r="2.8" fill="#000"/>
<circle cx="210.7" cy="2429.7" r="2.8" fill="#000"/>
<circle cx="203.5" cy="2492.7" r="2.8" fill="#000"/>
<circle cx="204.1" cy="2365.7" r="2.8" fill="#000"/>
<circle cx="207.8" cy="2454.2" r="2.8" fill="#000"/>
<circle cx="204.6" cy="2427.7" r="2.8" fill="#000"/>
<circle cx="204.8" cy="2432.9" r="2.8" fill="#000"/>
<circle cx="201.9" cy="2389.6" r="2.8" fill="#000"/>
<circle cx="206.9" cy="2411.5" r="2.8" fill="#000"/>
<circle cx="209.7" cy="2404.4" r="2.8" fill="#000"/>
<circle cx="209.5" cy="2355.9" r="2.8" fill="#000"/>
<circle cx="201.2" cy="2431.2" r="2.8" fill="#000"/>
<circle cx="209.8" cy="2438.7" r="2.8" fill="#000"/>
<circle cx="205.8" cy="2472.1" r="2.8" fill="#000"/>
<circle cx="204.8" cy="2402.6" r="2.8" fill="#000"/>
<circle cx="207.3" cy="2499.9" r="2.8" fill="#000"/>
<circle cx="200.8" cy="2465.7" r="2.8" fill="#000"/>
<circle cx="201.4" cy="2410.1" r="2.8" fill="#000"/>
<circle cx="204.7" cy="2429.0" r="2.8" fill="#000"/>
<circle cx="210.6" cy="2440.5" r="2.8" fill="#000"/>
<circle cx="199.2" cy="2399.2" r="2.8" fill="#000"/>
<circle cx="207.3" cy="2451.7" r="2.8" fill="#000"/>
<circle cx="208.3" cy="2346.6" r="2.8" fill="#000"/>
<circle cx="204.3" cy="2402.5" r="2.8" fill="#000"/>
<circle cx="201.6" cy="2440.0" r="2.8" fill="#000"/>
<circle cx="206.4" cy="2397.7" r="2.8" fill="#000"/>
<circle cx="206.7" cy="2429.2" r="2.8" fill="#000"/>
<circle cx="207.0" cy="2506.4" r="2.8" fill="#000"/>
<circle cx="200.9" cy="2420.9" r="2.8" fill="#000"/>
<circle cx="207.4" cy="2420.7" r="2.8" fill="#000"/>
<circle cx="202.9" cy="2409.9" r="2.8" fill="#000"/>
<circle cx="206.0" cy="2324.8" r="2.8" fill="#000"/>
<circle cx="204.9" cy="2508.9" r="2.8" fill="#000"/>
<circle cx="237.7" cy="2405.4" r="2.8" fill="#000"/>
<circle cx="234.0" cy="2525.1" r="2.8" fill="#000"/>
<circle cx="234.6" cy="2516.6" r="2.8" fill="#000"/>
<circle cx="243.9" cy="2459.3" r="2.8" fill="#000"/>
<circle cx="243.6" cy="2455.8" r="2.8" fill="#000"/>
<circle cx="238.6" cy="2526.9" r="2.8" fill="#000"/>
<circle cx="241.7" cy="2372.5" r="2.8" fill="#000"/>
<circle cx="241.6" cy="2512.8" r="2.8" fill="#000"/>
<circle cx="244.8" cy="2476.6" r="2.8" fill="#000"/>
<circle cx="242.5" cy="2507.9" r="2.8" fill="#000"/>
<circle cx="243.3" cy="2477.2" r="2.8" fill="#000"/>
<circle cx="238.3" cy="2425.2" r="2.8" fill="#000"/>
<circle cx="238.8" cy="2406.2" r="2.8" fill="#000"/>
<circle cx="233.8" cy="2470.9" r="2.8" fill="#000"/>
<circle cx="237.0" cy="2491.0" r="2.8" fill="#000"/>
<circle cx="234.8" cy="2489.4" r="2.8" fill="#000"/>
<circle cx="243.1" cy="2465.5" r="2.8" fill="#000"/>
<circle cx="238.9" cy="2416.8" r="2.8" fill="#000"/>
<circle cx="235.7" cy="2486.9" r="2.8" fill="#000"/>
<circle cx="241.7" cy="2438.3" r="2.8" fill="#000"/>
<circle cx="243.1" cy="2391.5" r="2.8" fill="#000"/>
<circle cx="237.6" cy="2378.9" r="2.8" fill="#000"/>
<circle cx="235.5" cy="2524.9" r="2.8" fill="#000"/>
<circle cx="239.3" cy="2528.0" r="2.8" fill="#000"/>
<circle cx="239.4" cy="2372.3" r="2.8" fill="#000"/>
<circle cx="233.3" cy="2458.1" r="2.8" fill="#000"/>
<circle cx="237.8" cy="2506.9" r="2.8" fill="#000"/>
<circle cx="238.9" cy="2509.1" r="2.8" fill="#000"/>
<circle cx="239.5" cy="2364.2" r="2.8" fill="#000"/>
<circle cx="244.1" cy="2480.2" r="2.8" fill="#000"/>
<circle cx="234.5" cy="2449.8" r="2.8" fill="#000"/>
<circle cx="243.8" cy="2471.3" r="2.8" fill="#000"/>
<circle cx="235.3" cy="2440.0" r="2.8" fill="#000"/>
<circle cx="234.6" cy="2415.5" r="2.8" fill="#000"/>
<circle cx="235.3" cy="2361.7" r="2.8" fill="#000"/>
<circle cx="236.9" cy="2463.2" r="2.8" fill="#000"/>
<circle cx="234.3" cy="2459.0" r="2.8" fill="#000"/>
<circle cx="239.1" cy="2367.6" r="2.8" fill="#000"/>
<circle cx="239.4" cy="2432.4" r="2.8" fill="#000"/>
<circle cx="238.0" cy="2443.6" r="2.8" fill="#000"/>
<circle cx="239.2" cy="2360.3" r="2.8" fill="#000"/>
<circle cx="237.0" cy="2529.5" r="2.8" fill="#000"/>
<circle cx="236.6" cy="2247.9" r="2.8" fill="#000"/>
<circle cx="273.4" cy="2402.8" r="2.8" fill="#000"/>
<circle cx="277.3" cy="2473.3" r="2.8" fill="#000"/>
<circle cx="276.7" cy="2456.5" r="2.8" fill="#000"/>
<circle cx="275.4" cy="2393.0" r="2.8" fill="#000"/>
<path d="M117.5 2234.3 V2543.8 H292.7" fill="none" stroke="#000" stroke-width="2"/>
<line x1="137.1" y1="2543.8" x2="137.1" y2="2552.0" stroke="#333" stroke-width="1.6"/>
<line x1="171.4" y1="2543.8" x2="171.4" y2="2552.0" stroke="#333" stroke-width="1.6"/>
<line x1="204.8" y1="2543.8" x2="204.8" y2="2552.0" stroke="#333" stroke-width="1.6"/>
<line x1="239.0" y1="2543.8" x2="239.0" y2="2552.0" stroke="#333" stroke-width="1.6"/>
<line x1="273.0" y1="2543.8" x2="273.0" y2="2552.0" stroke="#333" stroke-width="1.6"/>
<line x1="354.0" y1="2308.3" x2="361.0" y2="2308.3" stroke="#333" stroke-width="1.6"/>
<text x="347.5" y="2316.5" font-size="23.5" text-anchor="end" fill="#4d4d4d">750</text>
<line x1="354.0" y1="2403.2" x2="361.0" y2="2403.2" stroke="#333" stroke-width="1.6"/>
<text x="347.5" y="2411.4" font-size="23.5" text-anchor="end" fill="#4d4d4d">500</text>
<line x1="354.0" y1="2497.8" x2="361.0" y2="2497.8" stroke="#333" stroke-width="1.6"/>
<text x="347.5" y="2506.0" font-size="23.5" text-anchor="end" fill="#4d4d4d">250</text>
<line x1="381.0" y1="2312.7" x2="381.0" y2="2365.4" stroke="#333" stroke-width="1.9"/>
<line x1="381.0" y1="2431.1" x2="381.0" y2="2461.3" stroke="#333" stroke-width="1.9"/>
<rect x="368.0" y="2365.4" width="26.0" height="65.7" fill="#F8766D" stroke="#333" stroke-width="1.9"/>
<line x1="368.0" y1="2413.0" x2="394.0" y2="2413.0" stroke="#333" stroke-width="4.2"/>
<line x1="414.3" y1="2247.9" x2="414.3" y2="2346.3" stroke="#333" stroke-width="1.9"/>
<line x1="414.3" y1="2430.2" x2="414.3" y2="2501.9" stroke="#333" stroke-width="1.9"/>
<rect x="401.3" y="2346.3" width="26.0" height="83.9" fill="#A3A500" stroke="#333" stroke-width="1.9"/>
<line x1="401.3" y1="2379.4" x2="427.3" y2="2379.4" stroke="#333" stroke-width="4.2"/>
<line x1="448.6" y1="2278.7" x2="448.6" y2="2356.5" stroke="#333" stroke-width="1.9"/>
<line x1="448.6" y1="2421.0" x2="448.6" y2="2462.9" stroke="#333" stroke-width="1.9"/>
<rect x="435.6" y="2356.5" width="26.0" height="64.5" fill="#00BF7D" stroke="#333" stroke-width="1.9"/>
<line x1="435.6" y1="2392.4" x2="461.6" y2="2392.4" stroke="#333" stroke-width="4.2"/>
<line x1="482.5" y1="2305.1" x2="482.5" y2="2397.1" stroke="#333" stroke-width="1.9"/>
<line x1="482.5" y1="2493.0" x2="482.5" y2="2529.5" stroke="#333" stroke-width="1.9"/>
<rect x="469.5" y="2397.1" width="26.0" height="95.9" fill="#00B0F6" stroke="#333" stroke-width="1.9"/>
<line x1="469.5" y1="2424.8" x2="495.5" y2="2424.8" stroke="#333" stroke-width="4.2"/>
<line x1="516.5" y1="2327.0" x2="516.5" y2="2389.8" stroke="#333" stroke-width="1.9"/>
<rect x="503.5" y="2389.8" width="26.0" height="56.2" fill="#E76BF3" stroke="#333" stroke-width="1.9"/>
<line x1="503.5" y1="2439.7" x2="529.5" y2="2439.7" stroke="#333" stroke-width="4.2"/>
<circle cx="383.0" cy="2408.6" r="2.8" fill="#000"/>
<circle cx="379.5" cy="2366.1" r="2.8" fill="#000"/>
<circle cx="383.3" cy="2418.6" r="2.8" fill="#000"/>
<circle cx="382.9" cy="2342.1" r="2.8" fill="#000"/>
<circle cx="376.9" cy="2394.3" r="2.8" fill="#000"/>
<circle cx="384.8" cy="2432.9" r="2.8" fill="#000"/>
<circle cx="379.0" cy="2410.5" r="2.8" fill="#000"/>
<circle cx="375.2" cy="2420.7" r="2.8" fill="#000"/>
<circle cx="381.1" cy="2425.5" r="2.8" fill="#000"/>
<circle cx="386.4" cy="2430.3" r="2.8" fill="#000"/>
<circle cx="376.6" cy="2393.2" r="2.8" fill="#000"/>
<circle cx="377.0" cy="2406.2" r="2.8" fill="#000"/>
<circle cx="377.1" cy="2315.4" r="2.8" fill="#000"/>
<circle cx="380.0" cy="2443.2" r="2.8" fill="#000"/>
<circle cx="379.6" cy="2337.8" r="2.8" fill="#000"/>
<circle cx="386.6" cy="2413.1" r="2.8" fill="#000"/>
<circle cx="379.3" cy="2451.1" r="2.8" fill="#000"/>
<circle cx="383.1" cy="2410.7" r="2.8" fill="#000"/>
<circle cx="379.4" cy="2380.8" r="2.8" fill="#000"/>
<circle cx="381.0" cy="2418.6" r="2.8" fill="#000"/>
<circle cx="380.2" cy="2419.4" r="2.8" fill="#000"/>
<circle cx="380.1" cy="2380.0" r="2.8" fill="#000"/>
<circle cx="376.2" cy="2416.1" r="2.8" fill="#000"/>
<circle cx="383.4" cy="2377.1" r="2.8" fill="#000"/>
<circle cx="379.1" cy="2383.6" r="2.8" fill="#000"/>
<circle cx="380.5" cy="2315.4" r="2.8" fill="#000"/>
<circle cx="379.3" cy="2312.7" r="2.8" fill="#000"/>
<circle cx="379.7" cy="2461.3" r="2.8" fill="#000"/>
<circle cx="414.1" cy="2426.7" r="2.8" fill="#000"/>
<circle cx="419.4" cy="2442.2" r="2.8" fill="#000"/>
<circle cx="417.3" cy="2362.2" r="2.8" fill="#000"/>
<circle cx="411.5" cy="2430.7" r="2.8" fill="#000"/>
<circle cx="411.2" cy="2281.5" r="2.8" fill="#000"/>
<circle cx="415.7" cy="2349.7" r="2.8" fill="#000"/>
<circle cx="414.3" cy="2501.8" r="2.8" fill="#000"/>
<circle cx="417.7" cy="2373.4" r="2.8" fill="#000"/>
<circle cx="411.1" cy="2476.0" r="2.8" fill="#000"/>
<circle cx="415.8" cy="2386.4" r="2.8" fill="#000"/>
<circle cx="419.0" cy="2425.7" r="2.8" fill="#000"/>
<circle cx="418.8" cy="2370.7" r="2.8" fill="#000"/>
<circle cx="414.5" cy="2425.5" r="2.8" fill="#000"/>
<circle cx="410.9" cy="2317.2" r="2.8" fill="#000"/>
<circle cx="413.0" cy="2247.9" r="2.8" fill="#000"/>
<circle cx="412.8" cy="2501.9" r="2.8" fill="#000"/>
<circle cx="444.2" cy="2332.7" r="2.8" fill="#000"/>
<circle cx="445.5" cy="2438.6" r="2.8" fill="#000"/>
<circle cx="449.3" cy="2419.7" r="2.8" fill="#000"/>
<circle cx="454.1" cy="2350.3" r="2.8" fill="#000"/>
<circle cx="449.7" cy="2311.2" r="2.8" fill="#000"/>
<circle cx="449.6" cy="2454.1" r="2.8" fill="#000"/>
<circle cx="451.4" cy="2380.3" r="2.8" fill="#000"/>
<circle cx="451.1" cy="2280.0" r="2.8" fill="#000"/>
<circle cx="453.4" cy="2454.4" r="2.8" fill="#000"/>
<circle cx="452.1" cy="2443.4" r="2.8" fill="#000"/>
<circle cx="446.8" cy="2362.8" r="2.8" fill="#000"/>
<circle cx="450.9" cy="2416.7" r="2.8" fill="#000"/>
<circle cx="444.1" cy="2396.6" r="2.8" fill="#000"/>
<circle cx="447.3" cy="2401.7" r="2.8" fill="#000"/>
<circle cx="446.5" cy="2382.7" r="2.8" fill="#000"/>
<circle cx="443.7" cy="2289.7" r="2.8" fill="#000"/>
<circle cx="451.7" cy="2401.4" r="2.8" fill="#000"/>
<circle cx="447.0" cy="2351.4" r="2.8" fill="#000"/>
<circle cx="447.9" cy="2388.0" r="2.8" fill="#000"/>
<circle cx="446.7" cy="2399.5" r="2.8" fill="#000"/>
<circle cx="453.9" cy="2377.6" r="2.8" fill="#000"/>
<circle cx="446.0" cy="2379.7" r="2.8" fill="#000"/>
<circle cx="445.2" cy="2384.4" r="2.8" fill="#000"/>
<circle cx="451.0" cy="2442.0" r="2.8" fill="#000"/>
<circle cx="449.9" cy="2386.5" r="2.8" fill="#000"/>
<circle cx="448.1" cy="2431.5" r="2.8" fill="#000"/>
<circle cx="445.3" cy="2455.8" r="2.8" fill="#000"/>
<circle cx="447.3" cy="2405.6" r="2.8" fill="#000"/>
<circle cx="454.3" cy="2330.3" r="2.8" fill="#000"/>
<circle cx="446.8" cy="2331.7" r="2.8" fill="#000"/>
<circle cx="448.6" cy="2303.8" r="2.8" fill="#000"/>
<circle cx="444.2" cy="2376.3" r="2.8" fill="#000"/>
<circle cx="445.6" cy="2391.6" r="2.8" fill="#000"/>
<circle cx="446.0" cy="2408.3" r="2.8" fill="#000"/>
<circle cx="447.3" cy="2446.1" r="2.8" fill="#000"/>
<circle cx="446.5" cy="2458.6" r="2.8" fill="#000"/>
<circle cx="452.7" cy="2397.8" r="2.8" fill="#000"/>
<circle cx="447.5" cy="2339.7" r="2.8" fill="#000"/>
<circle cx="447.5" cy="2299.2" r="2.8" fill="#000"/>
<circle cx="447.4" cy="2381.3" r="2.8" fill="#000"/>
<circle cx="445.1" cy="2428.1" r="2.8" fill="#000"/>
<circle cx="448.9" cy="2419.1" r="2.8" fill="#000"/>
<circle cx="453.1" cy="2410.4" r="2.8" fill="#000"/>
<circle cx="451.4" cy="2436.0" r="2.8" fill="#000"/>
<circle cx="453.0" cy="2365.4" r="2.8" fill="#000"/>
<circle cx="453.2" cy="2429.8" r="2.8" fill="#000"/>
<circle cx="442.8" cy="2376.4" r="2.8" fill="#000"/>
<circle cx="451.2" cy="2367.0" r="2.8" fill="#000"/>
<circle cx="444.8" cy="2368.8" r="2.8" fill="#000"/>
<circle cx="449.9" cy="2412.1" r="2.8" fill="#000"/>
<circle cx="446.2" cy="2278.7" r="2.8" fill="#000"/>
<circle cx="449.7" cy="2462.9" r="2.8" fill="#000"/>
<circle cx="482.8" cy="2440.1" r="2.8" fill="#000"/>
<circle cx="482.6" cy="2378.8" r="2.8" fill="#000"/>
<circle cx="484.1" cy="2348.1" r="2.8" fill="#000"/>
<circle cx="482.7" cy="2436.9" r="2.8" fill="#000"/>
<circle cx="487.6" cy="2330.7" r="2.8" fill="#000"/>
<circle cx="484.8" cy="2479.1" r="2.8" fill="#000"/>
<circle cx="481.6" cy="2517.9" r="2.8" fill="#000"/>
<circle cx="485.5" cy="2455.4" r="2.8" fill="#000"/>
<circle cx="477.2" cy="2497.7" r="2.8" fill="#000"/>
<circle cx="477.2" cy="2405.2" r="2.8" fill="#000"/>
<circle cx="477.9" cy="2421.0" r="2.8" fill="#000"/>
<circle cx="488.1" cy="2361.8" r="2.8" fill="#000"/>
<circle cx="487.9" cy="2520.3" r="2.8" fill="#000"/>
<circle cx="487.6" cy="2419.0" r="2.8" fill="#000"/>
<circle cx="485.6" cy="2416.9" r="2.8" fill="#000"/>
<circle cx="480.3" cy="2449.2" r="2.8" fill="#000"/>
<circle cx="483.8" cy="2405.5" r="2.8" fill="#000"/>
<circle cx="485.7" cy="2529.0" r="2.8" fill="#000"/>
<circle cx="480.1" cy="2506.2" r="2.8" fill="#000"/>
<circle cx="484.5" cy="2514.9" r="2.8" fill="#000"/>
<circle cx="482.3" cy="2419.0" r="2.8" fill="#000"/>
<circle cx="485.6" cy="2381.1" r="2.8" fill="#000"/>
<circle cx="486.8" cy="2433.7" r="2.8" fill="#000"/>
<circle cx="478.8" cy="2510.7" r="2.8" fill="#000"/>
<circle cx="480.8" cy="2354.4" r="2.8" fill="#000"/>
<circle cx="483.8" cy="2434.1" r="2.8" fill="#000"/>
<circle cx="487.9" cy="2449.0" r="2.8" fill="#000"/>
<circle cx="481.5" cy="2328.3" r="2.8" fill="#000"/>
<circle cx="484.1" cy="2467.8" r="2.8" fill="#000"/>
<circle cx="483.7" cy="2449.7" r="2.8" fill="#000"/>
<circle cx="480.2" cy="2339.9" r="2.8" fill="#000"/>
<circle cx="480.5" cy="2492.8" r="2.8" fill="#000"/>
<circle cx="478.6" cy="2441.2" r="2.8" fill="#000"/>
<circle cx="480.4" cy="2416.8" r="2.8" fill="#000"/>
<circle cx="487.8" cy="2430.7" r="2.8" fill="#000"/>
<circle cx="484.4" cy="2429.0" r="2.8" fill="#000"/>
<circle cx="484.3" cy="2446.6" r="2.8" fill="#000"/>
<circle cx="477.7" cy="2461.5" r="2.8" fill="#000"/>
<circle cx="488.4" cy="2474.8" r="2.8" fill="#000"/>
<circle cx="481.8" cy="2320.9" r="2.8" fill="#000"/>
<circle cx="481.2" cy="2305.1" r="2.8" fill="#000"/>
<circle cx="484.5" cy="2529.5" r="2.8" fill="#000"/>
<circle cx="518.2" cy="2400.8" r="2.8" fill="#000"/>
<circle cx="516.2" cy="2364.0" r="2.8" fill="#000"/>
<circle cx="521.7" cy="2446.0" r="2.8" fill="#000"/>
<circle cx="515.9" cy="2327.0" r="2.8" fill="#000"/>
<path d="M361.0 2234.3 V2543.8 H536.5" fill="none" stroke="#000" stroke-width="2"/>
<line x1="381.0" y1="2543.8" x2="381.0" y2="2552.0" stroke="#333" stroke-width="1.6"/>
<line x1="414.3" y1="2543.8" x2="414.3" y2="2552.0" stroke="#333" stroke-width="1.6"/>
<line x1="448.6" y1="2543.8" x2="448.6" y2="2552.0" stroke="#333" stroke-width="1.6"/>
<line x1="482.5" y1="2543.8" x2="482.5" y2="2552.0" stroke="#333" stroke-width="1.6"/>
<line x1="516.5" y1="2543.8" x2="516.5" y2="2552.0" stroke="#333" stroke-width="1.6"/>
<line x1="610.8" y1="2250.2" x2="617.8" y2="2250.2" stroke="#333" stroke-width="1.6"/>
<text x="604.3" y="2258.4" font-size="23.5" text-anchor="end" fill="#4d4d4d">1000</text>
<line x1="610.8" y1="2321.6" x2="617.8" y2="2321.6" stroke="#333" stroke-width="1.6"/>
<text x="604.3" y="2329.8" font-size="23.5" text-anchor="end" fill="#4d4d4d">800</text>
<line x1="610.8" y1="2393.0" x2="617.8" y2="2393.0" stroke="#333" stroke-width="1.6"/>
<text x="604.3" y="2401.2" font-size="23.5" text-anchor="end" fill="#4d4d4d">600</text>
<line x1="610.8" y1="2463.8" x2="617.8" y2="2463.8" stroke="#333" stroke-width="1.6"/>
<text x="604.3" y="2472.0" font-size="23.5" text-anchor="end" fill="#4d4d4d">400</text>
<line x1="610.8" y1="2534.9" x2="617.8" y2="2534.9" stroke="#333" stroke-width="1.6"/>
<text x="604.3" y="2543.1" font-size="23.5" text-anchor="end" fill="#4d4d4d">200</text>
<line x1="638.4" y1="2312.0" x2="638.4" y2="2360.3" stroke="#333" stroke-width="1.9"/>
<line x1="638.4" y1="2424.1" x2="638.4" y2="2467.6" stroke="#333" stroke-width="1.9"/>
<rect x="625.4" y="2360.3" width="26.0" height="63.8" fill="#F8766D" stroke="#333" stroke-width="1.9"/>
<line x1="625.4" y1="2398.7" x2="651.4" y2="2398.7" stroke="#333" stroke-width="4.2"/>
<line x1="671.7" y1="2247.0" x2="671.7" y2="2316.8" stroke="#333" stroke-width="1.9"/>
<line x1="671.7" y1="2405.1" x2="671.7" y2="2505.1" stroke="#333" stroke-width="1.9"/>
<rect x="658.7" y="2316.8" width="26.0" height="88.3" fill="#A3A500" stroke="#333" stroke-width="1.9"/>
<line x1="658.7" y1="2346.3" x2="684.7" y2="2346.3" stroke="#333" stroke-width="4.2"/>
<line x1="705.1" y1="2293.7" x2="705.1" y2="2351.7" stroke="#333" stroke-width="1.9"/>
<line x1="705.1" y1="2401.6" x2="705.1" y2="2445.4" stroke="#333" stroke-width="1.9"/>
<rect x="692.1" y="2351.7" width="26.0" height="49.9" fill="#00BF7D" stroke="#333" stroke-width="1.9"/>
<line x1="692.1" y1="2382.9" x2="718.1" y2="2382.9" stroke="#333" stroke-width="4.2"/>
<line x1="739.4" y1="2278.7" x2="739.4" y2="2385.7" stroke="#333" stroke-width="1.9"/>
<line x1="739.4" y1="2473.3" x2="739.4" y2="2529.5" stroke="#333" stroke-width="1.9"/>
<rect x="726.4" y="2385.7" width="26.0" height="87.6" fill="#00B0F6" stroke="#333" stroke-width="1.9"/>
<line x1="726.4" y1="2407.3" x2="752.4" y2="2407.3" stroke="#333" stroke-width="4.2"/>
<line x1="773.3" y1="2422.2" x2="773.3" y2="2447.0" stroke="#333" stroke-width="1.9"/>
<rect x="760.3" y="2387.6" width="26.0" height="34.6" fill="#E76BF3" stroke="#333" stroke-width="1.9"/>
<line x1="760.3" y1="2395.2" x2="786.3" y2="2395.2" stroke="#333" stroke-width="4.2"/>
<circle cx="640.6" cy="2404.0" r="2.8" fill="#000"/>
<circle cx="635.2" cy="2432.2" r="2.8" fill="#000"/>
<circle cx="641.2" cy="2374.7" r="2.8" fill="#000"/>
<circle cx="635.0" cy="2394.2" r="2.8" fill="#000"/>
<circle cx="642.5" cy="2387.8" r="2.8" fill="#000"/>
<circle cx="635.7" cy="2312.7" r="2.8" fill="#000"/>
<circle cx="642.1" cy="2415.9" r="2.8" fill="#000"/>
<circle cx="641.3" cy="2460.0" r="2.8" fill="#000"/>
<circle cx="635.5" cy="2458.6" r="2.8" fill="#000"/>
<circle cx="641.5" cy="2445.3" r="2.8" fill="#000"/>
<circle cx="636.8" cy="2332.7" r="2.8" fill="#000"/>
<circle cx="633.8" cy="2380.3" r="2.8" fill="#000"/>
<circle cx="644.2" cy="2458.8" r="2.8" fill="#000"/>
<circle cx="641.4" cy="2338.8" r="2.8" fill="#000"/>
<circle cx="637.7" cy="2403.5" r="2.8" fill="#000"/>
<circle cx="638.7" cy="2373.2" r="2.8" fill="#000"/>
<circle cx="639.7" cy="2389.6" r="2.8" fill="#000"/>
<circle cx="638.3" cy="2368.6" r="2.8" fill="#000"/>
<circle cx="634.7" cy="2375.3" r="2.8" fill="#000"/>
<circle cx="640.2" cy="2365.0" r="2.8" fill="#000"/>
<circle cx="641.0" cy="2441.1" r="2.8" fill="#000"/>
<circle cx="634.1" cy="2426.0" r="2.8" fill="#000"/>
<circle cx="640.1" cy="2460.6" r="2.8" fill="#000"/>
<circle cx="642.8" cy="2386.7" r="2.8" fill="#000"/>
<circle cx="634.8" cy="2459.0" r="2.8" fill="#000"/>
<circle cx="641.0" cy="2440.4" r="2.8" fill="#000"/>
<circle cx="636.2" cy="2312.0" r="2.8" fill="#000"/>
<circle cx="641.2" cy="2467.6" r="2.8" fill="#000"/>
<circle cx="668.2" cy="2297.4" r="2.8" fill="#000"/>
<circle cx="672.8" cy="2287.5" r="2.8" fill="#000"/>
<circle cx="669.8" cy="2381.1" r="2.8" fill="#000"/>
<circle cx="673.9" cy="2331.3" r="2.8" fill="#000"/>
<circle cx="666.5" cy="2336.7" r="2.8" fill="#000"/>
<circle cx="672.2" cy="2285.8" r="2.8" fill="#000"/>
<circle cx="669.8" cy="2355.6" r="2.8" fill="#000"/>
<circle cx="677.7" cy="2317.1" r="2.8" fill="#000"/>
<circle cx="668.9" cy="2343.4" r="2.8" fill="#000"/>
<circle cx="671.3" cy="2252.4" r="2.8" fill="#000"/>
<circle cx="665.8" cy="2390.5" r="2.8" fill="#000"/>
<circle cx="677.3" cy="2360.6" r="2.8" fill="#000"/>
<circle cx="673.7" cy="2358.7" r="2.8" fill="#000"/>
<circle cx="671.7" cy="2319.6" r="2.8" fill="#000"/>
<circle cx="674.2" cy="2247.0" r="2.8" fill="#000"/>
<circle cx="673.1" cy="2505.1" r="2.8" fill="#000"/>
<circle cx="709.3" cy="2385.8" r="2.8" fill="#000"/>
<circle cx="703.4" cy="2381.0" r="2.8" fill="#000"/>
<circle cx="701.5" cy="2366.0" r="2.8" fill="#000"/>
<circle cx="703.9" cy="2353.6" r="2.8" fill="#000"/>
<circle cx="706.3" cy="2389.5" r="2.8" fill="#000"/>
<circle cx="701.4" cy="2390.3" r="2.8" fill="#000"/>
<circle cx="703.1" cy="2379.4" r="2.8" fill="#000"/>
<circle cx="700.7" cy="2373.4" r="2.8" fill="#000"/>
<circle cx="709.0" cy="2406.5" r="2.8" fill="#000"/>
<circle cx="703.8" cy="2366.8" r="2.8" fill="#000"/>
<circle cx="703.4" cy="2358.1" r="2.8" fill="#000"/>
<circle cx="711.0" cy="2395.4" r="2.8" fill="#000"/>
<circle cx="700.7" cy="2378.4" r="2.8" fill="#000"/>
<circle cx="709.8" cy="2415.7" r="2.8" fill="#000"/>
<circle cx="699.2" cy="2358.0" r="2.8" fill="#000"/>
<circle cx="700.9" cy="2395.0" r="2.8" fill="#000"/>
<circle cx="703.2" cy="2370.2" r="2.8" fill="#000"/>
<circle cx="707.7" cy="2411.0" r="2.8" fill="#000"/>
<circle cx="705.3" cy="2348.0" r="2.8" fill="#000"/>
<circle cx="706.0" cy="2420.9" r="2.8" fill="#000"/>
<circle cx="709.9" cy="2342.4" r="2.8" fill="#000"/>
<circle cx="705.5" cy="2358.5" r="2.8" fill="#000"/>
<circle cx="702.7" cy="2425.0" r="2.8" fill="#000"/>
<circle cx="700.1" cy="2414.6" r="2.8" fill="#000"/>
<circle cx="707.8" cy="2353.2" r="2.8" fill="#000"/>
<circle cx="709.5" cy="2387.4" r="2.8" fill="#000"/>
<circle cx="704.2" cy="2437.0" r="2.8" fill="#000"/>
<circle cx="707.7" cy="2342.0" r="2.8" fill="#000"/>
<circle cx="700.4" cy="2389.7" r="2.8" fill="#000"/>
<circle cx="704.8" cy="2401.4" r="2.8" fill="#000"/>
<circle cx="704.5" cy="2390.9" r="2.8" fill="#000"/>
<circle cx="702.2" cy="2353.2" r="2.8" fill="#000"/>
<circle cx="702.1" cy="2398.5" r="2.8" fill="#000"/>
<circle cx="704.1" cy="2439.0" r="2.8" fill="#000"/>
<circle cx="704.9" cy="2435.0" r="2.8" fill="#000"/>
<circle cx="709.9" cy="2374.7" r="2.8" fill="#000"/>
<circle cx="703.6" cy="2361.4" r="2.8" fill="#000"/>
<circle cx="706.0" cy="2361.2" r="2.8" fill="#000"/>
<circle cx="701.2" cy="2392.7" r="2.8" fill="#000"/>
<circle cx="702.8" cy="2381.1" r="2.8" fill="#000"/>
<circle cx="705.4" cy="2423.4" r="2.8" fill="#000"/>
<circle cx="708.0" cy="2411.0" r="2.8" fill="#000"/>
<circle cx="710.6" cy="2318.5" r="2.8" fill="#000"/>
<circle cx="700.8" cy="2394.7" r="2.8" fill="#000"/>
<circle cx="699.7" cy="2408.3" r="2.8" fill="#000"/>
<circle cx="702.2" cy="2397.9" r="2.8" fill="#000"/>
<circle cx="702.0" cy="2382.0" r="2.8" fill="#000"/>
<circle cx="704.5" cy="2352.2" r="2.8" fill="#000"/>
<circle cx="701.7" cy="2313.4" r="2.8" fill="#000"/>
<circle cx="704.2" cy="2386.7" r="2.8" fill="#000"/>
<circle cx="707.6" cy="2293.7" r="2.8" fill="#000"/>
<circle cx="706.5" cy="2445.4" r="2.8" fill="#000"/>
<circle cx="744.6" cy="2465.8" r="2.8" fill="#000"/>
<circle cx="741.6" cy="2520.0" r="2.8" fill="#000"/>
<circle cx="740.5" cy="2350.1" r="2.8" fill="#000"/>
<circle cx="742.1" cy="2397.4" r="2.8" fill="#000"/>
<circle cx="741.1" cy="2284.7" r="2.8" fill="#000"/>
<circle cx="742.7" cy="2333.4" r="2.8" fill="#000"/>
<circle cx="743.2" cy="2494.7" r="2.8" fill="#000"/>
<circle cx="738.4" cy="2435.8" r="2.8" fill="#000"/>
<circle cx="744.8" cy="2498.3" r="2.8" fill="#000"/>
<circle cx="744.4" cy="2444.6" r="2.8" fill="#000"/>
<circle cx="734.3" cy="2318.9" r="2.8" fill="#000"/>
<circle cx="743.2" cy="2422.0" r="2.8" fill="#000"/>
<circle cx="738.8" cy="2528.7" r="2.8" fill="#000"/>
<circle cx="742.4" cy="2435.1" r="2.8" fill="#000"/>
<circle cx="735.1" cy="2404.6" r="2.8" fill="#000"/>
<circle cx="745.0" cy="2412.0" r="2.8" fill="#000"/>
<circle cx="736.9" cy="2467.5" r="2.8" fill="#000"/>
<circle cx="734.5" cy="2471.1" r="2.8" fill="#000"/>
<circle cx="734.2" cy="2397.0" r="2.8" fill="#000"/>
<circle cx="735.3" cy="2404.3" r="2.8" fill="#000"/>
<circle cx="734.0" cy="2446.9" r="2.8" fill="#000"/>
<circle cx="744.0" cy="2435.2" r="2.8" fill="#000"/>
<circle cx="741.8" cy="2354.5" r="2.8" fill="#000"/>
<circle cx="735.3" cy="2521.2" r="2.8" fill="#000"/>
<circle cx="739.6" cy="2440.1" r="2.8" fill="#000"/>
<circle cx="735.5" cy="2454.2" r="2.8" fill="#000"/>
<circle cx="738.5" cy="2324.3" r="2.8" fill="#000"/>
<circle cx="740.3" cy="2410.4" r="2.8" fill="#000"/>
<circle cx="736.8" cy="2375.7" r="2.8" fill="#000"/>
<circle cx="741.2" cy="2289.1" r="2.8" fill="#000"/>
<circle cx="745.0" cy="2460.8" r="2.8" fill="#000"/>
<circle cx="736.0" cy="2456.5" r="2.8" fill="#000"/>
<circle cx="738.7" cy="2394.7" r="2.8" fill="#000"/>
<circle cx="740.3" cy="2447.4" r="2.8" fill="#000"/>
<circle cx="736.2" cy="2447.9" r="2.8" fill="#000"/>
<circle cx="733.4" cy="2417.5" r="2.8" fill="#000"/>
<circle cx="734.6" cy="2478.3" r="2.8" fill="#000"/>
<circle cx="738.8" cy="2519.3" r="2.8" fill="#000"/>
<circle cx="733.4" cy="2397.9" r="2.8" fill="#000"/>
<circle cx="735.2" cy="2407.1" r="2.8" fill="#000"/>
<circle cx="741.8" cy="2278.7" r="2.8" fill="#000"/>
<circle cx="736.5" cy="2529.5" r="2.8" fill="#000"/>
<circle cx="776.3" cy="2413.6" r="2.8" fill="#000"/>
<circle cx="774.1" cy="2413.3" r="2.8" fill="#000"/>
<circle cx="776.9" cy="2387.6" r="2.8" fill="#000"/>
<circle cx="773.9" cy="2447.0" r="2.8" fill="#000"/>
<circle cx="775.5" cy="2312.7" r="2.8" fill="#000"/>
<path d="M617.8 2234.3 V2543.8 H794.0" fill="none" stroke="#000" stroke-width="2"/>
<line x1="638.4" y1="2543.8" x2="638.4" y2="2552.0" stroke="#333" stroke-width="1.6"/>
<line x1="671.7" y1="2543.8" x2="671.7" y2="2552.0" stroke="#333" stroke-width="1.6"/>
<line x1="705.1" y1="2543.8" x2="705.1" y2="2552.0" stroke="#333" stroke-width="1.6"/>
<line x1="739.4" y1="2543.8" x2="739.4" y2="2552.0" stroke="#333" stroke-width="1.6"/>
<line x1="773.3" y1="2543.8" x2="773.3" y2="2552.0" stroke="#333" stroke-width="1.6"/>
<line x1="860.6" y1="2310.5" x2="867.6" y2="2310.5" stroke="#333" stroke-width="1.6"/>
<text x="854.1" y="2318.7" font-size="23.5" text-anchor="end" fill="#4d4d4d">10.0</text>
<line x1="860.6" y1="2388.9" x2="867.6" y2="2388.9" stroke="#333" stroke-width="1.6"/>
<text x="854.1" y="2397.1" font-size="23.5" text-anchor="end" fill="#4d4d4d">7.5</text>
<line x1="860.6" y1="2467.0" x2="867.6" y2="2467.0" stroke="#333" stroke-width="1.6"/>
<text x="854.1" y="2475.2" font-size="23.5" text-anchor="end" fill="#4d4d4d">5.0</text>
<line x1="888.6" y1="2373.0" x2="888.6" y2="2404.1" stroke="#333" stroke-width="1.9"/>
<line x1="888.6" y1="2437.5" x2="888.6" y2="2467.0" stroke="#333" stroke-width="1.9"/>
<rect x="875.6" y="2404.1" width="26.0" height="33.4" fill="#F8766D" stroke="#333" stroke-width="1.9"/>
<line x1="875.6" y1="2435.9" x2="901.6" y2="2435.9" stroke="#333" stroke-width="4.2"/>
<line x1="921.9" y1="2310.5" x2="921.9" y2="2388.9" stroke="#333" stroke-width="1.9"/>
<line x1="921.9" y1="2467.0" x2="921.9" y2="2529.5" stroke="#333" stroke-width="1.9"/>
<rect x="908.9" y="2388.9" width="26.0" height="78.1" fill="#A3A500" stroke="#333" stroke-width="1.9"/>
<line x1="908.9" y1="2435.9" x2="934.9" y2="2435.9" stroke="#333" stroke-width="4.2"/>
<line x1="955.9" y1="2341.6" x2="955.9" y2="2373.0" stroke="#333" stroke-width="1.9"/>
<line x1="955.9" y1="2435.9" x2="955.9" y2="2498.4" stroke="#333" stroke-width="1.9"/>
<rect x="942.9" y="2373.0" width="26.0" height="62.9" fill="#00BF7D" stroke="#333" stroke-width="1.9"/>
<line x1="942.9" y1="2404.1" x2="968.9" y2="2404.1" stroke="#333" stroke-width="4.2"/>
<line x1="989.5" y1="2404.1" x2="989.5" y2="2435.9" stroke="#333" stroke-width="1.9"/>
<line x1="989.5" y1="2468.3" x2="989.5" y2="2498.4" stroke="#333" stroke-width="1.9"/>
<rect x="976.5" y="2435.9" width="26.0" height="32.4" fill="#00B0F6" stroke="#333" stroke-width="1.9"/>
<line x1="976.5" y1="2467.0" x2="1002.5" y2="2467.0" stroke="#333" stroke-width="4.2"/>
<rect x="1010.2" y="2435.9" width="26.0" height="0.5" fill="#E76BF3" stroke="#333" stroke-width="1.9"/>
<line x1="1010.2" y1="2435.9" x2="1036.2" y2="2435.9" stroke="#333" stroke-width="4.2"/>
<circle cx="887.6" cy="2247.9" r="2.8" fill="#000"/>
<circle cx="885.6" cy="2341.6" r="2.8" fill="#000"/>
<circle cx="890.1" cy="2341.6" r="2.8" fill="#000"/>
<circle cx="886.6" cy="2373.0" r="2.8" fill="#000"/>
<circle cx="890.6" cy="2373.0" r="2.8" fill="#000"/>
<circle cx="884.6" cy="2404.1" r="2.8" fill="#000"/>
<circle cx="887.1" cy="2404.1" r="2.8" fill="#000"/>
<circle cx="889.6" cy="2404.1" r="2.8" fill="#000"/>
<circle cx="892.1" cy="2404.1" r="2.8" fill="#000"/>
<circle cx="884.6" cy="2435.9" r="2.8" fill="#000"/>
<circle cx="887.1" cy="2435.9" r="2.8" fill="#000"/>
<circle cx="889.6" cy="2435.9" r="2.8" fill="#000"/>
<circle cx="892.1" cy="2435.9" r="2.8" fill="#000"/>
<circle cx="885.1" cy="2467.0" r="2.8" fill="#000"/>
<circle cx="889.1" cy="2467.0" r="2.8" fill="#000"/>
<circle cx="885.6" cy="2498.4" r="2.8" fill="#000"/>
<circle cx="888.6" cy="2498.4" r="2.8" fill="#000"/>
<circle cx="891.6" cy="2498.4" r="2.8" fill="#000"/>
<circle cx="889.6" cy="2529.5" r="2.8" fill="#000"/>
<circle cx="918.9" cy="2247.9" r="2.8" fill="#000"/>
<circle cx="924.4" cy="2310.5" r="2.8" fill="#000"/>
<circle cx="918.9" cy="2341.6" r="2.8" fill="#000"/>
<circle cx="923.9" cy="2341.6" r="2.8" fill="#000"/>
<circle cx="919.4" cy="2373.0" r="2.8" fill="#000"/>
<circle cx="918.9" cy="2404.1" r="2.8" fill="#000"/>
<circle cx="923.9" cy="2404.1" r="2.8" fill="#000"/>
<circle cx="919.4" cy="2435.9" r="2.8" fill="#000"/>
<circle cx="923.4" cy="2435.9" r="2.8" fill="#000"/>
<circle cx="919.9" cy="2467.0" r="2.8" fill="#000"/>
<circle cx="924.4" cy="2467.0" r="2.8" fill="#000"/>
<circle cx="923.4" cy="2498.4" r="2.8" fill="#000"/>
<circle cx="924.4" cy="2529.5" r="2.8" fill="#000"/>
<circle cx="952.9" cy="2341.6" r="2.8" fill="#000"/>
<circle cx="955.9" cy="2341.6" r="2.8" fill="#000"/>
<circle cx="958.9" cy="2341.6" r="2.8" fill="#000"/>
<circle cx="952.4" cy="2373.0" r="2.8" fill="#000"/>
<circle cx="954.9" cy="2373.0" r="2.8" fill="#000"/>
<circle cx="957.4" cy="2373.0" r="2.8" fill="#000"/>
<circle cx="959.9" cy="2373.0" r="2.8" fill="#000"/>
<circle cx="952.9" cy="2404.1" r="2.8" fill="#000"/>
<circle cx="955.9" cy="2404.1" r="2.8" fill="#000"/>
<circle cx="958.9" cy="2404.1" r="2.8" fill="#000"/>
<circle cx="952.9" cy="2435.9" r="2.8" fill="#000"/>
<circle cx="955.4" cy="2435.9" r="2.8" fill="#000"/>
<circle cx="957.9" cy="2435.9" r="2.8" fill="#000"/>
<circle cx="959.9" cy="2435.9" r="2.8" fill="#000"/>
<circle cx="952.9" cy="2467.0" r="2.8" fill="#000"/>
<circle cx="955.9" cy="2467.0" r="2.8" fill="#000"/>
<circle cx="959.4" cy="2467.0" r="2.8" fill="#000"/>
<circle cx="952.9" cy="2498.4" r="2.8" fill="#000"/>
<circle cx="959.4" cy="2498.4" r="2.8" fill="#000"/>
<circle cx="986.5" cy="2373.0" r="2.8" fill="#000"/>
<circle cx="989.5" cy="2373.0" r="2.8" fill="#000"/>
<circle cx="992.5" cy="2373.0" r="2.8" fill="#000"/>
<circle cx="986.5" cy="2404.1" r="2.8" fill="#000"/>
<circle cx="992.0" cy="2404.1" r="2.8" fill="#000"/>
<circle cx="986.5" cy="2435.9" r="2.8" fill="#000"/>
<circle cx="989.5" cy="2435.9" r="2.8" fill="#000"/>
<circle cx="992.5" cy="2435.9" r="2.8" fill="#000"/>
<circle cx="983.5" cy="2467.0" r="2.8" fill="#000"/>
<circle cx="986.5" cy="2467.0" r="2.8" fill="#000"/>
<circle cx="989.5" cy="2467.0" r="2.8" fill="#000"/>
<circle cx="992.5" cy="2467.0" r="2.8" fill="#000"/>
<circle cx="995.5" cy="2467.0" r="2.8" fill="#000"/>
<circle cx="987.0" cy="2498.4" r="2.8" fill="#000"/>
<circle cx="991.5" cy="2498.4" r="2.8" fill="#000"/>
<circle cx="987.0" cy="2529.5" r="2.8" fill="#000"/>
<circle cx="991.0" cy="2529.5" r="2.8" fill="#000"/>
<circle cx="1023.2" cy="2373.0" r="2.8" fill="#000"/>
<circle cx="1020.7" cy="2435.9" r="2.8" fill="#000"/>
<circle cx="1025.7" cy="2435.9" r="2.8" fill="#000"/>
<circle cx="1022.2" cy="2467.0" r="2.8" fill="#000"/>
<path d="M867.6 2234.3 V2543.8 H1043.2" fill="none" stroke="#000" stroke-width="2"/>
<line x1="888.6" y1="2543.8" x2="888.6" y2="2552.0" stroke="#333" stroke-width="1.6"/>
<line x1="921.9" y1="2543.8" x2="921.9" y2="2552.0" stroke="#333" stroke-width="1.6"/>
<line x1="955.9" y1="2543.8" x2="955.9" y2="2552.0" stroke="#333" stroke-width="1.6"/>
<line x1="989.5" y1="2543.8" x2="989.5" y2="2552.0" stroke="#333" stroke-width="1.6"/>
<line x1="1023.2" y1="2543.8" x2="1023.2" y2="2552.0" stroke="#333" stroke-width="1.6"/>
<text x="1109.3" y="2244.1" font-size="31">Subtype</text>
<line x1="1133.5" y1="2268.3" x2="1133.5" y2="2308.3" stroke="#333" stroke-width="2.2"/>
<rect x="1115.0" y="2275.8" width="37.5" height="25.0" fill="#F8766D" stroke="#333" stroke-width="2.2"/>
<line x1="1115.0" y1="2288.3" x2="1152.5" y2="2288.3" stroke="#333" stroke-width="2.2"/>
<circle cx="1133.5" cy="2288.3" r="3.4" fill="#000"/>
<text x="1172.0" y="2297.3" font-size="25.6">Bipolar</text>
<line x1="1133.5" y1="2316.4" x2="1133.5" y2="2356.4" stroke="#333" stroke-width="2.2"/>
<rect x="1115.0" y="2323.9" width="37.5" height="25.0" fill="#A3A500" stroke="#333" stroke-width="2.2"/>
<line x1="1115.0" y1="2336.4" x2="1152.5" y2="2336.4" stroke="#333" stroke-width="2.2"/>
<circle cx="1133.5" cy="2336.4" r="3.4" fill="#000"/>
<text x="1172.0" y="2345.4" font-size="25.6">Horizontal</text>
<line x1="1133.5" y1="2364.5" x2="1133.5" y2="2404.5" stroke="#333" stroke-width="2.2"/>
<rect x="1115.0" y="2372.0" width="37.5" height="25.0" fill="#00BF7D" stroke="#333" stroke-width="2.2"/>
<line x1="1115.0" y1="2384.5" x2="1152.5" y2="2384.5" stroke="#333" stroke-width="2.2"/>
<circle cx="1133.5" cy="2384.5" r="3.4" fill="#000"/>
<text x="1172.0" y="2393.5" font-size="25.6">Inverted</text>
<line x1="1133.5" y1="2412.6" x2="1133.5" y2="2452.6" stroke="#333" stroke-width="2.2"/>
<rect x="1115.0" y="2420.1" width="37.5" height="25.0" fill="#00B0F6" stroke="#333" stroke-width="2.2"/>
<line x1="1115.0" y1="2432.6" x2="1152.5" y2="2432.6" stroke="#333" stroke-width="2.2"/>
<circle cx="1133.5" cy="2432.6" r="3.4" fill="#000"/>
<text x="1172.0" y="2441.6" font-size="25.6">Multipolar</text>
<line x1="1133.5" y1="2460.7" x2="1133.5" y2="2500.7" stroke="#333" stroke-width="2.2"/>
<rect x="1115.0" y="2468.2" width="37.5" height="25.0" fill="#E76BF3" stroke="#333" stroke-width="2.2"/>
<line x1="1115.0" y1="2480.7" x2="1152.5" y2="2480.7" stroke="#333" stroke-width="2.2"/>
<circle cx="1133.5" cy="2480.7" r="3.4" fill="#000"/>
<text x="1172.0" y="2489.7" font-size="25.6">Tangential</text>
</svg></body></html>
